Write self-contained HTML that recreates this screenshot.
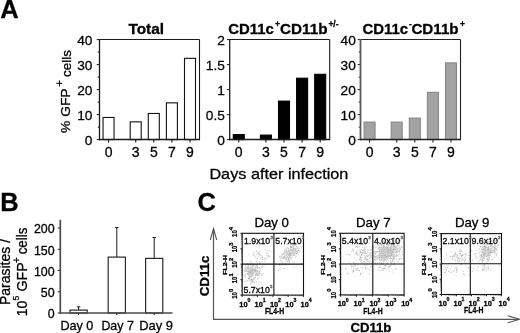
<!DOCTYPE html>
<html><head><meta charset="utf-8"><style>
html,body{margin:0;padding:0;background:#fff;width:520px;height:333px;overflow:hidden;}
#w{width:520px;height:333px;will-change:transform;background:#fff;}
svg{display:block;font-family:"Liberation Sans",sans-serif;}
</style></head><body><div id="w">
<svg width="520" height="333" viewBox="0 0 520 333" font-family="Liberation Sans, sans-serif"><defs><filter id="bl" x="-5%" y="-5%" width="110%" height="110%"><feGaussianBlur stdDeviation="0.45"/></filter></defs><text x="0.30" y="18.00" font-size="25.5" text-anchor="start" font-weight="bold" stroke="#000" stroke-width="0.28" fill="#000">A</text>
<line x1="99.50" y1="39.50" x2="199.50" y2="39.50" stroke="#1a1a1a" stroke-width="1.1"/>
<line x1="199.50" y1="39.50" x2="199.50" y2="139.60" stroke="#1a1a1a" stroke-width="1.1"/>
<line x1="96.70" y1="139.60" x2="99.50" y2="139.60" stroke="#1a1a1a" stroke-width="1"/>
<text x="92.40" y="144.50" font-size="13.7" text-anchor="end" stroke="#000" stroke-width="0.28" fill="#000">0</text>
<line x1="96.70" y1="114.60" x2="99.50" y2="114.60" stroke="#1a1a1a" stroke-width="1"/>
<text x="92.40" y="119.50" font-size="13.7" text-anchor="end" stroke="#000" stroke-width="0.28" fill="#000">10</text>
<line x1="96.70" y1="89.60" x2="99.50" y2="89.60" stroke="#1a1a1a" stroke-width="1"/>
<text x="92.40" y="94.50" font-size="13.7" text-anchor="end" stroke="#000" stroke-width="0.28" fill="#000">20</text>
<line x1="96.70" y1="64.60" x2="99.50" y2="64.60" stroke="#1a1a1a" stroke-width="1"/>
<text x="92.40" y="69.50" font-size="13.7" text-anchor="end" stroke="#000" stroke-width="0.28" fill="#000">30</text>
<line x1="96.70" y1="39.60" x2="99.50" y2="39.60" stroke="#1a1a1a" stroke-width="1"/>
<text x="92.40" y="44.50" font-size="13.7" text-anchor="end" stroke="#000" stroke-width="0.28" fill="#000">40</text>
<line x1="97.70" y1="127.10" x2="99.50" y2="127.10" stroke="#1a1a1a" stroke-width="1"/>
<line x1="97.70" y1="102.10" x2="99.50" y2="102.10" stroke="#1a1a1a" stroke-width="1"/>
<line x1="97.70" y1="77.10" x2="99.50" y2="77.10" stroke="#1a1a1a" stroke-width="1"/>
<line x1="97.70" y1="52.10" x2="99.50" y2="52.10" stroke="#1a1a1a" stroke-width="1"/>
<rect x="103.05" y="117.47" width="11.00" height="22.12" fill="#fff" stroke="#111" stroke-width="1.1"/>
<line x1="108.55" y1="139.60" x2="108.55" y2="142.40" stroke="#1a1a1a" stroke-width="1.1"/>
<text x="108.55" y="157.00" font-size="14" text-anchor="middle" stroke="#000" stroke-width="0.28" fill="#000">0</text>
<rect x="130.20" y="121.85" width="11.00" height="17.75" fill="#fff" stroke="#111" stroke-width="1.1"/>
<line x1="135.70" y1="139.60" x2="135.70" y2="142.40" stroke="#1a1a1a" stroke-width="1.1"/>
<text x="135.70" y="157.00" font-size="14" text-anchor="middle" stroke="#000" stroke-width="0.28" fill="#000">3</text>
<rect x="148.30" y="113.47" width="11.00" height="26.12" fill="#fff" stroke="#111" stroke-width="1.1"/>
<line x1="153.80" y1="139.60" x2="153.80" y2="142.40" stroke="#1a1a1a" stroke-width="1.1"/>
<text x="153.80" y="157.00" font-size="14" text-anchor="middle" stroke="#000" stroke-width="0.28" fill="#000">5</text>
<rect x="166.40" y="102.85" width="11.00" height="36.75" fill="#fff" stroke="#111" stroke-width="1.1"/>
<line x1="171.90" y1="139.60" x2="171.90" y2="142.40" stroke="#1a1a1a" stroke-width="1.1"/>
<text x="171.90" y="157.00" font-size="14" text-anchor="middle" stroke="#000" stroke-width="0.28" fill="#000">7</text>
<rect x="184.50" y="58.35" width="11.00" height="81.25" fill="#fff" stroke="#111" stroke-width="1.1"/>
<line x1="190.00" y1="139.60" x2="190.00" y2="142.40" stroke="#1a1a1a" stroke-width="1.1"/>
<text x="190.00" y="157.00" font-size="14" text-anchor="middle" stroke="#000" stroke-width="0.28" fill="#000">9</text>
<line x1="99.50" y1="39.00" x2="99.50" y2="140.30" stroke="#1a1a1a" stroke-width="1.3"/>
<line x1="99.00" y1="139.60" x2="200.00" y2="139.60" stroke="#1a1a1a" stroke-width="1.5"/>
<line x1="229.70" y1="39.50" x2="329.70" y2="39.50" stroke="#1a1a1a" stroke-width="1.1"/>
<line x1="329.70" y1="39.50" x2="329.70" y2="139.60" stroke="#1a1a1a" stroke-width="1.1"/>
<line x1="226.90" y1="139.60" x2="229.70" y2="139.60" stroke="#1a1a1a" stroke-width="1"/>
<text x="224.80" y="144.50" font-size="13.7" text-anchor="end" stroke="#000" stroke-width="0.28" fill="#000">0</text>
<line x1="226.90" y1="114.60" x2="229.70" y2="114.60" stroke="#1a1a1a" stroke-width="1"/>
<text x="224.80" y="119.50" font-size="13.7" text-anchor="end" stroke="#000" stroke-width="0.28" fill="#000">0.5</text>
<line x1="226.90" y1="89.60" x2="229.70" y2="89.60" stroke="#1a1a1a" stroke-width="1"/>
<text x="224.80" y="94.50" font-size="13.7" text-anchor="end" stroke="#000" stroke-width="0.28" fill="#000">1</text>
<line x1="226.90" y1="64.60" x2="229.70" y2="64.60" stroke="#1a1a1a" stroke-width="1"/>
<text x="224.80" y="69.50" font-size="13.7" text-anchor="end" stroke="#000" stroke-width="0.28" fill="#000">1.5</text>
<line x1="226.90" y1="39.60" x2="229.70" y2="39.60" stroke="#1a1a1a" stroke-width="1"/>
<text x="224.80" y="44.50" font-size="13.7" text-anchor="end" stroke="#000" stroke-width="0.28" fill="#000">2</text>
<rect x="233.25" y="134.60" width="11.00" height="5.00" fill="#000" stroke="#000" stroke-width="1.1"/>
<line x1="238.75" y1="139.60" x2="238.75" y2="142.40" stroke="#1a1a1a" stroke-width="1.1"/>
<text x="238.75" y="157.00" font-size="14" text-anchor="middle" stroke="#000" stroke-width="0.28" fill="#000">0</text>
<rect x="260.40" y="135.10" width="11.00" height="4.50" fill="#000" stroke="#000" stroke-width="1.1"/>
<line x1="265.90" y1="139.60" x2="265.90" y2="142.40" stroke="#1a1a1a" stroke-width="1.1"/>
<text x="265.90" y="157.00" font-size="14" text-anchor="middle" stroke="#000" stroke-width="0.28" fill="#000">3</text>
<rect x="278.50" y="101.10" width="11.00" height="38.50" fill="#000" stroke="#000" stroke-width="1.1"/>
<line x1="284.00" y1="139.60" x2="284.00" y2="142.40" stroke="#1a1a1a" stroke-width="1.1"/>
<text x="284.00" y="157.00" font-size="14" text-anchor="middle" stroke="#000" stroke-width="0.28" fill="#000">5</text>
<rect x="296.60" y="78.20" width="11.00" height="61.40" fill="#000" stroke="#000" stroke-width="1.1"/>
<line x1="302.10" y1="139.60" x2="302.10" y2="142.40" stroke="#1a1a1a" stroke-width="1.1"/>
<text x="302.10" y="157.00" font-size="14" text-anchor="middle" stroke="#000" stroke-width="0.28" fill="#000">7</text>
<rect x="314.70" y="74.30" width="11.00" height="65.30" fill="#000" stroke="#000" stroke-width="1.1"/>
<line x1="320.20" y1="139.60" x2="320.20" y2="142.40" stroke="#1a1a1a" stroke-width="1.1"/>
<text x="320.20" y="157.00" font-size="14" text-anchor="middle" stroke="#000" stroke-width="0.28" fill="#000">9</text>
<line x1="229.70" y1="39.00" x2="229.70" y2="140.30" stroke="#1a1a1a" stroke-width="1.3"/>
<line x1="229.20" y1="139.60" x2="330.20" y2="139.60" stroke="#1a1a1a" stroke-width="1.5"/>
<line x1="360.50" y1="39.50" x2="460.50" y2="39.50" stroke="#222" stroke-width="1.1"/>
<line x1="460.50" y1="39.50" x2="460.50" y2="139.60" stroke="#222" stroke-width="1.1"/>
<line x1="357.70" y1="139.60" x2="360.50" y2="139.60" stroke="#222" stroke-width="1"/>
<text x="355.80" y="144.50" font-size="13.7" text-anchor="end" stroke="#000" stroke-width="0.28" fill="#000">0</text>
<line x1="357.70" y1="114.60" x2="360.50" y2="114.60" stroke="#222" stroke-width="1"/>
<text x="355.80" y="119.50" font-size="13.7" text-anchor="end" stroke="#000" stroke-width="0.28" fill="#000">10</text>
<line x1="357.70" y1="89.60" x2="360.50" y2="89.60" stroke="#222" stroke-width="1"/>
<text x="355.80" y="94.50" font-size="13.7" text-anchor="end" stroke="#000" stroke-width="0.28" fill="#000">20</text>
<line x1="357.70" y1="64.60" x2="360.50" y2="64.60" stroke="#222" stroke-width="1"/>
<text x="355.80" y="69.50" font-size="13.7" text-anchor="end" stroke="#000" stroke-width="0.28" fill="#000">30</text>
<line x1="357.70" y1="39.60" x2="360.50" y2="39.60" stroke="#222" stroke-width="1"/>
<text x="355.80" y="44.50" font-size="13.7" text-anchor="end" stroke="#000" stroke-width="0.28" fill="#000">40</text>
<line x1="358.70" y1="127.10" x2="360.50" y2="127.10" stroke="#222" stroke-width="1"/>
<line x1="358.70" y1="102.10" x2="360.50" y2="102.10" stroke="#222" stroke-width="1"/>
<line x1="358.70" y1="77.10" x2="360.50" y2="77.10" stroke="#222" stroke-width="1"/>
<line x1="358.70" y1="52.10" x2="360.50" y2="52.10" stroke="#222" stroke-width="1"/>
<rect x="364.05" y="122.10" width="11.00" height="17.50" fill="#a3a3a3" stroke="#888" stroke-width="1.1"/>
<line x1="369.55" y1="139.60" x2="369.55" y2="142.40" stroke="#222" stroke-width="1.1"/>
<text x="369.55" y="157.00" font-size="14" text-anchor="middle" stroke="#000" stroke-width="0.28" fill="#000">0</text>
<rect x="391.20" y="122.10" width="11.00" height="17.50" fill="#a3a3a3" stroke="#888" stroke-width="1.1"/>
<line x1="396.70" y1="139.60" x2="396.70" y2="142.40" stroke="#222" stroke-width="1.1"/>
<text x="396.70" y="157.00" font-size="14" text-anchor="middle" stroke="#000" stroke-width="0.28" fill="#000">3</text>
<rect x="409.30" y="118.10" width="11.00" height="21.50" fill="#a3a3a3" stroke="#888" stroke-width="1.1"/>
<line x1="414.80" y1="139.60" x2="414.80" y2="142.40" stroke="#222" stroke-width="1.1"/>
<text x="414.80" y="157.00" font-size="14" text-anchor="middle" stroke="#000" stroke-width="0.28" fill="#000">5</text>
<rect x="427.40" y="92.35" width="11.00" height="47.25" fill="#a3a3a3" stroke="#888" stroke-width="1.1"/>
<line x1="432.90" y1="139.60" x2="432.90" y2="142.40" stroke="#222" stroke-width="1.1"/>
<text x="432.90" y="157.00" font-size="14" text-anchor="middle" stroke="#000" stroke-width="0.28" fill="#000">7</text>
<rect x="445.50" y="62.85" width="11.00" height="76.75" fill="#a3a3a3" stroke="#888" stroke-width="1.1"/>
<line x1="451.00" y1="139.60" x2="451.00" y2="142.40" stroke="#222" stroke-width="1.1"/>
<text x="451.00" y="157.00" font-size="14" text-anchor="middle" stroke="#000" stroke-width="0.28" fill="#000">9</text>
<line x1="360.50" y1="39.00" x2="360.50" y2="140.30" stroke="#5a5a5a" stroke-width="1.8"/>
<line x1="360.00" y1="139.60" x2="461.00" y2="139.60" stroke="#222" stroke-width="1.5"/>
<text x="128.40" y="33.80" font-size="14.3" text-anchor="start" font-weight="bold" stroke="#000" stroke-width="0.28" textLength="35.60" lengthAdjust="spacingAndGlyphs" fill="#000">Total</text>
<text x="228.20" y="34.00" font-size="14.3" text-anchor="start" font-weight="bold" stroke="#000" stroke-width="0.28" textLength="45.60" lengthAdjust="spacingAndGlyphs" fill="#000">CD11c</text>
<text x="275.00" y="27.00" font-size="8.5" text-anchor="start" font-weight="bold" stroke="#000" stroke-width="0.28" fill="#000">+</text>
<text x="280.00" y="34.00" font-size="14.3" text-anchor="start" font-weight="bold" stroke="#000" stroke-width="0.28" textLength="47.60" lengthAdjust="spacingAndGlyphs" fill="#000">CD11b</text>
<text x="328.40" y="27.00" font-size="8.5" text-anchor="start" font-weight="bold" stroke="#000" stroke-width="0.28" fill="#000">+/-</text>
<text x="362.40" y="33.80" font-size="14.3" text-anchor="start" font-weight="bold" stroke="#000" stroke-width="0.28" textLength="45.60" lengthAdjust="spacingAndGlyphs" fill="#000">CD11c</text>
<text x="409.00" y="27.00" font-size="8.5" text-anchor="start" font-weight="bold" stroke="#000" stroke-width="0.28" fill="#000">-</text>
<text x="411.40" y="33.80" font-size="14.3" text-anchor="start" font-weight="bold" stroke="#000" stroke-width="0.28" textLength="47.20" lengthAdjust="spacingAndGlyphs" fill="#000">CD11b</text>
<text x="460.00" y="27.00" font-size="8.5" text-anchor="start" font-weight="bold" stroke="#000" stroke-width="0.28" fill="#000">+</text>
<text transform="translate(70.40,133.00) rotate(-90)" font-size="13.7" text-anchor="start" stroke="#000" stroke-width="0.28" textLength="44.60" lengthAdjust="spacingAndGlyphs" fill="#000">% GFP</text>
<text transform="translate(62.80,86.70) rotate(-90)" font-size="11.5" text-anchor="start" stroke="#000" stroke-width="0.28" fill="#000">+</text>
<text transform="translate(70.60,76.90) rotate(-90)" font-size="13.7" text-anchor="start" stroke="#000" stroke-width="0.28" textLength="26.80" lengthAdjust="spacingAndGlyphs" fill="#000">cells</text>
<text x="209.40" y="178.50" font-size="15.3" text-anchor="start" stroke="#000" stroke-width="0.28" textLength="139.00" lengthAdjust="spacingAndGlyphs" fill="#000">Days after infection</text>
<text x="0.30" y="210.80" font-size="25.5" text-anchor="start" font-weight="bold" stroke="#000" stroke-width="0.28" fill="#000">B</text>
<line x1="57.80" y1="313.00" x2="60.30" y2="313.00" stroke="#1a1a1a" stroke-width="1"/>
<text x="54.60" y="318.30" font-size="12.4" text-anchor="end" stroke="#000" stroke-width="0.28" fill="#000">0</text>
<line x1="57.80" y1="291.75" x2="60.30" y2="291.75" stroke="#1a1a1a" stroke-width="1"/>
<text x="54.60" y="297.05" font-size="12.4" text-anchor="end" stroke="#000" stroke-width="0.28" fill="#000">50</text>
<line x1="57.80" y1="270.50" x2="60.30" y2="270.50" stroke="#1a1a1a" stroke-width="1"/>
<text x="54.60" y="275.80" font-size="12.4" text-anchor="end" stroke="#000" stroke-width="0.28" fill="#000">100</text>
<line x1="57.80" y1="249.25" x2="60.30" y2="249.25" stroke="#1a1a1a" stroke-width="1"/>
<text x="54.60" y="254.55" font-size="12.4" text-anchor="end" stroke="#000" stroke-width="0.28" fill="#000">150</text>
<line x1="57.80" y1="228.00" x2="60.30" y2="228.00" stroke="#1a1a1a" stroke-width="1"/>
<text x="54.60" y="233.30" font-size="12.4" text-anchor="end" stroke="#000" stroke-width="0.28" fill="#000">200</text>
<line x1="78.60" y1="310.11" x2="78.60" y2="306.84" stroke="#1a1a1a" stroke-width="1"/>
<line x1="76.90" y1="306.84" x2="80.30" y2="306.84" stroke="#1a1a1a" stroke-width="1"/>
<rect x="70.00" y="310.11" width="17.20" height="2.89" fill="#fff" stroke="#2a2a2a" stroke-width="1.2"/>
<line x1="78.60" y1="313.00" x2="78.60" y2="315.00" stroke="#1a1a1a" stroke-width="1"/>
<text x="60.40" y="329.60" font-size="12.6" text-anchor="start" stroke="#000" stroke-width="0.28" textLength="33.00" lengthAdjust="spacingAndGlyphs" fill="#000">Day 0</text>
<line x1="116.80" y1="257.11" x2="116.80" y2="227.57" stroke="#1a1a1a" stroke-width="1"/>
<line x1="115.10" y1="227.57" x2="118.50" y2="227.57" stroke="#1a1a1a" stroke-width="1"/>
<rect x="108.20" y="257.11" width="17.20" height="55.89" fill="#fff" stroke="#2a2a2a" stroke-width="1.2"/>
<line x1="116.80" y1="313.00" x2="116.80" y2="315.00" stroke="#1a1a1a" stroke-width="1"/>
<text x="101.40" y="329.60" font-size="12.6" text-anchor="start" stroke="#000" stroke-width="0.28" textLength="32.40" lengthAdjust="spacingAndGlyphs" fill="#000">Day 7</text>
<line x1="154.20" y1="258.39" x2="154.20" y2="237.56" stroke="#1a1a1a" stroke-width="1"/>
<line x1="152.50" y1="237.56" x2="155.90" y2="237.56" stroke="#1a1a1a" stroke-width="1"/>
<rect x="145.60" y="258.39" width="17.20" height="54.61" fill="#fff" stroke="#2a2a2a" stroke-width="1.2"/>
<line x1="154.20" y1="313.00" x2="154.20" y2="315.00" stroke="#1a1a1a" stroke-width="1"/>
<text x="139.20" y="329.60" font-size="12.6" text-anchor="start" stroke="#000" stroke-width="0.28" textLength="33.80" lengthAdjust="spacingAndGlyphs" fill="#000">Day 9</text>
<line x1="60.30" y1="219.80" x2="60.30" y2="313.70" stroke="#4a4a4a" stroke-width="1.7"/>
<line x1="59.80" y1="313.00" x2="172.50" y2="313.00" stroke="#4a4a4a" stroke-width="1.5"/>
<text transform="translate(9.70,305.10) rotate(-90)" font-size="14" text-anchor="start" stroke="#000" stroke-width="0.28" fill="#000">Parasites /</text>
<text transform="translate(26.90,316.30) rotate(-90)" font-size="14" text-anchor="start" stroke="#000" stroke-width="0.28" fill="#000">10</text>
<text transform="translate(18.60,300.40) rotate(-90)" font-size="8.6" text-anchor="start" stroke="#000" stroke-width="0.28" fill="#000">5</text>
<text transform="translate(26.70,291.50) rotate(-90)" font-size="14" text-anchor="start" stroke="#000" stroke-width="0.28" textLength="29.20" lengthAdjust="spacingAndGlyphs" fill="#000">GFP</text>
<text transform="translate(20.40,262.90) rotate(-90)" font-size="10" text-anchor="start" stroke="#000" stroke-width="0.28" fill="#000">+</text>
<text transform="translate(26.70,254.30) rotate(-90)" font-size="14" text-anchor="start" stroke="#000" stroke-width="0.28" textLength="26.60" lengthAdjust="spacingAndGlyphs" fill="#000">cells</text>
<text x="197.60" y="210.80" font-size="25.5" text-anchor="start" font-weight="bold" stroke="#000" stroke-width="0.28" fill="#000">C</text>
<line x1="213.50" y1="229.00" x2="213.50" y2="319.30" stroke="#555" stroke-width="1.2"/>
<line x1="213.00" y1="319.30" x2="519.00" y2="319.30" stroke="#555" stroke-width="1.2"/>
<path d="M210.3,240 L213.5,228.5 L216.7,240" fill="none" stroke="#555" stroke-width="1.1"/>
<path d="M507.7,315.8 L519.6,319.3 L507.7,322.8" fill="none" stroke="#555" stroke-width="1.1"/>
<text transform="translate(209.30,296.20) rotate(-90)" font-size="12.5" text-anchor="start" font-weight="bold" stroke="#000" stroke-width="0.28" textLength="40.50" lengthAdjust="spacingAndGlyphs" fill="#000">CD11c</text>
<text x="350.40" y="332.30" font-size="13" text-anchor="start" font-weight="bold" stroke="#000" stroke-width="0.28" textLength="41.00" lengthAdjust="spacingAndGlyphs" fill="#000">CD11b</text>
<g filter="url(#bl)">
<rect x="288.8" y="254.9" width="1" height="1" fill="rgb(211,211,211)"/>
<rect x="298.0" y="250.0" width="1" height="1" fill="rgb(176,176,176)"/>
<rect x="289.0" y="253.7" width="1" height="1" fill="rgb(202,202,202)"/>
<rect x="290.4" y="253.6" width="1" height="1" fill="rgb(196,196,196)"/>
<rect x="291.8" y="251.8" width="1" height="1" fill="rgb(197,197,197)"/>
<rect x="295.4" y="251.0" width="1" height="1" fill="rgb(184,184,184)"/>
<rect x="285.9" y="250.1" width="1" height="1" fill="rgb(173,173,173)"/>
<rect x="286.0" y="252.2" width="1" height="1" fill="rgb(184,184,184)"/>
<rect x="298.5" y="249.7" width="1" height="1" fill="rgb(188,188,188)"/>
<rect x="285.1" y="257.4" width="1" height="1" fill="rgb(206,206,206)"/>
<rect x="287.0" y="261.1" width="1" height="1" fill="rgb(181,181,181)"/>
<rect x="294.7" y="252.8" width="1" height="1" fill="rgb(182,182,182)"/>
<rect x="286.1" y="258.1" width="1" height="1" fill="rgb(174,174,174)"/>
<rect x="284.3" y="252.8" width="1" height="1" fill="rgb(201,201,201)"/>
<rect x="288.0" y="249.0" width="1" height="1" fill="rgb(190,190,190)"/>
<rect x="280.0" y="259.6" width="1" height="1" fill="rgb(193,193,193)"/>
<rect x="287.5" y="260.7" width="1" height="1" fill="rgb(214,214,214)"/>
<rect x="290.3" y="250.0" width="1" height="1" fill="rgb(189,189,189)"/>
<rect x="280.9" y="255.6" width="1" height="1" fill="rgb(216,216,216)"/>
<rect x="284.1" y="257.1" width="1" height="1" fill="rgb(174,174,174)"/>
<rect x="293.5" y="253.1" width="1" height="1" fill="rgb(218,218,218)"/>
<rect x="284.3" y="263.6" width="1" height="1" fill="rgb(196,196,196)"/>
<rect x="296.5" y="250.0" width="1" height="1" fill="rgb(218,218,218)"/>
<rect x="282.6" y="253.4" width="1" height="1" fill="rgb(190,190,190)"/>
<rect x="287.8" y="256.6" width="1" height="1" fill="rgb(201,201,201)"/>
<rect x="285.6" y="252.1" width="1" height="1" fill="rgb(175,175,175)"/>
<rect x="294.8" y="247.7" width="1" height="1" fill="rgb(212,212,212)"/>
<rect x="296.7" y="251.1" width="1" height="1" fill="rgb(189,189,189)"/>
<rect x="281.5" y="245.8" width="1" height="1" fill="rgb(198,198,198)"/>
<rect x="289.0" y="256.7" width="1" height="1" fill="rgb(212,212,212)"/>
<rect x="283.9" y="263.8" width="1" height="1" fill="rgb(192,192,192)"/>
<rect x="291.1" y="253.3" width="1" height="1" fill="rgb(173,173,173)"/>
<rect x="290.7" y="255.1" width="1" height="1" fill="rgb(217,217,217)"/>
<rect x="290.1" y="256.3" width="1" height="1" fill="rgb(201,201,201)"/>
<rect x="294.3" y="251.9" width="1" height="1" fill="rgb(205,205,205)"/>
<rect x="289.6" y="254.6" width="1" height="1" fill="rgb(197,197,197)"/>
<rect x="292.4" y="248.0" width="1" height="1" fill="rgb(196,196,196)"/>
<rect x="296.8" y="247.7" width="1" height="1" fill="rgb(194,194,194)"/>
<rect x="292.5" y="250.0" width="1" height="1" fill="rgb(181,181,181)"/>
<rect x="293.8" y="255.0" width="1" height="1" fill="rgb(170,170,170)"/>
<rect x="284.0" y="255.9" width="1" height="1" fill="rgb(186,186,186)"/>
<rect x="289.5" y="254.7" width="1" height="1" fill="rgb(204,204,204)"/>
<rect x="286.0" y="258.3" width="1" height="1" fill="rgb(178,178,178)"/>
<rect x="288.0" y="248.2" width="1" height="1" fill="rgb(209,209,209)"/>
<rect x="285.8" y="248.4" width="1" height="1" fill="rgb(199,199,199)"/>
<rect x="296.3" y="244.0" width="1" height="1" fill="rgb(213,213,213)"/>
<rect x="291.3" y="247.1" width="1" height="1" fill="rgb(195,195,195)"/>
<rect x="285.9" y="257.3" width="1" height="1" fill="rgb(195,195,195)"/>
<rect x="291.6" y="251.8" width="1" height="1" fill="rgb(183,183,183)"/>
<rect x="288.0" y="253.9" width="1" height="1" fill="rgb(208,208,208)"/>
<rect x="290.1" y="252.0" width="1" height="1" fill="rgb(179,179,179)"/>
<rect x="279.3" y="255.5" width="1" height="1" fill="rgb(209,209,209)"/>
<rect x="299.0" y="248.4" width="1" height="1" fill="rgb(209,209,209)"/>
<rect x="285.5" y="258.8" width="1" height="1" fill="rgb(192,192,192)"/>
<rect x="285.9" y="251.3" width="1" height="1" fill="rgb(177,177,177)"/>
<rect x="298.3" y="236.3" width="1" height="1" fill="rgb(199,199,199)"/>
<rect x="286.1" y="254.6" width="1" height="1" fill="rgb(179,179,179)"/>
<rect x="293.3" y="252.5" width="1" height="1" fill="rgb(186,186,186)"/>
<rect x="283.2" y="256.7" width="1" height="1" fill="rgb(203,203,203)"/>
<rect x="300.9" y="247.5" width="1" height="1" fill="rgb(203,203,203)"/>
<rect x="285.6" y="259.5" width="1" height="1" fill="rgb(171,171,171)"/>
<rect x="290.2" y="248.3" width="1" height="1" fill="rgb(211,211,211)"/>
<rect x="294.5" y="244.4" width="1" height="1" fill="rgb(186,186,186)"/>
<rect x="280.2" y="256.3" width="1" height="1" fill="rgb(192,192,192)"/>
<rect x="290.8" y="246.3" width="1" height="1" fill="rgb(202,202,202)"/>
<rect x="288.5" y="255.6" width="1" height="1" fill="rgb(218,218,218)"/>
<rect x="294.9" y="243.0" width="1" height="1" fill="rgb(195,195,195)"/>
<rect x="289.8" y="249.0" width="1" height="1" fill="rgb(203,203,203)"/>
<rect x="282.7" y="256.4" width="1" height="1" fill="rgb(171,171,171)"/>
<rect x="291.3" y="246.6" width="1" height="1" fill="rgb(182,182,182)"/>
<rect x="286.0" y="244.1" width="1" height="1" fill="rgb(198,198,198)"/>
<rect x="292.6" y="244.1" width="1" height="1" fill="rgb(192,192,192)"/>
<rect x="294.1" y="248.6" width="1" height="1" fill="rgb(184,184,184)"/>
<rect x="294.1" y="252.7" width="1" height="1" fill="rgb(191,191,191)"/>
<rect x="291.8" y="256.8" width="1" height="1" fill="rgb(209,209,209)"/>
<rect x="292.8" y="246.3" width="1" height="1" fill="rgb(211,211,211)"/>
<rect x="286.4" y="259.2" width="1" height="1" fill="rgb(212,212,212)"/>
<rect x="293.3" y="253.1" width="1" height="1" fill="rgb(215,215,215)"/>
<rect x="290.0" y="247.1" width="1" height="1" fill="rgb(181,181,181)"/>
<rect x="284.1" y="257.7" width="1" height="1" fill="rgb(175,175,175)"/>
<rect x="293.8" y="238.9" width="1" height="1" fill="rgb(195,195,195)"/>
<rect x="282.8" y="257.7" width="1" height="1" fill="rgb(175,175,175)"/>
<rect x="289.6" y="249.6" width="1" height="1" fill="rgb(178,178,178)"/>
<rect x="295.9" y="249.7" width="1" height="1" fill="rgb(199,199,199)"/>
<rect x="290.9" y="249.2" width="1" height="1" fill="rgb(208,208,208)"/>
<rect x="296.5" y="247.6" width="1" height="1" fill="rgb(192,192,192)"/>
<rect x="293.2" y="254.8" width="1" height="1" fill="rgb(171,171,171)"/>
<rect x="301.9" y="246.4" width="1" height="1" fill="rgb(211,211,211)"/>
<rect x="296.0" y="253.0" width="1" height="1" fill="rgb(178,178,178)"/>
<rect x="281.7" y="260.2" width="1" height="1" fill="rgb(183,183,183)"/>
<rect x="293.1" y="250.8" width="1" height="1" fill="rgb(202,202,202)"/>
<rect x="290.4" y="257.5" width="1" height="1" fill="rgb(186,186,186)"/>
<rect x="281.8" y="254.3" width="1" height="1" fill="rgb(173,173,173)"/>
<rect x="293.6" y="247.9" width="1" height="1" fill="rgb(199,199,199)"/>
<rect x="285.7" y="247.6" width="1" height="1" fill="rgb(203,203,203)"/>
<rect x="281.2" y="261.5" width="1" height="1" fill="rgb(202,202,202)"/>
<rect x="291.8" y="252.8" width="1" height="1" fill="rgb(202,202,202)"/>
<rect x="294.8" y="249.9" width="1" height="1" fill="rgb(181,181,181)"/>
<rect x="284.0" y="250.6" width="1" height="1" fill="rgb(179,179,179)"/>
<rect x="292.4" y="255.0" width="1" height="1" fill="rgb(216,216,216)"/>
<rect x="291.2" y="252.4" width="1" height="1" fill="rgb(213,213,213)"/>
<rect x="284.3" y="254.5" width="1" height="1" fill="rgb(176,176,176)"/>
<rect x="291.1" y="250.4" width="1" height="1" fill="rgb(182,182,182)"/>
<rect x="288.7" y="260.1" width="1" height="1" fill="rgb(202,202,202)"/>
<rect x="289.0" y="252.9" width="1" height="1" fill="rgb(174,174,174)"/>
<rect x="284.2" y="257.3" width="1" height="1" fill="rgb(202,202,202)"/>
<rect x="287.6" y="251.5" width="1" height="1" fill="rgb(187,187,187)"/>
<rect x="284.7" y="256.5" width="1" height="1" fill="rgb(200,200,200)"/>
<rect x="286.6" y="253.7" width="1" height="1" fill="rgb(203,203,203)"/>
<rect x="297.7" y="240.5" width="1" height="1" fill="rgb(186,186,186)"/>
<rect x="298.4" y="243.1" width="1" height="1" fill="rgb(182,182,182)"/>
<rect x="291.3" y="249.3" width="1" height="1" fill="rgb(177,177,177)"/>
<rect x="286.9" y="256.1" width="1" height="1" fill="rgb(212,212,212)"/>
<rect x="290.1" y="253.6" width="1" height="1" fill="rgb(212,212,212)"/>
<rect x="289.3" y="254.5" width="1" height="1" fill="rgb(179,179,179)"/>
<rect x="296.0" y="246.4" width="1" height="1" fill="rgb(193,193,193)"/>
<rect x="295.8" y="255.8" width="1" height="1" fill="rgb(199,199,199)"/>
<rect x="292.1" y="261.3" width="1" height="1" fill="rgb(195,195,195)"/>
<rect x="292.0" y="249.2" width="1" height="1" fill="rgb(212,212,212)"/>
<rect x="291.3" y="249.0" width="1" height="1" fill="rgb(197,197,197)"/>
<rect x="294.6" y="249.3" width="1" height="1" fill="rgb(196,196,196)"/>
<rect x="291.3" y="254.8" width="1" height="1" fill="rgb(216,216,216)"/>
<rect x="287.3" y="256.4" width="1" height="1" fill="rgb(199,199,199)"/>
<rect x="289.2" y="252.7" width="1" height="1" fill="rgb(191,191,191)"/>
<rect x="286.3" y="253.7" width="1" height="1" fill="rgb(174,174,174)"/>
<rect x="297.6" y="254.1" width="1" height="1" fill="rgb(184,184,184)"/>
<rect x="292.1" y="250.5" width="1" height="1" fill="rgb(186,186,186)"/>
<rect x="288.7" y="262.1" width="1" height="1" fill="rgb(181,181,181)"/>
<rect x="289.7" y="254.4" width="1" height="1" fill="rgb(197,197,197)"/>
<rect x="294.0" y="244.5" width="1" height="1" fill="rgb(186,186,186)"/>
<rect x="285.4" y="257.6" width="1" height="1" fill="rgb(202,202,202)"/>
<rect x="283.7" y="252.6" width="1" height="1" fill="rgb(175,175,175)"/>
<rect x="288.5" y="260.4" width="1" height="1" fill="rgb(181,181,181)"/>
<rect x="288.4" y="253.6" width="1" height="1" fill="rgb(171,171,171)"/>
<rect x="284.6" y="249.2" width="1" height="1" fill="rgb(175,175,175)"/>
<rect x="287.5" y="251.4" width="1" height="1" fill="rgb(186,186,186)"/>
<rect x="293.2" y="246.6" width="1" height="1" fill="rgb(191,191,191)"/>
<rect x="294.7" y="249.2" width="1" height="1" fill="rgb(187,187,187)"/>
<rect x="289.0" y="251.6" width="1" height="1" fill="rgb(215,215,215)"/>
<rect x="290.2" y="254.0" width="1" height="1" fill="rgb(180,180,180)"/>
<rect x="289.8" y="254.8" width="1" height="1" fill="rgb(189,189,189)"/>
<rect x="286.2" y="250.3" width="1" height="1" fill="rgb(183,183,183)"/>
<rect x="288.7" y="257.7" width="1" height="1" fill="rgb(181,181,181)"/>
<rect x="289.0" y="260.3" width="1" height="1" fill="rgb(186,186,186)"/>
<rect x="290.8" y="251.7" width="1" height="1" fill="rgb(202,202,202)"/>
<rect x="287.2" y="252.7" width="1" height="1" fill="rgb(200,200,200)"/>
<rect x="290.1" y="256.6" width="1" height="1" fill="rgb(212,212,212)"/>
<rect x="292.0" y="246.7" width="1" height="1" fill="rgb(201,201,201)"/>
<rect x="281.0" y="254.4" width="1" height="1" fill="rgb(202,202,202)"/>
<rect x="288.9" y="255.4" width="1" height="1" fill="rgb(184,184,184)"/>
<rect x="285.3" y="261.4" width="1" height="1" fill="rgb(215,215,215)"/>
<rect x="289.7" y="249.8" width="1" height="1" fill="rgb(192,192,192)"/>
<rect x="298.5" y="246.3" width="1" height="1" fill="rgb(170,170,170)"/>
<rect x="296.7" y="251.3" width="1" height="1" fill="rgb(186,186,186)"/>
<rect x="288.6" y="253.4" width="1" height="1" fill="rgb(212,212,212)"/>
<rect x="294.9" y="241.9" width="1" height="1" fill="rgb(212,212,212)"/>
<rect x="296.0" y="247.6" width="1" height="1" fill="rgb(214,214,214)"/>
<rect x="288.7" y="257.4" width="1" height="1" fill="rgb(180,180,180)"/>
<rect x="290.0" y="252.4" width="1" height="1" fill="rgb(193,193,193)"/>
<rect x="301.7" y="242.7" width="1" height="1" fill="rgb(205,205,205)"/>
<rect x="289.5" y="253.3" width="1" height="1" fill="rgb(189,189,189)"/>
<rect x="290.6" y="254.4" width="1" height="1" fill="rgb(191,191,191)"/>
<rect x="286.2" y="257.4" width="1" height="1" fill="rgb(202,202,202)"/>
<rect x="288.1" y="250.3" width="1" height="1" fill="rgb(170,170,170)"/>
<rect x="297.0" y="252.4" width="1" height="1" fill="rgb(179,179,179)"/>
<rect x="288.9" y="253.3" width="1" height="1" fill="rgb(171,171,171)"/>
<rect x="288.1" y="258.9" width="1" height="1" fill="rgb(175,175,175)"/>
<rect x="285.3" y="251.9" width="1" height="1" fill="rgb(218,218,218)"/>
<rect x="295.3" y="256.6" width="1" height="1" fill="rgb(208,208,208)"/>
<rect x="286.9" y="256.2" width="1" height="1" fill="rgb(201,201,201)"/>
<rect x="294.3" y="255.2" width="1" height="1" fill="rgb(211,211,211)"/>
<rect x="295.2" y="255.5" width="1" height="1" fill="rgb(215,215,215)"/>
<rect x="294.9" y="245.4" width="1" height="1" fill="rgb(216,216,216)"/>
<rect x="288.4" y="248.0" width="1" height="1" fill="rgb(203,203,203)"/>
<rect x="290.1" y="246.3" width="1" height="1" fill="rgb(171,171,171)"/>
<rect x="292.8" y="245.4" width="1" height="1" fill="rgb(215,215,215)"/>
<rect x="287.2" y="247.5" width="1" height="1" fill="rgb(184,184,184)"/>
<rect x="291.1" y="252.0" width="1" height="1" fill="rgb(210,210,210)"/>
<rect x="288.6" y="254.3" width="1" height="1" fill="rgb(198,198,198)"/>
<rect x="284.1" y="253.1" width="1" height="1" fill="rgb(210,210,210)"/>
<rect x="286.7" y="253.2" width="1" height="1" fill="rgb(186,186,186)"/>
<rect x="298.0" y="247.7" width="1" height="1" fill="rgb(217,217,217)"/>
<rect x="298.8" y="243.3" width="1" height="1" fill="rgb(175,175,175)"/>
<rect x="289.1" y="251.2" width="1" height="1" fill="rgb(217,217,217)"/>
<rect x="281.9" y="257.8" width="1" height="1" fill="rgb(186,186,186)"/>
<rect x="290.7" y="258.8" width="1" height="1" fill="rgb(184,184,184)"/>
<rect x="289.2" y="240.7" width="1" height="1" fill="rgb(201,201,201)"/>
<rect x="291.0" y="250.0" width="1" height="1" fill="rgb(213,213,213)"/>
<rect x="289.7" y="253.5" width="1" height="1" fill="rgb(210,210,210)"/>
<rect x="288.9" y="251.3" width="1" height="1" fill="rgb(179,179,179)"/>
<rect x="286.8" y="259.3" width="1" height="1" fill="rgb(214,214,214)"/>
<rect x="288.0" y="258.4" width="1" height="1" fill="rgb(170,170,170)"/>
<rect x="284.8" y="255.4" width="1" height="1" fill="rgb(213,213,213)"/>
<rect x="292.6" y="252.4" width="1" height="1" fill="rgb(201,201,201)"/>
<rect x="288.6" y="257.8" width="1" height="1" fill="rgb(199,199,199)"/>
<rect x="282.5" y="257.7" width="1" height="1" fill="rgb(205,205,205)"/>
<rect x="293.9" y="261.2" width="1" height="1" fill="rgb(200,200,200)"/>
<rect x="295.0" y="249.8" width="1" height="1" fill="rgb(202,202,202)"/>
<rect x="294.8" y="248.4" width="1" height="1" fill="rgb(187,187,187)"/>
<rect x="282.4" y="262.5" width="1" height="1" fill="rgb(183,183,183)"/>
<rect x="291.7" y="251.9" width="1" height="1" fill="rgb(217,217,217)"/>
<rect x="279.0" y="256.5" width="1" height="1" fill="rgb(178,178,178)"/>
<rect x="284.9" y="251.1" width="1" height="1" fill="rgb(187,187,187)"/>
<rect x="295.3" y="244.6" width="1" height="1" fill="rgb(184,184,184)"/>
<rect x="280.8" y="257.2" width="1" height="1" fill="rgb(195,195,195)"/>
<rect x="290.4" y="251.8" width="1" height="1" fill="rgb(201,201,201)"/>
<rect x="288.1" y="249.0" width="1" height="1" fill="rgb(216,216,216)"/>
<rect x="292.6" y="253.6" width="1" height="1" fill="rgb(190,190,190)"/>
<rect x="292.9" y="253.0" width="1" height="1" fill="rgb(190,190,190)"/>
<rect x="290.0" y="243.7" width="1" height="1" fill="rgb(177,177,177)"/>
<rect x="292.8" y="249.4" width="1" height="1" fill="rgb(170,170,170)"/>
<rect x="293.0" y="248.2" width="1" height="1" fill="rgb(193,193,193)"/>
<rect x="294.1" y="251.4" width="1" height="1" fill="rgb(207,207,207)"/>
<rect x="299.1" y="251.5" width="1" height="1" fill="rgb(218,218,218)"/>
<rect x="289.8" y="253.5" width="1" height="1" fill="rgb(176,176,176)"/>
<rect x="296.3" y="250.5" width="1" height="1" fill="rgb(210,210,210)"/>
<rect x="293.1" y="249.0" width="1" height="1" fill="rgb(187,187,187)"/>
<rect x="286.4" y="255.5" width="1" height="1" fill="rgb(193,193,193)"/>
<rect x="291.0" y="247.0" width="1" height="1" fill="rgb(171,171,171)"/>
<rect x="292.4" y="245.0" width="1" height="1" fill="rgb(205,205,205)"/>
<rect x="283.2" y="253.7" width="1" height="1" fill="rgb(173,173,173)"/>
<rect x="294.2" y="247.8" width="1" height="1" fill="rgb(209,209,209)"/>
<rect x="290.1" y="245.7" width="1" height="1" fill="rgb(188,188,188)"/>
<rect x="280.1" y="258.4" width="1" height="1" fill="rgb(205,205,205)"/>
<rect x="293.5" y="253.5" width="1" height="1" fill="rgb(191,191,191)"/>
<rect x="289.3" y="255.6" width="1" height="1" fill="rgb(217,217,217)"/>
<rect x="293.5" y="249.6" width="1" height="1" fill="rgb(211,211,211)"/>
<rect x="290.4" y="256.8" width="1" height="1" fill="rgb(212,212,212)"/>
<rect x="287.9" y="254.8" width="1" height="1" fill="rgb(180,180,180)"/>
<rect x="294.7" y="251.7" width="1" height="1" fill="rgb(201,201,201)"/>
<rect x="245.8" y="269.6" width="1" height="1" fill="rgb(191,191,191)"/>
<rect x="256.5" y="270.9" width="1" height="1" fill="rgb(178,178,178)"/>
<rect x="247.4" y="270.1" width="1" height="1" fill="rgb(181,181,181)"/>
<rect x="249.8" y="272.5" width="1" height="1" fill="rgb(185,185,185)"/>
<rect x="244.8" y="276.4" width="1" height="1" fill="rgb(182,182,182)"/>
<rect x="257.3" y="266.7" width="1" height="1" fill="rgb(196,196,196)"/>
<rect x="244.9" y="275.4" width="1" height="1" fill="rgb(183,183,183)"/>
<rect x="247.8" y="273.5" width="1" height="1" fill="rgb(173,173,173)"/>
<rect x="244.5" y="271.1" width="1" height="1" fill="rgb(193,193,193)"/>
<rect x="255.2" y="274.4" width="1" height="1" fill="rgb(210,210,210)"/>
<rect x="253.4" y="263.5" width="1" height="1" fill="rgb(175,175,175)"/>
<rect x="250.5" y="274.0" width="1" height="1" fill="rgb(195,195,195)"/>
<rect x="247.8" y="267.6" width="1" height="1" fill="rgb(189,189,189)"/>
<rect x="256.9" y="264.4" width="1" height="1" fill="rgb(171,171,171)"/>
<rect x="254.7" y="274.0" width="1" height="1" fill="rgb(218,218,218)"/>
<rect x="255.5" y="268.2" width="1" height="1" fill="rgb(207,207,207)"/>
<rect x="249.1" y="271.1" width="1" height="1" fill="rgb(203,203,203)"/>
<rect x="259.2" y="262.6" width="1" height="1" fill="rgb(185,185,185)"/>
<rect x="251.7" y="268.2" width="1" height="1" fill="rgb(179,179,179)"/>
<rect x="243.5" y="270.2" width="1" height="1" fill="rgb(216,216,216)"/>
<rect x="248.1" y="263.6" width="1" height="1" fill="rgb(199,199,199)"/>
<rect x="258.5" y="274.5" width="1" height="1" fill="rgb(170,170,170)"/>
<rect x="251.7" y="268.1" width="1" height="1" fill="rgb(172,172,172)"/>
<rect x="248.4" y="268.3" width="1" height="1" fill="rgb(178,178,178)"/>
<rect x="246.7" y="267.5" width="1" height="1" fill="rgb(197,197,197)"/>
<rect x="250.2" y="269.2" width="1" height="1" fill="rgb(174,174,174)"/>
<rect x="247.3" y="280.1" width="1" height="1" fill="rgb(182,182,182)"/>
<rect x="248.3" y="272.8" width="1" height="1" fill="rgb(208,208,208)"/>
<rect x="257.2" y="271.0" width="1" height="1" fill="rgb(199,199,199)"/>
<rect x="250.2" y="274.4" width="1" height="1" fill="rgb(185,185,185)"/>
<rect x="247.4" y="271.5" width="1" height="1" fill="rgb(185,185,185)"/>
<rect x="256.1" y="271.8" width="1" height="1" fill="rgb(211,211,211)"/>
<rect x="250.6" y="271.8" width="1" height="1" fill="rgb(201,201,201)"/>
<rect x="256.4" y="267.2" width="1" height="1" fill="rgb(175,175,175)"/>
<rect x="250.7" y="276.9" width="1" height="1" fill="rgb(193,193,193)"/>
<rect x="251.2" y="272.0" width="1" height="1" fill="rgb(191,191,191)"/>
<rect x="250.1" y="267.3" width="1" height="1" fill="rgb(195,195,195)"/>
<rect x="253.9" y="277.8" width="1" height="1" fill="rgb(217,217,217)"/>
<rect x="252.1" y="269.8" width="1" height="1" fill="rgb(201,201,201)"/>
<rect x="255.2" y="270.3" width="1" height="1" fill="rgb(182,182,182)"/>
<rect x="251.4" y="273.8" width="1" height="1" fill="rgb(218,218,218)"/>
<rect x="252.8" y="269.8" width="1" height="1" fill="rgb(209,209,209)"/>
<rect x="247.8" y="271.1" width="1" height="1" fill="rgb(184,184,184)"/>
<rect x="257.3" y="272.9" width="1" height="1" fill="rgb(195,195,195)"/>
<rect x="252.0" y="271.3" width="1" height="1" fill="rgb(208,208,208)"/>
<rect x="252.0" y="272.0" width="1" height="1" fill="rgb(173,173,173)"/>
<rect x="253.2" y="275.0" width="1" height="1" fill="rgb(215,215,215)"/>
<rect x="257.0" y="266.7" width="1" height="1" fill="rgb(175,175,175)"/>
<rect x="255.1" y="269.5" width="1" height="1" fill="rgb(181,181,181)"/>
<rect x="247.5" y="267.0" width="1" height="1" fill="rgb(199,199,199)"/>
<rect x="258.2" y="272.2" width="1" height="1" fill="rgb(194,194,194)"/>
<rect x="258.7" y="261.2" width="1" height="1" fill="rgb(198,198,198)"/>
<rect x="251.2" y="271.3" width="1" height="1" fill="rgb(187,187,187)"/>
<rect x="255.6" y="273.0" width="1" height="1" fill="rgb(177,177,177)"/>
<rect x="244.8" y="275.7" width="1" height="1" fill="rgb(189,189,189)"/>
<rect x="253.3" y="267.2" width="1" height="1" fill="rgb(173,173,173)"/>
<rect x="250.1" y="268.5" width="1" height="1" fill="rgb(204,204,204)"/>
<rect x="253.9" y="269.7" width="1" height="1" fill="rgb(193,193,193)"/>
<rect x="250.5" y="266.5" width="1" height="1" fill="rgb(210,210,210)"/>
<rect x="243.3" y="274.9" width="1" height="1" fill="rgb(195,195,195)"/>
<rect x="252.3" y="271.3" width="1" height="1" fill="rgb(174,174,174)"/>
<rect x="251.6" y="269.6" width="1" height="1" fill="rgb(182,182,182)"/>
<rect x="250.8" y="262.4" width="1" height="1" fill="rgb(191,191,191)"/>
<rect x="248.1" y="273.7" width="1" height="1" fill="rgb(209,209,209)"/>
<rect x="259.0" y="272.8" width="1" height="1" fill="rgb(214,214,214)"/>
<rect x="249.4" y="273.9" width="1" height="1" fill="rgb(170,170,170)"/>
<rect x="249.8" y="265.7" width="1" height="1" fill="rgb(210,210,210)"/>
<rect x="252.7" y="270.5" width="1" height="1" fill="rgb(184,184,184)"/>
<rect x="257.2" y="275.0" width="1" height="1" fill="rgb(199,199,199)"/>
<rect x="255.7" y="269.9" width="1" height="1" fill="rgb(186,186,186)"/>
<rect x="258.9" y="267.2" width="1" height="1" fill="rgb(178,178,178)"/>
<rect x="253.9" y="269.9" width="1" height="1" fill="rgb(217,217,217)"/>
<rect x="248.5" y="276.8" width="1" height="1" fill="rgb(179,179,179)"/>
<rect x="247.5" y="268.8" width="1" height="1" fill="rgb(190,190,190)"/>
<rect x="246.1" y="268.3" width="1" height="1" fill="rgb(195,195,195)"/>
<rect x="251.1" y="268.0" width="1" height="1" fill="rgb(174,174,174)"/>
<rect x="247.6" y="267.3" width="1" height="1" fill="rgb(204,204,204)"/>
<rect x="244.6" y="281.0" width="1" height="1" fill="rgb(176,176,176)"/>
<rect x="254.9" y="270.8" width="1" height="1" fill="rgb(175,175,175)"/>
<rect x="252.4" y="275.0" width="1" height="1" fill="rgb(215,215,215)"/>
<rect x="254.0" y="270.6" width="1" height="1" fill="rgb(178,178,178)"/>
<rect x="245.0" y="273.8" width="1" height="1" fill="rgb(213,213,213)"/>
<rect x="251.6" y="276.0" width="1" height="1" fill="rgb(212,212,212)"/>
<rect x="251.5" y="264.1" width="1" height="1" fill="rgb(188,188,188)"/>
<rect x="249.2" y="276.0" width="1" height="1" fill="rgb(193,193,193)"/>
<rect x="250.9" y="274.1" width="1" height="1" fill="rgb(198,198,198)"/>
<rect x="251.1" y="274.0" width="1" height="1" fill="rgb(179,179,179)"/>
<rect x="248.9" y="279.6" width="1" height="1" fill="rgb(182,182,182)"/>
<rect x="248.7" y="274.6" width="1" height="1" fill="rgb(185,185,185)"/>
<rect x="247.4" y="270.9" width="1" height="1" fill="rgb(176,176,176)"/>
<rect x="255.5" y="273.7" width="1" height="1" fill="rgb(184,184,184)"/>
<rect x="257.0" y="263.5" width="1" height="1" fill="rgb(172,172,172)"/>
<rect x="253.6" y="269.0" width="1" height="1" fill="rgb(173,173,173)"/>
<rect x="256.0" y="281.0" width="1" height="1" fill="rgb(207,207,207)"/>
<rect x="251.7" y="272.5" width="1" height="1" fill="rgb(202,202,202)"/>
<rect x="254.6" y="267.7" width="1" height="1" fill="rgb(186,186,186)"/>
<rect x="252.2" y="265.2" width="1" height="1" fill="rgb(170,170,170)"/>
<rect x="256.3" y="274.3" width="1" height="1" fill="rgb(209,209,209)"/>
<rect x="250.2" y="271.9" width="1" height="1" fill="rgb(191,191,191)"/>
<rect x="253.1" y="273.1" width="1" height="1" fill="rgb(186,186,186)"/>
<rect x="258.9" y="272.5" width="1" height="1" fill="rgb(183,183,183)"/>
<rect x="254.7" y="264.2" width="1" height="1" fill="rgb(196,196,196)"/>
<rect x="249.6" y="268.7" width="1" height="1" fill="rgb(189,189,189)"/>
<rect x="252.1" y="271.5" width="1" height="1" fill="rgb(201,201,201)"/>
<rect x="249.3" y="270.6" width="1" height="1" fill="rgb(176,176,176)"/>
<rect x="253.1" y="265.3" width="1" height="1" fill="rgb(179,179,179)"/>
<rect x="249.6" y="269.7" width="1" height="1" fill="rgb(180,180,180)"/>
<rect x="247.8" y="272.9" width="1" height="1" fill="rgb(188,188,188)"/>
<rect x="248.4" y="267.4" width="1" height="1" fill="rgb(173,173,173)"/>
<rect x="248.5" y="275.8" width="1" height="1" fill="rgb(192,192,192)"/>
<rect x="250.2" y="271.4" width="1" height="1" fill="rgb(193,193,193)"/>
<rect x="247.9" y="267.9" width="1" height="1" fill="rgb(195,195,195)"/>
<rect x="251.2" y="271.4" width="1" height="1" fill="rgb(180,180,180)"/>
<rect x="248.1" y="271.6" width="1" height="1" fill="rgb(170,170,170)"/>
<rect x="253.6" y="271.7" width="1" height="1" fill="rgb(195,195,195)"/>
<rect x="256.9" y="274.0" width="1" height="1" fill="rgb(193,193,193)"/>
<rect x="250.8" y="268.6" width="1" height="1" fill="rgb(192,192,192)"/>
<rect x="249.7" y="275.7" width="1" height="1" fill="rgb(174,174,174)"/>
<rect x="255.5" y="273.9" width="1" height="1" fill="rgb(182,182,182)"/>
<rect x="248.0" y="278.2" width="1" height="1" fill="rgb(172,172,172)"/>
<rect x="256.7" y="270.3" width="1" height="1" fill="rgb(173,173,173)"/>
<rect x="245.5" y="267.4" width="1" height="1" fill="rgb(175,175,175)"/>
<rect x="256.7" y="267.8" width="1" height="1" fill="rgb(180,180,180)"/>
<rect x="244.7" y="264.9" width="1" height="1" fill="rgb(209,209,209)"/>
<rect x="252.5" y="268.8" width="1" height="1" fill="rgb(183,183,183)"/>
<rect x="262.4" y="273.4" width="1" height="1" fill="rgb(180,180,180)"/>
<rect x="249.1" y="272.4" width="1" height="1" fill="rgb(185,185,185)"/>
<rect x="260.0" y="269.7" width="1" height="1" fill="rgb(182,182,182)"/>
<rect x="257.2" y="272.3" width="1" height="1" fill="rgb(218,218,218)"/>
<rect x="247.5" y="265.8" width="1" height="1" fill="rgb(190,190,190)"/>
<rect x="256.0" y="274.6" width="1" height="1" fill="rgb(205,205,205)"/>
<rect x="256.1" y="265.4" width="1" height="1" fill="rgb(211,211,211)"/>
<rect x="245.2" y="273.5" width="1" height="1" fill="rgb(197,197,197)"/>
<rect x="247.3" y="273.5" width="1" height="1" fill="rgb(202,202,202)"/>
<rect x="250.0" y="271.3" width="1" height="1" fill="rgb(209,209,209)"/>
<rect x="256.6" y="270.6" width="1" height="1" fill="rgb(198,198,198)"/>
<rect x="251.7" y="264.1" width="1" height="1" fill="rgb(199,199,199)"/>
<rect x="255.7" y="264.8" width="1" height="1" fill="rgb(195,195,195)"/>
<rect x="253.1" y="272.3" width="1" height="1" fill="rgb(197,197,197)"/>
<rect x="245.0" y="276.4" width="1" height="1" fill="rgb(202,202,202)"/>
<rect x="249.6" y="270.9" width="1" height="1" fill="rgb(210,210,210)"/>
<rect x="258.7" y="277.6" width="1" height="1" fill="rgb(190,190,190)"/>
<rect x="252.0" y="266.3" width="1" height="1" fill="rgb(173,173,173)"/>
<rect x="251.1" y="262.5" width="1" height="1" fill="rgb(211,211,211)"/>
<rect x="253.6" y="270.3" width="1" height="1" fill="rgb(174,174,174)"/>
<rect x="259.1" y="270.8" width="1" height="1" fill="rgb(177,177,177)"/>
<rect x="255.9" y="281.6" width="1" height="1" fill="rgb(201,201,201)"/>
<rect x="248.8" y="278.1" width="1" height="1" fill="rgb(180,180,180)"/>
<rect x="247.9" y="265.1" width="1" height="1" fill="rgb(184,184,184)"/>
<rect x="255.3" y="272.5" width="1" height="1" fill="rgb(218,218,218)"/>
<rect x="250.9" y="274.5" width="1" height="1" fill="rgb(209,209,209)"/>
<rect x="249.6" y="278.3" width="1" height="1" fill="rgb(179,179,179)"/>
<rect x="250.7" y="281.3" width="1" height="1" fill="rgb(200,200,200)"/>
<rect x="252.0" y="274.0" width="1" height="1" fill="rgb(202,202,202)"/>
<rect x="251.4" y="274.8" width="1" height="1" fill="rgb(182,182,182)"/>
<rect x="252.2" y="273.2" width="1" height="1" fill="rgb(187,187,187)"/>
<rect x="246.5" y="263.3" width="1" height="1" fill="rgb(180,180,180)"/>
<rect x="252.0" y="268.0" width="1" height="1" fill="rgb(203,203,203)"/>
<rect x="260.4" y="273.4" width="1" height="1" fill="rgb(198,198,198)"/>
<rect x="244.8" y="269.2" width="1" height="1" fill="rgb(176,176,176)"/>
<rect x="250.9" y="276.0" width="1" height="1" fill="rgb(195,195,195)"/>
<rect x="250.6" y="267.2" width="1" height="1" fill="rgb(194,194,194)"/>
<rect x="257.6" y="270.7" width="1" height="1" fill="rgb(193,193,193)"/>
<rect x="250.0" y="272.4" width="1" height="1" fill="rgb(184,184,184)"/>
<rect x="254.7" y="276.9" width="1" height="1" fill="rgb(173,173,173)"/>
<rect x="249.3" y="275.6" width="1" height="1" fill="rgb(189,189,189)"/>
<rect x="244.7" y="268.0" width="1" height="1" fill="rgb(190,190,190)"/>
<rect x="250.1" y="264.4" width="1" height="1" fill="rgb(184,184,184)"/>
<rect x="255.1" y="275.5" width="1" height="1" fill="rgb(197,197,197)"/>
<rect x="246.9" y="272.9" width="1" height="1" fill="rgb(173,173,173)"/>
<rect x="253.4" y="273.1" width="1" height="1" fill="rgb(211,211,211)"/>
<rect x="252.6" y="271.4" width="1" height="1" fill="rgb(206,206,206)"/>
<rect x="249.5" y="272.5" width="1" height="1" fill="rgb(192,192,192)"/>
<rect x="246.0" y="270.1" width="1" height="1" fill="rgb(189,189,189)"/>
<rect x="248.1" y="269.6" width="1" height="1" fill="rgb(209,209,209)"/>
<rect x="252.4" y="268.9" width="1" height="1" fill="rgb(170,170,170)"/>
<rect x="254.4" y="269.8" width="1" height="1" fill="rgb(179,179,179)"/>
<rect x="249.3" y="271.4" width="1" height="1" fill="rgb(179,179,179)"/>
<rect x="257.0" y="265.9" width="1" height="1" fill="rgb(195,195,195)"/>
<rect x="255.9" y="261.3" width="1" height="1" fill="rgb(173,173,173)"/>
<rect x="247.1" y="266.9" width="1" height="1" fill="rgb(192,192,192)"/>
<rect x="245.6" y="268.1" width="1" height="1" fill="rgb(208,208,208)"/>
<rect x="258.5" y="268.5" width="1" height="1" fill="rgb(185,185,185)"/>
<rect x="251.1" y="271.1" width="1" height="1" fill="rgb(173,173,173)"/>
<rect x="246.0" y="270.2" width="1" height="1" fill="rgb(185,185,185)"/>
<rect x="256.9" y="278.4" width="1" height="1" fill="rgb(176,176,176)"/>
<rect x="257.3" y="271.4" width="1" height="1" fill="rgb(182,182,182)"/>
<rect x="253.1" y="273.1" width="1" height="1" fill="rgb(208,208,208)"/>
<rect x="246.5" y="266.5" width="1" height="1" fill="rgb(196,196,196)"/>
<rect x="252.2" y="268.7" width="1" height="1" fill="rgb(189,189,189)"/>
<rect x="257.5" y="273.2" width="1" height="1" fill="rgb(216,216,216)"/>
<rect x="252.6" y="264.8" width="1" height="1" fill="rgb(170,170,170)"/>
<rect x="247.2" y="274.0" width="1" height="1" fill="rgb(199,199,199)"/>
<rect x="257.4" y="273.8" width="1" height="1" fill="rgb(181,181,181)"/>
<rect x="251.4" y="272.9" width="1" height="1" fill="rgb(184,184,184)"/>
<rect x="249.4" y="269.4" width="1" height="1" fill="rgb(217,217,217)"/>
<rect x="261.7" y="266.7" width="1" height="1" fill="rgb(186,186,186)"/>
<rect x="250.1" y="267.9" width="1" height="1" fill="rgb(205,205,205)"/>
<rect x="247.7" y="265.5" width="1" height="1" fill="rgb(203,203,203)"/>
<rect x="255.1" y="270.4" width="1" height="1" fill="rgb(183,183,183)"/>
<rect x="256.1" y="273.4" width="1" height="1" fill="rgb(180,180,180)"/>
<rect x="250.8" y="273.9" width="1" height="1" fill="rgb(217,217,217)"/>
<rect x="251.9" y="273.3" width="1" height="1" fill="rgb(190,190,190)"/>
<rect x="252.8" y="274.7" width="1" height="1" fill="rgb(208,208,208)"/>
<rect x="251.7" y="279.7" width="1" height="1" fill="rgb(210,210,210)"/>
<rect x="263.5" y="265.7" width="1" height="1" fill="rgb(204,204,204)"/>
<rect x="247.8" y="263.5" width="1" height="1" fill="rgb(197,197,197)"/>
<rect x="254.5" y="270.2" width="1" height="1" fill="rgb(189,189,189)"/>
<rect x="252.2" y="267.1" width="1" height="1" fill="rgb(207,207,207)"/>
<rect x="260.7" y="275.1" width="1" height="1" fill="rgb(179,179,179)"/>
<rect x="253.4" y="271.4" width="1" height="1" fill="rgb(209,209,209)"/>
<rect x="255.1" y="269.4" width="1" height="1" fill="rgb(179,179,179)"/>
<rect x="250.6" y="270.0" width="1" height="1" fill="rgb(178,178,178)"/>
<rect x="248.5" y="265.7" width="1" height="1" fill="rgb(214,214,214)"/>
<rect x="252.4" y="271.5" width="1" height="1" fill="rgb(207,207,207)"/>
<rect x="251.2" y="268.3" width="1" height="1" fill="rgb(204,204,204)"/>
<rect x="252.4" y="270.1" width="1" height="1" fill="rgb(218,218,218)"/>
<rect x="261.3" y="266.1" width="1" height="1" fill="rgb(176,176,176)"/>
<rect x="251.1" y="273.7" width="1" height="1" fill="rgb(172,172,172)"/>
<rect x="260.5" y="272.7" width="1" height="1" fill="rgb(218,218,218)"/>
<rect x="244.8" y="265.4" width="1" height="1" fill="rgb(210,210,210)"/>
<rect x="247.2" y="267.6" width="1" height="1" fill="rgb(178,178,178)"/>
<rect x="257.9" y="274.9" width="1" height="1" fill="rgb(183,183,183)"/>
<rect x="249.8" y="274.5" width="1" height="1" fill="rgb(186,186,186)"/>
<rect x="254.8" y="271.4" width="1" height="1" fill="rgb(188,188,188)"/>
<rect x="259.1" y="273.0" width="1" height="1" fill="rgb(190,190,190)"/>
<rect x="251.8" y="265.6" width="1" height="1" fill="rgb(200,200,200)"/>
<rect x="255.1" y="266.5" width="1" height="1" fill="rgb(171,171,171)"/>
<rect x="251.3" y="270.0" width="1" height="1" fill="rgb(203,203,203)"/>
<rect x="251.7" y="267.3" width="1" height="1" fill="rgb(215,215,215)"/>
<rect x="257.2" y="272.5" width="1" height="1" fill="rgb(215,215,215)"/>
<rect x="252.4" y="269.7" width="1" height="1" fill="rgb(188,188,188)"/>
<rect x="251.1" y="271.2" width="1" height="1" fill="rgb(182,182,182)"/>
<rect x="249.0" y="277.5" width="1" height="1" fill="rgb(173,173,173)"/>
<rect x="256.8" y="271.1" width="1" height="1" fill="rgb(201,201,201)"/>
<rect x="247.8" y="264.0" width="1" height="1" fill="rgb(201,201,201)"/>
<rect x="244.5" y="270.5" width="1" height="1" fill="rgb(180,180,180)"/>
<rect x="250.3" y="273.7" width="1" height="1" fill="rgb(214,214,214)"/>
<rect x="251.3" y="273.4" width="1" height="1" fill="rgb(210,210,210)"/>
<rect x="251.6" y="266.4" width="1" height="1" fill="rgb(214,214,214)"/>
<rect x="248.8" y="270.3" width="1" height="1" fill="rgb(190,190,190)"/>
<rect x="247.9" y="274.2" width="1" height="1" fill="rgb(195,195,195)"/>
<rect x="257.4" y="266.8" width="1" height="1" fill="rgb(197,197,197)"/>
<rect x="251.9" y="270.4" width="1" height="1" fill="rgb(183,183,183)"/>
<rect x="249.3" y="275.0" width="1" height="1" fill="rgb(204,204,204)"/>
<rect x="246.1" y="271.0" width="1" height="1" fill="rgb(210,210,210)"/>
<rect x="251.6" y="275.4" width="1" height="1" fill="rgb(204,204,204)"/>
<rect x="244.7" y="267.6" width="1" height="1" fill="rgb(208,208,208)"/>
<rect x="248.2" y="268.1" width="1" height="1" fill="rgb(190,190,190)"/>
<rect x="254.7" y="256.6" width="1" height="1" fill="rgb(190,190,190)"/>
<rect x="265.1" y="258.8" width="1" height="1" fill="rgb(186,186,186)"/>
<rect x="259.3" y="254.0" width="1" height="1" fill="rgb(199,199,199)"/>
<rect x="256.2" y="250.2" width="1" height="1" fill="rgb(202,202,202)"/>
<rect x="263.8" y="258.2" width="1" height="1" fill="rgb(215,215,215)"/>
<rect x="265.8" y="250.1" width="1" height="1" fill="rgb(216,216,216)"/>
<rect x="264.5" y="257.5" width="1" height="1" fill="rgb(190,190,190)"/>
<rect x="257.6" y="252.8" width="1" height="1" fill="rgb(185,185,185)"/>
<rect x="260.2" y="257.3" width="1" height="1" fill="rgb(216,216,216)"/>
<rect x="265.6" y="254.9" width="1" height="1" fill="rgb(212,212,212)"/>
<rect x="266.7" y="257.3" width="1" height="1" fill="rgb(179,179,179)"/>
<rect x="264.7" y="248.8" width="1" height="1" fill="rgb(197,197,197)"/>
<rect x="261.6" y="256.9" width="1" height="1" fill="rgb(176,176,176)"/>
<rect x="259.6" y="263.2" width="1" height="1" fill="rgb(199,199,199)"/>
<rect x="267.9" y="255.9" width="1" height="1" fill="rgb(197,197,197)"/>
<rect x="259.5" y="250.6" width="1" height="1" fill="rgb(210,210,210)"/>
<rect x="261.6" y="255.8" width="1" height="1" fill="rgb(186,186,186)"/>
<rect x="257.1" y="252.5" width="1" height="1" fill="rgb(217,217,217)"/>
<rect x="262.6" y="262.8" width="1" height="1" fill="rgb(214,214,214)"/>
<rect x="253.1" y="252.0" width="1" height="1" fill="rgb(196,196,196)"/>
<rect x="267.1" y="250.1" width="1" height="1" fill="rgb(211,211,211)"/>
<rect x="269.5" y="250.3" width="1" height="1" fill="rgb(214,214,214)"/>
<rect x="258.3" y="253.6" width="1" height="1" fill="rgb(181,181,181)"/>
<rect x="257.8" y="251.6" width="1" height="1" fill="rgb(190,190,190)"/>
<rect x="261.4" y="261.2" width="1" height="1" fill="rgb(196,196,196)"/>
<rect x="262.3" y="259.0" width="1" height="1" fill="rgb(215,215,215)"/>
<rect x="258.9" y="252.8" width="1" height="1" fill="rgb(197,197,197)"/>
<rect x="260.8" y="255.1" width="1" height="1" fill="rgb(196,196,196)"/>
<rect x="253.2" y="254.3" width="1" height="1" fill="rgb(181,181,181)"/>
<rect x="266.2" y="252.8" width="1" height="1" fill="rgb(170,170,170)"/>
<rect x="256.7" y="258.0" width="1" height="1" fill="rgb(176,176,176)"/>
<rect x="269.3" y="256.2" width="1" height="1" fill="rgb(180,180,180)"/>
<rect x="258.9" y="245.4" width="1" height="1" fill="rgb(182,182,182)"/>
<rect x="259.3" y="254.8" width="1" height="1" fill="rgb(206,206,206)"/>
<rect x="258.1" y="255.7" width="1" height="1" fill="rgb(200,200,200)"/>
<rect x="253.5" y="254.6" width="1" height="1" fill="rgb(193,193,193)"/>
<rect x="255.9" y="254.4" width="1" height="1" fill="rgb(199,199,199)"/>
<rect x="264.3" y="260.9" width="1" height="1" fill="rgb(195,195,195)"/>
<rect x="248.1" y="254.2" width="1" height="1" fill="rgb(216,216,216)"/>
<rect x="267.6" y="254.6" width="1" height="1" fill="rgb(173,173,173)"/>
<rect x="261.9" y="258.9" width="1" height="1" fill="rgb(173,173,173)"/>
<rect x="268.2" y="255.3" width="1" height="1" fill="rgb(196,196,196)"/>
<rect x="255.8" y="250.7" width="1" height="1" fill="rgb(207,207,207)"/>
<rect x="261.6" y="257.8" width="1" height="1" fill="rgb(217,217,217)"/>
<rect x="249.9" y="260.8" width="1" height="1" fill="rgb(184,184,184)"/>
<rect x="293.2" y="266.8" width="1" height="1" fill="rgb(199,199,199)"/>
<rect x="283.5" y="268.0" width="1" height="1" fill="rgb(174,174,174)"/>
<rect x="285.1" y="264.4" width="1" height="1" fill="rgb(200,200,200)"/>
<rect x="279.0" y="264.5" width="1" height="1" fill="rgb(179,179,179)"/>
<rect x="279.6" y="269.3" width="1" height="1" fill="rgb(196,196,196)"/>
<rect x="279.7" y="267.3" width="1" height="1" fill="rgb(205,205,205)"/>
<rect x="278.9" y="264.2" width="1" height="1" fill="rgb(200,200,200)"/>
<rect x="278.2" y="270.1" width="1" height="1" fill="rgb(187,187,187)"/>
<rect x="281.3" y="264.1" width="1" height="1" fill="rgb(197,197,197)"/>
<rect x="281.0" y="264.9" width="1" height="1" fill="rgb(216,216,216)"/>
<rect x="253.4" y="277.3" width="1" height="1" fill="rgb(211,211,211)"/>
<rect x="250.2" y="283.2" width="1" height="1" fill="rgb(197,197,197)"/>
<rect x="250.5" y="279.1" width="1" height="1" fill="rgb(193,193,193)"/>
<rect x="254.4" y="282.1" width="1" height="1" fill="rgb(194,194,194)"/>
<rect x="260.8" y="282.0" width="1" height="1" fill="rgb(190,190,190)"/>
<rect x="252.6" y="278.4" width="1" height="1" fill="rgb(192,192,192)"/>
<rect x="251.4" y="279.6" width="1" height="1" fill="rgb(170,170,170)"/>
<rect x="252.5" y="281.1" width="1" height="1" fill="rgb(188,188,188)"/>
<rect x="252.0" y="281.4" width="1" height="1" fill="rgb(179,179,179)"/>
<rect x="254.0" y="278.5" width="1" height="1" fill="rgb(198,198,198)"/>
<rect x="250.4" y="281.4" width="1" height="1" fill="rgb(195,195,195)"/>
<rect x="252.8" y="278.2" width="1" height="1" fill="rgb(214,214,214)"/>
<rect x="245.2" y="276.7" width="1" height="1" fill="rgb(212,212,212)"/>
<rect x="257.1" y="277.8" width="1" height="1" fill="rgb(210,210,210)"/>
<rect x="253.8" y="278.3" width="1" height="1" fill="rgb(214,214,214)"/>
<rect x="252.5" y="281.2" width="1" height="1" fill="rgb(198,198,198)"/>
<rect x="250.8" y="278.7" width="1" height="1" fill="rgb(177,177,177)"/>
<rect x="251.7" y="282.2" width="1" height="1" fill="rgb(178,178,178)"/>
<rect x="245.7" y="280.6" width="1" height="1" fill="rgb(200,200,200)"/>
<rect x="249.3" y="280.3" width="1" height="1" fill="rgb(201,201,201)"/>
<rect x="252.1" y="281.8" width="1" height="1" fill="rgb(208,208,208)"/>
<rect x="252.4" y="279.7" width="1" height="1" fill="rgb(190,190,190)"/>
<rect x="245.7" y="280.8" width="1" height="1" fill="rgb(212,212,212)"/>
<rect x="250.4" y="283.2" width="1" height="1" fill="rgb(197,197,197)"/>
<rect x="258.3" y="281.9" width="1" height="1" fill="rgb(210,210,210)"/>
<rect x="251.4" y="279.5" width="1" height="1" fill="rgb(172,172,172)"/>
<rect x="247.2" y="273.7" width="1" height="1" fill="rgb(191,191,191)"/>
<rect x="252.8" y="278.8" width="1" height="1" fill="rgb(200,200,200)"/>
</g>
<rect x="242.20" y="233.30" width="61.30" height="61.80" fill="none" stroke="#111" stroke-width="1.1"/>
<line x1="273.90" y1="233.30" x2="273.90" y2="295.10" stroke="#111" stroke-width="1.1"/>
<line x1="242.20" y1="264.10" x2="303.50" y2="264.10" stroke="#111" stroke-width="1.1"/>
<text x="254.40" y="227.30" font-size="13" text-anchor="start" stroke="#000" stroke-width="0.28" textLength="34.60" lengthAdjust="spacingAndGlyphs" fill="#000">Day 0</text>
<text x="244.00" y="243.80" font-size="9.2" text-anchor="start" stroke="#000" stroke-width="0.28" textLength="26.20" lengthAdjust="spacingAndGlyphs" fill="#000">1.9x10</text>
<text x="270.50" y="239.20" font-size="4.4" text-anchor="start" stroke="#555" stroke-width="0.28" fill="#555">3</text>
<text x="275.30" y="243.80" font-size="9.2" text-anchor="start" stroke="#000" stroke-width="0.28" textLength="26.20" lengthAdjust="spacingAndGlyphs" fill="#000">5.7x10</text>
<text x="301.80" y="239.20" font-size="4.4" text-anchor="start" stroke="#555" stroke-width="0.28" fill="#555">3</text>
<text x="243.60" y="292.80" font-size="9.2" text-anchor="start" stroke="#000" stroke-width="0.28" textLength="26.20" lengthAdjust="spacingAndGlyphs" fill="#000">5.7x10</text>
<text x="270.10" y="288.20" font-size="4.4" text-anchor="start" stroke="#555" stroke-width="0.28" fill="#555">3</text>
<line x1="240.40" y1="295.10" x2="242.20" y2="295.10" stroke="#111" stroke-width="0.9"/>
<line x1="242.20" y1="295.10" x2="242.20" y2="296.90" stroke="#111" stroke-width="0.9"/>
<line x1="240.40" y1="279.65" x2="242.20" y2="279.65" stroke="#111" stroke-width="0.9"/>
<line x1="257.52" y1="295.10" x2="257.52" y2="296.90" stroke="#111" stroke-width="0.9"/>
<line x1="240.40" y1="264.20" x2="242.20" y2="264.20" stroke="#111" stroke-width="0.9"/>
<line x1="272.85" y1="295.10" x2="272.85" y2="296.90" stroke="#111" stroke-width="0.9"/>
<line x1="240.40" y1="248.75" x2="242.20" y2="248.75" stroke="#111" stroke-width="0.9"/>
<line x1="288.18" y1="295.10" x2="288.18" y2="296.90" stroke="#111" stroke-width="0.9"/>
<line x1="240.40" y1="233.30" x2="242.20" y2="233.30" stroke="#111" stroke-width="0.9"/>
<line x1="303.50" y1="295.10" x2="303.50" y2="296.90" stroke="#111" stroke-width="0.9"/>
<line x1="241.10" y1="290.45" x2="242.20" y2="290.45" stroke="#333" stroke-width="0.6"/>
<line x1="246.81" y1="295.10" x2="246.81" y2="296.20" stroke="#333" stroke-width="0.6"/>
<line x1="241.10" y1="287.73" x2="242.20" y2="287.73" stroke="#333" stroke-width="0.6"/>
<line x1="249.51" y1="295.10" x2="249.51" y2="296.20" stroke="#333" stroke-width="0.6"/>
<line x1="241.10" y1="285.80" x2="242.20" y2="285.80" stroke="#333" stroke-width="0.6"/>
<line x1="251.43" y1="295.10" x2="251.43" y2="296.20" stroke="#333" stroke-width="0.6"/>
<line x1="241.10" y1="284.30" x2="242.20" y2="284.30" stroke="#333" stroke-width="0.6"/>
<line x1="252.91" y1="295.10" x2="252.91" y2="296.20" stroke="#333" stroke-width="0.6"/>
<line x1="241.10" y1="283.08" x2="242.20" y2="283.08" stroke="#333" stroke-width="0.6"/>
<line x1="254.13" y1="295.10" x2="254.13" y2="296.20" stroke="#333" stroke-width="0.6"/>
<line x1="241.10" y1="282.04" x2="242.20" y2="282.04" stroke="#333" stroke-width="0.6"/>
<line x1="255.15" y1="295.10" x2="255.15" y2="296.20" stroke="#333" stroke-width="0.6"/>
<line x1="241.10" y1="281.15" x2="242.20" y2="281.15" stroke="#333" stroke-width="0.6"/>
<line x1="256.04" y1="295.10" x2="256.04" y2="296.20" stroke="#333" stroke-width="0.6"/>
<line x1="241.10" y1="280.36" x2="242.20" y2="280.36" stroke="#333" stroke-width="0.6"/>
<line x1="256.82" y1="295.10" x2="256.82" y2="296.20" stroke="#333" stroke-width="0.6"/>
<line x1="241.10" y1="275.00" x2="242.20" y2="275.00" stroke="#333" stroke-width="0.6"/>
<line x1="262.14" y1="295.10" x2="262.14" y2="296.20" stroke="#333" stroke-width="0.6"/>
<line x1="241.10" y1="272.28" x2="242.20" y2="272.28" stroke="#333" stroke-width="0.6"/>
<line x1="264.84" y1="295.10" x2="264.84" y2="296.20" stroke="#333" stroke-width="0.6"/>
<line x1="241.10" y1="270.35" x2="242.20" y2="270.35" stroke="#333" stroke-width="0.6"/>
<line x1="266.75" y1="295.10" x2="266.75" y2="296.20" stroke="#333" stroke-width="0.6"/>
<line x1="241.10" y1="268.85" x2="242.20" y2="268.85" stroke="#333" stroke-width="0.6"/>
<line x1="268.24" y1="295.10" x2="268.24" y2="296.20" stroke="#333" stroke-width="0.6"/>
<line x1="241.10" y1="267.63" x2="242.20" y2="267.63" stroke="#333" stroke-width="0.6"/>
<line x1="269.45" y1="295.10" x2="269.45" y2="296.20" stroke="#333" stroke-width="0.6"/>
<line x1="241.10" y1="266.59" x2="242.20" y2="266.59" stroke="#333" stroke-width="0.6"/>
<line x1="270.48" y1="295.10" x2="270.48" y2="296.20" stroke="#333" stroke-width="0.6"/>
<line x1="241.10" y1="265.70" x2="242.20" y2="265.70" stroke="#333" stroke-width="0.6"/>
<line x1="271.36" y1="295.10" x2="271.36" y2="296.20" stroke="#333" stroke-width="0.6"/>
<line x1="241.10" y1="264.91" x2="242.20" y2="264.91" stroke="#333" stroke-width="0.6"/>
<line x1="272.15" y1="295.10" x2="272.15" y2="296.20" stroke="#333" stroke-width="0.6"/>
<line x1="241.10" y1="259.55" x2="242.20" y2="259.55" stroke="#333" stroke-width="0.6"/>
<line x1="277.46" y1="295.10" x2="277.46" y2="296.20" stroke="#333" stroke-width="0.6"/>
<line x1="241.10" y1="256.83" x2="242.20" y2="256.83" stroke="#333" stroke-width="0.6"/>
<line x1="280.16" y1="295.10" x2="280.16" y2="296.20" stroke="#333" stroke-width="0.6"/>
<line x1="241.10" y1="254.90" x2="242.20" y2="254.90" stroke="#333" stroke-width="0.6"/>
<line x1="282.08" y1="295.10" x2="282.08" y2="296.20" stroke="#333" stroke-width="0.6"/>
<line x1="241.10" y1="253.40" x2="242.20" y2="253.40" stroke="#333" stroke-width="0.6"/>
<line x1="283.56" y1="295.10" x2="283.56" y2="296.20" stroke="#333" stroke-width="0.6"/>
<line x1="241.10" y1="252.18" x2="242.20" y2="252.18" stroke="#333" stroke-width="0.6"/>
<line x1="284.78" y1="295.10" x2="284.78" y2="296.20" stroke="#333" stroke-width="0.6"/>
<line x1="241.10" y1="251.14" x2="242.20" y2="251.14" stroke="#333" stroke-width="0.6"/>
<line x1="285.80" y1="295.10" x2="285.80" y2="296.20" stroke="#333" stroke-width="0.6"/>
<line x1="241.10" y1="250.25" x2="242.20" y2="250.25" stroke="#333" stroke-width="0.6"/>
<line x1="286.69" y1="295.10" x2="286.69" y2="296.20" stroke="#333" stroke-width="0.6"/>
<line x1="241.10" y1="249.46" x2="242.20" y2="249.46" stroke="#333" stroke-width="0.6"/>
<line x1="287.47" y1="295.10" x2="287.47" y2="296.20" stroke="#333" stroke-width="0.6"/>
<line x1="241.10" y1="244.10" x2="242.20" y2="244.10" stroke="#333" stroke-width="0.6"/>
<line x1="292.79" y1="295.10" x2="292.79" y2="296.20" stroke="#333" stroke-width="0.6"/>
<line x1="241.10" y1="241.38" x2="242.20" y2="241.38" stroke="#333" stroke-width="0.6"/>
<line x1="295.49" y1="295.10" x2="295.49" y2="296.20" stroke="#333" stroke-width="0.6"/>
<line x1="241.10" y1="239.45" x2="242.20" y2="239.45" stroke="#333" stroke-width="0.6"/>
<line x1="297.40" y1="295.10" x2="297.40" y2="296.20" stroke="#333" stroke-width="0.6"/>
<line x1="241.10" y1="237.95" x2="242.20" y2="237.95" stroke="#333" stroke-width="0.6"/>
<line x1="298.89" y1="295.10" x2="298.89" y2="296.20" stroke="#333" stroke-width="0.6"/>
<line x1="241.10" y1="236.73" x2="242.20" y2="236.73" stroke="#333" stroke-width="0.6"/>
<line x1="300.10" y1="295.10" x2="300.10" y2="296.20" stroke="#333" stroke-width="0.6"/>
<line x1="241.10" y1="235.69" x2="242.20" y2="235.69" stroke="#333" stroke-width="0.6"/>
<line x1="301.13" y1="295.10" x2="301.13" y2="296.20" stroke="#333" stroke-width="0.6"/>
<line x1="241.10" y1="234.80" x2="242.20" y2="234.80" stroke="#333" stroke-width="0.6"/>
<line x1="302.01" y1="295.10" x2="302.01" y2="296.20" stroke="#333" stroke-width="0.6"/>
<line x1="241.10" y1="234.01" x2="242.20" y2="234.01" stroke="#333" stroke-width="0.6"/>
<line x1="302.80" y1="295.10" x2="302.80" y2="296.20" stroke="#333" stroke-width="0.6"/>
<text transform="translate(237.30,298.70) rotate(-90)" font-size="8" text-anchor="start" font-weight="bold" stroke="#000" stroke-width="0.28" textLength="6.60" lengthAdjust="spacingAndGlyphs" fill="#000">10</text>
<text transform="translate(232.80,292.00) rotate(-90)" font-size="5.8" text-anchor="start" font-weight="bold" stroke="#000" stroke-width="0.28" fill="#000">0</text>
<text transform="translate(237.30,283.25) rotate(-90)" font-size="8" text-anchor="start" font-weight="bold" stroke="#000" stroke-width="0.28" textLength="6.60" lengthAdjust="spacingAndGlyphs" fill="#000">10</text>
<text transform="translate(232.80,276.55) rotate(-90)" font-size="5.8" text-anchor="start" font-weight="bold" stroke="#000" stroke-width="0.28" fill="#000">1</text>
<text transform="translate(237.30,267.80) rotate(-90)" font-size="8" text-anchor="start" font-weight="bold" stroke="#000" stroke-width="0.28" textLength="6.60" lengthAdjust="spacingAndGlyphs" fill="#000">10</text>
<text transform="translate(232.80,261.10) rotate(-90)" font-size="5.8" text-anchor="start" font-weight="bold" stroke="#000" stroke-width="0.28" fill="#000">2</text>
<text transform="translate(237.30,252.35) rotate(-90)" font-size="8" text-anchor="start" font-weight="bold" stroke="#000" stroke-width="0.28" textLength="6.60" lengthAdjust="spacingAndGlyphs" fill="#000">10</text>
<text transform="translate(232.80,245.65) rotate(-90)" font-size="5.8" text-anchor="start" font-weight="bold" stroke="#000" stroke-width="0.28" fill="#000">3</text>
<text transform="translate(237.30,236.90) rotate(-90)" font-size="8" text-anchor="start" font-weight="bold" stroke="#000" stroke-width="0.28" textLength="6.60" lengthAdjust="spacingAndGlyphs" fill="#000">10</text>
<text transform="translate(232.80,230.20) rotate(-90)" font-size="5.8" text-anchor="start" font-weight="bold" stroke="#000" stroke-width="0.28" fill="#000">4</text>
<text x="239.30" y="306.60" font-size="7.5" text-anchor="start" font-weight="bold" stroke="#000" stroke-width="0.28" textLength="8.30" lengthAdjust="spacingAndGlyphs" fill="#000">10</text>
<text x="247.40" y="301.70" font-size="5.2" text-anchor="start" font-weight="bold" stroke="#000" stroke-width="0.28" fill="#000">0</text>
<text x="254.62" y="306.60" font-size="7.5" text-anchor="start" font-weight="bold" stroke="#000" stroke-width="0.28" textLength="8.30" lengthAdjust="spacingAndGlyphs" fill="#000">10</text>
<text x="262.72" y="301.70" font-size="5.2" text-anchor="start" font-weight="bold" stroke="#000" stroke-width="0.28" fill="#000">1</text>
<text x="269.95" y="306.60" font-size="7.5" text-anchor="start" font-weight="bold" stroke="#000" stroke-width="0.28" textLength="8.30" lengthAdjust="spacingAndGlyphs" fill="#000">10</text>
<text x="278.05" y="301.70" font-size="5.2" text-anchor="start" font-weight="bold" stroke="#000" stroke-width="0.28" fill="#000">2</text>
<text x="285.28" y="306.60" font-size="7.5" text-anchor="start" font-weight="bold" stroke="#000" stroke-width="0.28" textLength="8.30" lengthAdjust="spacingAndGlyphs" fill="#000">10</text>
<text x="293.38" y="301.70" font-size="5.2" text-anchor="start" font-weight="bold" stroke="#000" stroke-width="0.28" fill="#000">3</text>
<text x="300.60" y="306.60" font-size="7.5" text-anchor="start" font-weight="bold" stroke="#000" stroke-width="0.28" textLength="8.30" lengthAdjust="spacingAndGlyphs" fill="#000">10</text>
<text x="308.70" y="301.70" font-size="5.2" text-anchor="start" font-weight="bold" stroke="#000" stroke-width="0.28" fill="#000">4</text>
<text x="264.90" y="314.00" font-size="8.2" text-anchor="start" font-weight="bold" stroke="#000" stroke-width="0.28" textLength="19.30" lengthAdjust="spacingAndGlyphs" fill="#000">FL4-H</text>
<text transform="translate(227.00,274.80) rotate(-90)" font-size="6" text-anchor="start" font-weight="bold" stroke="#000" stroke-width="0.28" textLength="19.80" lengthAdjust="spacingAndGlyphs" fill="#000">FL2-H</text>
<g filter="url(#bl)">
<rect x="397.1" y="251.2" width="1" height="1" fill="rgb(210,210,210)"/>
<rect x="389.0" y="253.2" width="1" height="1" fill="rgb(212,212,212)"/>
<rect x="382.1" y="257.7" width="1" height="1" fill="rgb(203,203,203)"/>
<rect x="373.5" y="251.6" width="1" height="1" fill="rgb(188,188,188)"/>
<rect x="380.7" y="255.8" width="1" height="1" fill="rgb(205,205,205)"/>
<rect x="392.1" y="252.1" width="1" height="1" fill="rgb(192,192,192)"/>
<rect x="390.1" y="246.5" width="1" height="1" fill="rgb(202,202,202)"/>
<rect x="400.1" y="247.6" width="1" height="1" fill="rgb(192,192,192)"/>
<rect x="396.4" y="248.4" width="1" height="1" fill="rgb(177,177,177)"/>
<rect x="384.2" y="256.7" width="1" height="1" fill="rgb(189,189,189)"/>
<rect x="399.1" y="259.0" width="1" height="1" fill="rgb(175,175,175)"/>
<rect x="387.4" y="250.4" width="1" height="1" fill="rgb(216,216,216)"/>
<rect x="380.7" y="251.8" width="1" height="1" fill="rgb(206,206,206)"/>
<rect x="392.2" y="252.0" width="1" height="1" fill="rgb(170,170,170)"/>
<rect x="398.6" y="251.9" width="1" height="1" fill="rgb(200,200,200)"/>
<rect x="379.6" y="249.0" width="1" height="1" fill="rgb(202,202,202)"/>
<rect x="394.5" y="246.2" width="1" height="1" fill="rgb(209,209,209)"/>
<rect x="392.9" y="256.8" width="1" height="1" fill="rgb(214,214,214)"/>
<rect x="378.9" y="249.5" width="1" height="1" fill="rgb(183,183,183)"/>
<rect x="395.9" y="251.6" width="1" height="1" fill="rgb(210,210,210)"/>
<rect x="387.2" y="249.5" width="1" height="1" fill="rgb(181,181,181)"/>
<rect x="391.6" y="246.8" width="1" height="1" fill="rgb(176,176,176)"/>
<rect x="395.1" y="246.0" width="1" height="1" fill="rgb(193,193,193)"/>
<rect x="389.5" y="249.3" width="1" height="1" fill="rgb(189,189,189)"/>
<rect x="382.4" y="251.6" width="1" height="1" fill="rgb(189,189,189)"/>
<rect x="387.7" y="253.1" width="1" height="1" fill="rgb(171,171,171)"/>
<rect x="378.6" y="257.3" width="1" height="1" fill="rgb(173,173,173)"/>
<rect x="379.1" y="254.1" width="1" height="1" fill="rgb(177,177,177)"/>
<rect x="388.0" y="246.3" width="1" height="1" fill="rgb(214,214,214)"/>
<rect x="393.2" y="247.6" width="1" height="1" fill="rgb(170,170,170)"/>
<rect x="383.3" y="246.6" width="1" height="1" fill="rgb(212,212,212)"/>
<rect x="394.3" y="249.4" width="1" height="1" fill="rgb(196,196,196)"/>
<rect x="384.4" y="252.0" width="1" height="1" fill="rgb(200,200,200)"/>
<rect x="387.9" y="254.7" width="1" height="1" fill="rgb(170,170,170)"/>
<rect x="386.2" y="252.5" width="1" height="1" fill="rgb(212,212,212)"/>
<rect x="399.2" y="258.4" width="1" height="1" fill="rgb(175,175,175)"/>
<rect x="387.7" y="254.4" width="1" height="1" fill="rgb(200,200,200)"/>
<rect x="397.3" y="250.3" width="1" height="1" fill="rgb(185,185,185)"/>
<rect x="376.8" y="257.2" width="1" height="1" fill="rgb(173,173,173)"/>
<rect x="379.8" y="260.3" width="1" height="1" fill="rgb(214,214,214)"/>
<rect x="393.5" y="243.7" width="1" height="1" fill="rgb(175,175,175)"/>
<rect x="384.8" y="259.0" width="1" height="1" fill="rgb(201,201,201)"/>
<rect x="372.4" y="258.7" width="1" height="1" fill="rgb(186,186,186)"/>
<rect x="388.8" y="250.6" width="1" height="1" fill="rgb(172,172,172)"/>
<rect x="388.1" y="251.8" width="1" height="1" fill="rgb(211,211,211)"/>
<rect x="383.5" y="246.2" width="1" height="1" fill="rgb(194,194,194)"/>
<rect x="383.1" y="260.9" width="1" height="1" fill="rgb(180,180,180)"/>
<rect x="398.9" y="246.4" width="1" height="1" fill="rgb(208,208,208)"/>
<rect x="392.8" y="252.4" width="1" height="1" fill="rgb(206,206,206)"/>
<rect x="386.0" y="246.4" width="1" height="1" fill="rgb(180,180,180)"/>
<rect x="394.1" y="257.6" width="1" height="1" fill="rgb(193,193,193)"/>
<rect x="390.7" y="250.2" width="1" height="1" fill="rgb(196,196,196)"/>
<rect x="375.8" y="256.1" width="1" height="1" fill="rgb(198,198,198)"/>
<rect x="397.7" y="246.2" width="1" height="1" fill="rgb(206,206,206)"/>
<rect x="384.4" y="256.3" width="1" height="1" fill="rgb(209,209,209)"/>
<rect x="397.0" y="248.1" width="1" height="1" fill="rgb(208,208,208)"/>
<rect x="382.6" y="259.3" width="1" height="1" fill="rgb(170,170,170)"/>
<rect x="391.3" y="244.7" width="1" height="1" fill="rgb(189,189,189)"/>
<rect x="371.7" y="248.6" width="1" height="1" fill="rgb(185,185,185)"/>
<rect x="379.9" y="259.4" width="1" height="1" fill="rgb(208,208,208)"/>
<rect x="387.6" y="248.0" width="1" height="1" fill="rgb(198,198,198)"/>
<rect x="386.9" y="252.3" width="1" height="1" fill="rgb(186,186,186)"/>
<rect x="386.6" y="255.2" width="1" height="1" fill="rgb(218,218,218)"/>
<rect x="388.5" y="250.6" width="1" height="1" fill="rgb(179,179,179)"/>
<rect x="391.9" y="241.0" width="1" height="1" fill="rgb(206,206,206)"/>
<rect x="397.7" y="260.7" width="1" height="1" fill="rgb(205,205,205)"/>
<rect x="381.3" y="242.8" width="1" height="1" fill="rgb(192,192,192)"/>
<rect x="379.1" y="252.6" width="1" height="1" fill="rgb(201,201,201)"/>
<rect x="388.3" y="248.3" width="1" height="1" fill="rgb(218,218,218)"/>
<rect x="383.8" y="238.1" width="1" height="1" fill="rgb(189,189,189)"/>
<rect x="379.3" y="249.0" width="1" height="1" fill="rgb(199,199,199)"/>
<rect x="383.2" y="241.4" width="1" height="1" fill="rgb(207,207,207)"/>
<rect x="387.1" y="242.7" width="1" height="1" fill="rgb(199,199,199)"/>
<rect x="379.2" y="252.3" width="1" height="1" fill="rgb(192,192,192)"/>
<rect x="387.7" y="248.0" width="1" height="1" fill="rgb(207,207,207)"/>
<rect x="382.0" y="252.7" width="1" height="1" fill="rgb(203,203,203)"/>
<rect x="383.7" y="258.5" width="1" height="1" fill="rgb(182,182,182)"/>
<rect x="388.6" y="254.8" width="1" height="1" fill="rgb(181,181,181)"/>
<rect x="388.8" y="247.5" width="1" height="1" fill="rgb(206,206,206)"/>
<rect x="380.9" y="251.4" width="1" height="1" fill="rgb(203,203,203)"/>
<rect x="390.0" y="248.1" width="1" height="1" fill="rgb(201,201,201)"/>
<rect x="384.8" y="254.3" width="1" height="1" fill="rgb(210,210,210)"/>
<rect x="384.4" y="253.2" width="1" height="1" fill="rgb(190,190,190)"/>
<rect x="382.1" y="250.5" width="1" height="1" fill="rgb(203,203,203)"/>
<rect x="384.7" y="251.1" width="1" height="1" fill="rgb(183,183,183)"/>
<rect x="400.0" y="248.1" width="1" height="1" fill="rgb(201,201,201)"/>
<rect x="383.1" y="251.1" width="1" height="1" fill="rgb(187,187,187)"/>
<rect x="372.9" y="261.3" width="1" height="1" fill="rgb(207,207,207)"/>
<rect x="394.0" y="238.0" width="1" height="1" fill="rgb(186,186,186)"/>
<rect x="390.3" y="247.2" width="1" height="1" fill="rgb(181,181,181)"/>
<rect x="385.9" y="253.1" width="1" height="1" fill="rgb(172,172,172)"/>
<rect x="374.7" y="251.4" width="1" height="1" fill="rgb(199,199,199)"/>
<rect x="374.5" y="256.0" width="1" height="1" fill="rgb(174,174,174)"/>
<rect x="393.1" y="244.8" width="1" height="1" fill="rgb(177,177,177)"/>
<rect x="386.2" y="250.0" width="1" height="1" fill="rgb(190,190,190)"/>
<rect x="378.5" y="251.2" width="1" height="1" fill="rgb(212,212,212)"/>
<rect x="382.9" y="252.9" width="1" height="1" fill="rgb(180,180,180)"/>
<rect x="383.7" y="255.6" width="1" height="1" fill="rgb(216,216,216)"/>
<rect x="387.3" y="253.4" width="1" height="1" fill="rgb(186,186,186)"/>
<rect x="389.1" y="250.8" width="1" height="1" fill="rgb(205,205,205)"/>
<rect x="397.2" y="243.8" width="1" height="1" fill="rgb(173,173,173)"/>
<rect x="386.6" y="258.4" width="1" height="1" fill="rgb(217,217,217)"/>
<rect x="375.6" y="242.7" width="1" height="1" fill="rgb(173,173,173)"/>
<rect x="391.6" y="253.6" width="1" height="1" fill="rgb(170,170,170)"/>
<rect x="396.1" y="246.8" width="1" height="1" fill="rgb(189,189,189)"/>
<rect x="381.1" y="250.5" width="1" height="1" fill="rgb(211,211,211)"/>
<rect x="391.5" y="253.7" width="1" height="1" fill="rgb(186,186,186)"/>
<rect x="382.1" y="256.5" width="1" height="1" fill="rgb(194,194,194)"/>
<rect x="389.3" y="254.8" width="1" height="1" fill="rgb(179,179,179)"/>
<rect x="398.8" y="243.3" width="1" height="1" fill="rgb(199,199,199)"/>
<rect x="386.1" y="248.8" width="1" height="1" fill="rgb(172,172,172)"/>
<rect x="393.8" y="258.6" width="1" height="1" fill="rgb(174,174,174)"/>
<rect x="398.9" y="244.7" width="1" height="1" fill="rgb(217,217,217)"/>
<rect x="391.5" y="255.2" width="1" height="1" fill="rgb(176,176,176)"/>
<rect x="392.7" y="248.2" width="1" height="1" fill="rgb(171,171,171)"/>
<rect x="382.1" y="249.1" width="1" height="1" fill="rgb(191,191,191)"/>
<rect x="384.9" y="256.0" width="1" height="1" fill="rgb(177,177,177)"/>
<rect x="384.5" y="250.5" width="1" height="1" fill="rgb(184,184,184)"/>
<rect x="386.6" y="248.8" width="1" height="1" fill="rgb(198,198,198)"/>
<rect x="383.6" y="251.9" width="1" height="1" fill="rgb(179,179,179)"/>
<rect x="386.3" y="257.6" width="1" height="1" fill="rgb(179,179,179)"/>
<rect x="395.3" y="251.0" width="1" height="1" fill="rgb(188,188,188)"/>
<rect x="385.0" y="255.2" width="1" height="1" fill="rgb(201,201,201)"/>
<rect x="392.5" y="254.3" width="1" height="1" fill="rgb(200,200,200)"/>
<rect x="400.6" y="258.1" width="1" height="1" fill="rgb(173,173,173)"/>
<rect x="379.2" y="247.2" width="1" height="1" fill="rgb(183,183,183)"/>
<rect x="375.5" y="251.2" width="1" height="1" fill="rgb(177,177,177)"/>
<rect x="386.8" y="255.6" width="1" height="1" fill="rgb(193,193,193)"/>
<rect x="382.4" y="254.9" width="1" height="1" fill="rgb(185,185,185)"/>
<rect x="389.6" y="250.3" width="1" height="1" fill="rgb(188,188,188)"/>
<rect x="383.7" y="254.4" width="1" height="1" fill="rgb(216,216,216)"/>
<rect x="390.6" y="250.7" width="1" height="1" fill="rgb(210,210,210)"/>
<rect x="398.7" y="250.0" width="1" height="1" fill="rgb(191,191,191)"/>
<rect x="380.0" y="253.4" width="1" height="1" fill="rgb(203,203,203)"/>
<rect x="385.6" y="257.2" width="1" height="1" fill="rgb(172,172,172)"/>
<rect x="390.9" y="249.1" width="1" height="1" fill="rgb(206,206,206)"/>
<rect x="392.3" y="259.8" width="1" height="1" fill="rgb(203,203,203)"/>
<rect x="388.3" y="243.5" width="1" height="1" fill="rgb(182,182,182)"/>
<rect x="377.1" y="248.7" width="1" height="1" fill="rgb(208,208,208)"/>
<rect x="385.7" y="243.5" width="1" height="1" fill="rgb(181,181,181)"/>
<rect x="389.4" y="258.3" width="1" height="1" fill="rgb(215,215,215)"/>
<rect x="384.1" y="250.3" width="1" height="1" fill="rgb(189,189,189)"/>
<rect x="387.7" y="253.7" width="1" height="1" fill="rgb(216,216,216)"/>
<rect x="374.6" y="253.9" width="1" height="1" fill="rgb(173,173,173)"/>
<rect x="381.0" y="253.0" width="1" height="1" fill="rgb(188,188,188)"/>
<rect x="394.1" y="241.4" width="1" height="1" fill="rgb(201,201,201)"/>
<rect x="392.6" y="253.5" width="1" height="1" fill="rgb(218,218,218)"/>
<rect x="374.0" y="256.9" width="1" height="1" fill="rgb(187,187,187)"/>
<rect x="387.1" y="258.7" width="1" height="1" fill="rgb(193,193,193)"/>
<rect x="396.9" y="251.4" width="1" height="1" fill="rgb(206,206,206)"/>
<rect x="386.5" y="251.8" width="1" height="1" fill="rgb(203,203,203)"/>
<rect x="402.6" y="242.3" width="1" height="1" fill="rgb(174,174,174)"/>
<rect x="394.5" y="255.8" width="1" height="1" fill="rgb(190,190,190)"/>
<rect x="389.4" y="241.0" width="1" height="1" fill="rgb(206,206,206)"/>
<rect x="387.0" y="250.1" width="1" height="1" fill="rgb(176,176,176)"/>
<rect x="394.3" y="248.4" width="1" height="1" fill="rgb(202,202,202)"/>
<rect x="398.6" y="250.6" width="1" height="1" fill="rgb(178,178,178)"/>
<rect x="387.7" y="255.1" width="1" height="1" fill="rgb(176,176,176)"/>
<rect x="383.9" y="259.0" width="1" height="1" fill="rgb(171,171,171)"/>
<rect x="401.7" y="249.7" width="1" height="1" fill="rgb(217,217,217)"/>
<rect x="387.4" y="252.8" width="1" height="1" fill="rgb(208,208,208)"/>
<rect x="382.3" y="248.8" width="1" height="1" fill="rgb(185,185,185)"/>
<rect x="386.1" y="249.9" width="1" height="1" fill="rgb(176,176,176)"/>
<rect x="386.6" y="250.5" width="1" height="1" fill="rgb(177,177,177)"/>
<rect x="378.6" y="255.7" width="1" height="1" fill="rgb(218,218,218)"/>
<rect x="386.4" y="254.8" width="1" height="1" fill="rgb(195,195,195)"/>
<rect x="393.1" y="246.1" width="1" height="1" fill="rgb(184,184,184)"/>
<rect x="389.4" y="249.1" width="1" height="1" fill="rgb(206,206,206)"/>
<rect x="380.7" y="254.9" width="1" height="1" fill="rgb(171,171,171)"/>
<rect x="393.0" y="248.5" width="1" height="1" fill="rgb(196,196,196)"/>
<rect x="379.8" y="249.8" width="1" height="1" fill="rgb(172,172,172)"/>
<rect x="374.7" y="262.7" width="1" height="1" fill="rgb(193,193,193)"/>
<rect x="384.5" y="255.9" width="1" height="1" fill="rgb(191,191,191)"/>
<rect x="384.3" y="242.8" width="1" height="1" fill="rgb(206,206,206)"/>
<rect x="391.8" y="239.9" width="1" height="1" fill="rgb(195,195,195)"/>
<rect x="388.2" y="250.3" width="1" height="1" fill="rgb(203,203,203)"/>
<rect x="392.9" y="256.8" width="1" height="1" fill="rgb(192,192,192)"/>
<rect x="387.0" y="257.5" width="1" height="1" fill="rgb(210,210,210)"/>
<rect x="390.1" y="251.4" width="1" height="1" fill="rgb(181,181,181)"/>
<rect x="393.3" y="252.8" width="1" height="1" fill="rgb(202,202,202)"/>
<rect x="384.7" y="249.3" width="1" height="1" fill="rgb(196,196,196)"/>
<rect x="398.1" y="247.5" width="1" height="1" fill="rgb(199,199,199)"/>
<rect x="379.1" y="246.9" width="1" height="1" fill="rgb(172,172,172)"/>
<rect x="396.1" y="251.3" width="1" height="1" fill="rgb(187,187,187)"/>
<rect x="394.9" y="246.4" width="1" height="1" fill="rgb(210,210,210)"/>
<rect x="372.7" y="252.5" width="1" height="1" fill="rgb(209,209,209)"/>
<rect x="389.7" y="252.9" width="1" height="1" fill="rgb(170,170,170)"/>
<rect x="372.4" y="260.9" width="1" height="1" fill="rgb(188,188,188)"/>
<rect x="391.6" y="254.0" width="1" height="1" fill="rgb(180,180,180)"/>
<rect x="393.4" y="255.2" width="1" height="1" fill="rgb(202,202,202)"/>
<rect x="389.2" y="250.2" width="1" height="1" fill="rgb(207,207,207)"/>
<rect x="383.4" y="252.3" width="1" height="1" fill="rgb(177,177,177)"/>
<rect x="373.5" y="254.6" width="1" height="1" fill="rgb(196,196,196)"/>
<rect x="382.4" y="251.2" width="1" height="1" fill="rgb(217,217,217)"/>
<rect x="394.0" y="253.7" width="1" height="1" fill="rgb(199,199,199)"/>
<rect x="380.5" y="249.3" width="1" height="1" fill="rgb(211,211,211)"/>
<rect x="380.8" y="257.9" width="1" height="1" fill="rgb(193,193,193)"/>
<rect x="379.1" y="255.6" width="1" height="1" fill="rgb(209,209,209)"/>
<rect x="375.1" y="256.4" width="1" height="1" fill="rgb(171,171,171)"/>
<rect x="387.2" y="255.7" width="1" height="1" fill="rgb(202,202,202)"/>
<rect x="370.5" y="252.2" width="1" height="1" fill="rgb(195,195,195)"/>
<rect x="393.0" y="250.8" width="1" height="1" fill="rgb(185,185,185)"/>
<rect x="384.4" y="256.8" width="1" height="1" fill="rgb(187,187,187)"/>
<rect x="382.8" y="268.2" width="1" height="1" fill="rgb(188,188,188)"/>
<rect x="388.3" y="252.1" width="1" height="1" fill="rgb(205,205,205)"/>
<rect x="399.0" y="253.3" width="1" height="1" fill="rgb(198,198,198)"/>
<rect x="382.7" y="247.8" width="1" height="1" fill="rgb(198,198,198)"/>
<rect x="380.3" y="260.8" width="1" height="1" fill="rgb(203,203,203)"/>
<rect x="389.6" y="264.5" width="1" height="1" fill="rgb(217,217,217)"/>
<rect x="393.2" y="248.2" width="1" height="1" fill="rgb(212,212,212)"/>
<rect x="381.1" y="259.8" width="1" height="1" fill="rgb(209,209,209)"/>
<rect x="383.0" y="250.3" width="1" height="1" fill="rgb(203,203,203)"/>
<rect x="397.6" y="255.1" width="1" height="1" fill="rgb(218,218,218)"/>
<rect x="392.1" y="250.6" width="1" height="1" fill="rgb(210,210,210)"/>
<rect x="383.3" y="241.7" width="1" height="1" fill="rgb(178,178,178)"/>
<rect x="384.4" y="253.9" width="1" height="1" fill="rgb(196,196,196)"/>
<rect x="387.8" y="244.9" width="1" height="1" fill="rgb(201,201,201)"/>
<rect x="370.6" y="266.1" width="1" height="1" fill="rgb(179,179,179)"/>
<rect x="377.1" y="259.0" width="1" height="1" fill="rgb(209,209,209)"/>
<rect x="382.0" y="250.1" width="1" height="1" fill="rgb(198,198,198)"/>
<rect x="385.1" y="248.4" width="1" height="1" fill="rgb(192,192,192)"/>
<rect x="385.3" y="257.5" width="1" height="1" fill="rgb(205,205,205)"/>
<rect x="379.2" y="249.7" width="1" height="1" fill="rgb(170,170,170)"/>
<rect x="389.9" y="241.3" width="1" height="1" fill="rgb(201,201,201)"/>
<rect x="383.0" y="256.0" width="1" height="1" fill="rgb(204,204,204)"/>
<rect x="385.8" y="255.1" width="1" height="1" fill="rgb(206,206,206)"/>
<rect x="383.6" y="255.5" width="1" height="1" fill="rgb(191,191,191)"/>
<rect x="381.4" y="262.5" width="1" height="1" fill="rgb(185,185,185)"/>
<rect x="391.2" y="250.0" width="1" height="1" fill="rgb(197,197,197)"/>
<rect x="399.6" y="240.5" width="1" height="1" fill="rgb(171,171,171)"/>
<rect x="395.0" y="252.0" width="1" height="1" fill="rgb(201,201,201)"/>
<rect x="384.5" y="258.8" width="1" height="1" fill="rgb(189,189,189)"/>
<rect x="364.4" y="253.2" width="1" height="1" fill="rgb(203,203,203)"/>
<rect x="391.8" y="243.3" width="1" height="1" fill="rgb(197,197,197)"/>
<rect x="382.3" y="256.4" width="1" height="1" fill="rgb(208,208,208)"/>
<rect x="383.8" y="247.7" width="1" height="1" fill="rgb(170,170,170)"/>
<rect x="383.5" y="247.2" width="1" height="1" fill="rgb(176,176,176)"/>
<rect x="380.5" y="257.0" width="1" height="1" fill="rgb(211,211,211)"/>
<rect x="379.1" y="251.4" width="1" height="1" fill="rgb(182,182,182)"/>
<rect x="394.3" y="248.8" width="1" height="1" fill="rgb(198,198,198)"/>
<rect x="388.5" y="240.4" width="1" height="1" fill="rgb(207,207,207)"/>
<rect x="382.6" y="258.5" width="1" height="1" fill="rgb(175,175,175)"/>
<rect x="389.7" y="255.3" width="1" height="1" fill="rgb(174,174,174)"/>
<rect x="390.6" y="245.5" width="1" height="1" fill="rgb(177,177,177)"/>
<rect x="384.0" y="249.1" width="1" height="1" fill="rgb(191,191,191)"/>
<rect x="395.5" y="235.4" width="1" height="1" fill="rgb(196,196,196)"/>
<rect x="381.6" y="248.7" width="1" height="1" fill="rgb(202,202,202)"/>
<rect x="390.6" y="261.8" width="1" height="1" fill="rgb(196,196,196)"/>
<rect x="390.8" y="257.8" width="1" height="1" fill="rgb(208,208,208)"/>
<rect x="393.6" y="254.6" width="1" height="1" fill="rgb(210,210,210)"/>
<rect x="385.7" y="251.2" width="1" height="1" fill="rgb(196,196,196)"/>
<rect x="387.5" y="251.9" width="1" height="1" fill="rgb(215,215,215)"/>
<rect x="386.8" y="251.6" width="1" height="1" fill="rgb(189,189,189)"/>
<rect x="384.6" y="254.0" width="1" height="1" fill="rgb(170,170,170)"/>
<rect x="384.9" y="249.5" width="1" height="1" fill="rgb(201,201,201)"/>
<rect x="388.0" y="245.0" width="1" height="1" fill="rgb(211,211,211)"/>
<rect x="393.2" y="246.6" width="1" height="1" fill="rgb(179,179,179)"/>
<rect x="381.0" y="251.1" width="1" height="1" fill="rgb(177,177,177)"/>
<rect x="391.8" y="255.8" width="1" height="1" fill="rgb(202,202,202)"/>
<rect x="389.3" y="252.9" width="1" height="1" fill="rgb(180,180,180)"/>
<rect x="394.1" y="248.2" width="1" height="1" fill="rgb(199,199,199)"/>
<rect x="378.1" y="248.1" width="1" height="1" fill="rgb(173,173,173)"/>
<rect x="381.2" y="247.0" width="1" height="1" fill="rgb(207,207,207)"/>
<rect x="382.4" y="260.6" width="1" height="1" fill="rgb(192,192,192)"/>
<rect x="386.7" y="253.4" width="1" height="1" fill="rgb(210,210,210)"/>
<rect x="398.4" y="255.7" width="1" height="1" fill="rgb(207,207,207)"/>
<rect x="390.9" y="252.3" width="1" height="1" fill="rgb(209,209,209)"/>
<rect x="385.4" y="253.6" width="1" height="1" fill="rgb(195,195,195)"/>
<rect x="372.7" y="249.0" width="1" height="1" fill="rgb(198,198,198)"/>
<rect x="391.5" y="252.2" width="1" height="1" fill="rgb(184,184,184)"/>
<rect x="401.5" y="251.6" width="1" height="1" fill="rgb(181,181,181)"/>
<rect x="381.5" y="263.7" width="1" height="1" fill="rgb(199,199,199)"/>
<rect x="384.1" y="259.5" width="1" height="1" fill="rgb(201,201,201)"/>
<rect x="389.4" y="251.1" width="1" height="1" fill="rgb(213,213,213)"/>
<rect x="379.0" y="259.4" width="1" height="1" fill="rgb(184,184,184)"/>
<rect x="381.4" y="256.2" width="1" height="1" fill="rgb(215,215,215)"/>
<rect x="375.5" y="255.8" width="1" height="1" fill="rgb(185,185,185)"/>
<rect x="390.4" y="252.8" width="1" height="1" fill="rgb(194,194,194)"/>
<rect x="393.7" y="263.2" width="1" height="1" fill="rgb(188,188,188)"/>
<rect x="382.1" y="256.3" width="1" height="1" fill="rgb(191,191,191)"/>
<rect x="380.7" y="252.5" width="1" height="1" fill="rgb(195,195,195)"/>
<rect x="377.4" y="243.6" width="1" height="1" fill="rgb(197,197,197)"/>
<rect x="389.8" y="247.0" width="1" height="1" fill="rgb(185,185,185)"/>
<rect x="381.5" y="257.2" width="1" height="1" fill="rgb(192,192,192)"/>
<rect x="387.1" y="253.4" width="1" height="1" fill="rgb(212,212,212)"/>
<rect x="398.6" y="250.6" width="1" height="1" fill="rgb(185,185,185)"/>
<rect x="386.2" y="250.0" width="1" height="1" fill="rgb(187,187,187)"/>
<rect x="376.0" y="252.2" width="1" height="1" fill="rgb(205,205,205)"/>
<rect x="375.4" y="258.4" width="1" height="1" fill="rgb(185,185,185)"/>
<rect x="390.3" y="255.3" width="1" height="1" fill="rgb(216,216,216)"/>
<rect x="379.4" y="258.1" width="1" height="1" fill="rgb(207,207,207)"/>
<rect x="391.2" y="263.4" width="1" height="1" fill="rgb(202,202,202)"/>
<rect x="390.6" y="261.0" width="1" height="1" fill="rgb(213,213,213)"/>
<rect x="393.9" y="256.3" width="1" height="1" fill="rgb(186,186,186)"/>
<rect x="381.2" y="250.3" width="1" height="1" fill="rgb(193,193,193)"/>
<rect x="380.5" y="252.5" width="1" height="1" fill="rgb(202,202,202)"/>
<rect x="390.1" y="261.6" width="1" height="1" fill="rgb(177,177,177)"/>
<rect x="385.8" y="250.3" width="1" height="1" fill="rgb(187,187,187)"/>
<rect x="386.0" y="243.4" width="1" height="1" fill="rgb(171,171,171)"/>
<rect x="382.4" y="247.5" width="1" height="1" fill="rgb(189,189,189)"/>
<rect x="397.2" y="250.2" width="1" height="1" fill="rgb(214,214,214)"/>
<rect x="392.6" y="259.8" width="1" height="1" fill="rgb(190,190,190)"/>
<rect x="392.2" y="260.9" width="1" height="1" fill="rgb(174,174,174)"/>
<rect x="381.3" y="251.6" width="1" height="1" fill="rgb(202,202,202)"/>
<rect x="387.2" y="248.5" width="1" height="1" fill="rgb(215,215,215)"/>
<rect x="385.3" y="255.9" width="1" height="1" fill="rgb(178,178,178)"/>
<rect x="389.7" y="246.5" width="1" height="1" fill="rgb(192,192,192)"/>
<rect x="375.3" y="261.5" width="1" height="1" fill="rgb(210,210,210)"/>
<rect x="396.6" y="242.6" width="1" height="1" fill="rgb(178,178,178)"/>
<rect x="390.7" y="249.8" width="1" height="1" fill="rgb(193,193,193)"/>
<rect x="382.9" y="246.0" width="1" height="1" fill="rgb(192,192,192)"/>
<rect x="388.2" y="251.0" width="1" height="1" fill="rgb(215,215,215)"/>
<rect x="385.5" y="248.6" width="1" height="1" fill="rgb(195,195,195)"/>
<rect x="381.5" y="259.3" width="1" height="1" fill="rgb(181,181,181)"/>
<rect x="385.7" y="256.4" width="1" height="1" fill="rgb(208,208,208)"/>
<rect x="386.0" y="244.0" width="1" height="1" fill="rgb(172,172,172)"/>
<rect x="379.6" y="257.9" width="1" height="1" fill="rgb(197,197,197)"/>
<rect x="388.8" y="255.8" width="1" height="1" fill="rgb(194,194,194)"/>
<rect x="386.4" y="245.5" width="1" height="1" fill="rgb(210,210,210)"/>
<rect x="384.4" y="250.1" width="1" height="1" fill="rgb(184,184,184)"/>
<rect x="377.7" y="250.8" width="1" height="1" fill="rgb(186,186,186)"/>
<rect x="395.6" y="246.3" width="1" height="1" fill="rgb(206,206,206)"/>
<rect x="386.8" y="252.2" width="1" height="1" fill="rgb(218,218,218)"/>
<rect x="387.9" y="247.5" width="1" height="1" fill="rgb(172,172,172)"/>
<rect x="393.1" y="245.5" width="1" height="1" fill="rgb(214,214,214)"/>
<rect x="391.7" y="252.0" width="1" height="1" fill="rgb(177,177,177)"/>
<rect x="392.5" y="251.7" width="1" height="1" fill="rgb(192,192,192)"/>
<rect x="387.0" y="249.8" width="1" height="1" fill="rgb(214,214,214)"/>
<rect x="383.6" y="250.4" width="1" height="1" fill="rgb(203,203,203)"/>
<rect x="400.3" y="255.4" width="1" height="1" fill="rgb(197,197,197)"/>
<rect x="381.5" y="255.1" width="1" height="1" fill="rgb(202,202,202)"/>
<rect x="386.1" y="242.4" width="1" height="1" fill="rgb(210,210,210)"/>
<rect x="381.6" y="248.9" width="1" height="1" fill="rgb(213,213,213)"/>
<rect x="384.8" y="247.3" width="1" height="1" fill="rgb(202,202,202)"/>
<rect x="393.4" y="242.9" width="1" height="1" fill="rgb(201,201,201)"/>
<rect x="387.1" y="250.4" width="1" height="1" fill="rgb(214,214,214)"/>
<rect x="390.8" y="245.1" width="1" height="1" fill="rgb(181,181,181)"/>
<rect x="370.6" y="252.2" width="1" height="1" fill="rgb(210,210,210)"/>
<rect x="387.4" y="255.9" width="1" height="1" fill="rgb(173,173,173)"/>
<rect x="390.0" y="255.5" width="1" height="1" fill="rgb(175,175,175)"/>
<rect x="388.7" y="255.9" width="1" height="1" fill="rgb(178,178,178)"/>
<rect x="384.1" y="247.2" width="1" height="1" fill="rgb(200,200,200)"/>
<rect x="387.4" y="255.8" width="1" height="1" fill="rgb(202,202,202)"/>
<rect x="385.8" y="249.7" width="1" height="1" fill="rgb(211,211,211)"/>
<rect x="383.7" y="256.4" width="1" height="1" fill="rgb(215,215,215)"/>
<rect x="392.3" y="255.9" width="1" height="1" fill="rgb(191,191,191)"/>
<rect x="384.8" y="250.7" width="1" height="1" fill="rgb(197,197,197)"/>
<rect x="387.3" y="248.7" width="1" height="1" fill="rgb(212,212,212)"/>
<rect x="397.2" y="261.5" width="1" height="1" fill="rgb(195,195,195)"/>
<rect x="388.6" y="249.3" width="1" height="1" fill="rgb(188,188,188)"/>
<rect x="394.5" y="250.6" width="1" height="1" fill="rgb(172,172,172)"/>
<rect x="391.9" y="252.3" width="1" height="1" fill="rgb(182,182,182)"/>
<rect x="391.3" y="253.8" width="1" height="1" fill="rgb(177,177,177)"/>
<rect x="390.7" y="255.9" width="1" height="1" fill="rgb(206,206,206)"/>
<rect x="384.4" y="255.1" width="1" height="1" fill="rgb(174,174,174)"/>
<rect x="394.0" y="251.9" width="1" height="1" fill="rgb(218,218,218)"/>
<rect x="376.3" y="255.5" width="1" height="1" fill="rgb(191,191,191)"/>
<rect x="395.3" y="249.1" width="1" height="1" fill="rgb(176,176,176)"/>
<rect x="377.0" y="244.1" width="1" height="1" fill="rgb(201,201,201)"/>
<rect x="390.0" y="257.3" width="1" height="1" fill="rgb(170,170,170)"/>
<rect x="385.2" y="254.2" width="1" height="1" fill="rgb(188,188,188)"/>
<rect x="376.4" y="245.9" width="1" height="1" fill="rgb(211,211,211)"/>
<rect x="384.0" y="245.5" width="1" height="1" fill="rgb(175,175,175)"/>
<rect x="388.0" y="252.7" width="1" height="1" fill="rgb(195,195,195)"/>
<rect x="389.9" y="247.5" width="1" height="1" fill="rgb(181,181,181)"/>
<rect x="394.7" y="248.5" width="1" height="1" fill="rgb(213,213,213)"/>
<rect x="392.6" y="258.6" width="1" height="1" fill="rgb(189,189,189)"/>
<rect x="386.7" y="247.4" width="1" height="1" fill="rgb(181,181,181)"/>
<rect x="383.3" y="249.0" width="1" height="1" fill="rgb(184,184,184)"/>
<rect x="381.4" y="258.3" width="1" height="1" fill="rgb(193,193,193)"/>
<rect x="389.6" y="247.9" width="1" height="1" fill="rgb(173,173,173)"/>
<rect x="395.1" y="251.7" width="1" height="1" fill="rgb(210,210,210)"/>
<rect x="385.3" y="253.4" width="1" height="1" fill="rgb(183,183,183)"/>
<rect x="379.4" y="254.2" width="1" height="1" fill="rgb(180,180,180)"/>
<rect x="395.8" y="249.6" width="1" height="1" fill="rgb(210,210,210)"/>
<rect x="395.7" y="253.7" width="1" height="1" fill="rgb(180,180,180)"/>
<rect x="393.0" y="256.2" width="1" height="1" fill="rgb(195,195,195)"/>
<rect x="388.6" y="252.4" width="1" height="1" fill="rgb(198,198,198)"/>
<rect x="382.5" y="253.6" width="1" height="1" fill="rgb(193,193,193)"/>
<rect x="399.5" y="249.0" width="1" height="1" fill="rgb(202,202,202)"/>
<rect x="382.3" y="255.1" width="1" height="1" fill="rgb(212,212,212)"/>
<rect x="396.6" y="252.4" width="1" height="1" fill="rgb(191,191,191)"/>
<rect x="387.8" y="252.1" width="1" height="1" fill="rgb(181,181,181)"/>
<rect x="390.2" y="249.4" width="1" height="1" fill="rgb(188,188,188)"/>
<rect x="398.7" y="249.3" width="1" height="1" fill="rgb(213,213,213)"/>
<rect x="384.5" y="255.5" width="1" height="1" fill="rgb(175,175,175)"/>
<rect x="379.4" y="252.2" width="1" height="1" fill="rgb(197,197,197)"/>
<rect x="401.0" y="246.4" width="1" height="1" fill="rgb(179,179,179)"/>
<rect x="378.3" y="247.6" width="1" height="1" fill="rgb(173,173,173)"/>
<rect x="386.0" y="247.6" width="1" height="1" fill="rgb(212,212,212)"/>
<rect x="384.5" y="259.2" width="1" height="1" fill="rgb(193,193,193)"/>
<rect x="377.7" y="255.3" width="1" height="1" fill="rgb(189,189,189)"/>
<rect x="392.3" y="245.8" width="1" height="1" fill="rgb(210,210,210)"/>
<rect x="391.1" y="251.5" width="1" height="1" fill="rgb(213,213,213)"/>
<rect x="386.4" y="244.1" width="1" height="1" fill="rgb(179,179,179)"/>
<rect x="383.7" y="248.6" width="1" height="1" fill="rgb(207,207,207)"/>
<rect x="392.8" y="248.8" width="1" height="1" fill="rgb(185,185,185)"/>
<rect x="381.0" y="251.4" width="1" height="1" fill="rgb(177,177,177)"/>
<rect x="389.4" y="265.0" width="1" height="1" fill="rgb(182,182,182)"/>
<rect x="384.0" y="252.0" width="1" height="1" fill="rgb(186,186,186)"/>
<rect x="384.5" y="249.9" width="1" height="1" fill="rgb(212,212,212)"/>
<rect x="386.9" y="258.1" width="1" height="1" fill="rgb(205,205,205)"/>
<rect x="379.2" y="255.7" width="1" height="1" fill="rgb(214,214,214)"/>
<rect x="392.9" y="254.6" width="1" height="1" fill="rgb(207,207,207)"/>
<rect x="375.4" y="250.8" width="1" height="1" fill="rgb(213,213,213)"/>
<rect x="393.3" y="252.9" width="1" height="1" fill="rgb(202,202,202)"/>
<rect x="377.2" y="251.9" width="1" height="1" fill="rgb(218,218,218)"/>
<rect x="395.6" y="247.4" width="1" height="1" fill="rgb(216,216,216)"/>
<rect x="379.8" y="253.3" width="1" height="1" fill="rgb(213,213,213)"/>
<rect x="383.9" y="254.8" width="1" height="1" fill="rgb(182,182,182)"/>
<rect x="376.6" y="251.1" width="1" height="1" fill="rgb(178,178,178)"/>
<rect x="380.7" y="258.8" width="1" height="1" fill="rgb(195,195,195)"/>
<rect x="387.5" y="256.9" width="1" height="1" fill="rgb(170,170,170)"/>
<rect x="382.2" y="240.7" width="1" height="1" fill="rgb(199,199,199)"/>
<rect x="383.9" y="260.6" width="1" height="1" fill="rgb(197,197,197)"/>
<rect x="389.3" y="250.2" width="1" height="1" fill="rgb(182,182,182)"/>
<rect x="373.6" y="250.9" width="1" height="1" fill="rgb(192,192,192)"/>
<rect x="392.3" y="258.2" width="1" height="1" fill="rgb(191,191,191)"/>
<rect x="390.5" y="243.0" width="1" height="1" fill="rgb(170,170,170)"/>
<rect x="388.5" y="249.2" width="1" height="1" fill="rgb(193,193,193)"/>
<rect x="379.1" y="253.5" width="1" height="1" fill="rgb(192,192,192)"/>
<rect x="386.7" y="250.5" width="1" height="1" fill="rgb(208,208,208)"/>
<rect x="383.3" y="256.9" width="1" height="1" fill="rgb(190,190,190)"/>
<rect x="388.0" y="249.3" width="1" height="1" fill="rgb(213,213,213)"/>
<rect x="387.3" y="256.8" width="1" height="1" fill="rgb(214,214,214)"/>
<rect x="375.3" y="258.3" width="1" height="1" fill="rgb(207,207,207)"/>
<rect x="376.3" y="258.1" width="1" height="1" fill="rgb(201,201,201)"/>
<rect x="396.0" y="255.7" width="1" height="1" fill="rgb(181,181,181)"/>
<rect x="395.8" y="259.6" width="1" height="1" fill="rgb(213,213,213)"/>
<rect x="381.0" y="244.8" width="1" height="1" fill="rgb(207,207,207)"/>
<rect x="392.7" y="245.9" width="1" height="1" fill="rgb(214,214,214)"/>
<rect x="387.4" y="247.8" width="1" height="1" fill="rgb(198,198,198)"/>
<rect x="392.9" y="250.9" width="1" height="1" fill="rgb(179,179,179)"/>
<rect x="379.5" y="254.4" width="1" height="1" fill="rgb(172,172,172)"/>
<rect x="387.5" y="250.5" width="1" height="1" fill="rgb(181,181,181)"/>
<rect x="380.2" y="248.5" width="1" height="1" fill="rgb(208,208,208)"/>
<rect x="381.2" y="257.2" width="1" height="1" fill="rgb(180,180,180)"/>
<rect x="384.5" y="247.3" width="1" height="1" fill="rgb(184,184,184)"/>
<rect x="393.2" y="245.3" width="1" height="1" fill="rgb(174,174,174)"/>
<rect x="381.9" y="258.2" width="1" height="1" fill="rgb(189,189,189)"/>
<rect x="393.8" y="245.9" width="1" height="1" fill="rgb(172,172,172)"/>
<rect x="389.9" y="260.7" width="1" height="1" fill="rgb(216,216,216)"/>
<rect x="378.6" y="255.5" width="1" height="1" fill="rgb(194,194,194)"/>
<rect x="392.2" y="248.9" width="1" height="1" fill="rgb(191,191,191)"/>
<rect x="381.9" y="251.1" width="1" height="1" fill="rgb(171,171,171)"/>
<rect x="387.1" y="262.7" width="1" height="1" fill="rgb(208,208,208)"/>
<rect x="390.5" y="251.9" width="1" height="1" fill="rgb(212,212,212)"/>
<rect x="391.0" y="255.0" width="1" height="1" fill="rgb(174,174,174)"/>
<rect x="381.9" y="253.3" width="1" height="1" fill="rgb(206,206,206)"/>
<rect x="379.3" y="250.9" width="1" height="1" fill="rgb(178,178,178)"/>
<rect x="388.7" y="251.5" width="1" height="1" fill="rgb(205,205,205)"/>
<rect x="389.4" y="250.0" width="1" height="1" fill="rgb(182,182,182)"/>
<rect x="388.4" y="244.3" width="1" height="1" fill="rgb(210,210,210)"/>
<rect x="396.4" y="255.0" width="1" height="1" fill="rgb(185,185,185)"/>
<rect x="397.7" y="240.4" width="1" height="1" fill="rgb(213,213,213)"/>
<rect x="402.0" y="254.1" width="1" height="1" fill="rgb(191,191,191)"/>
<rect x="386.5" y="245.9" width="1" height="1" fill="rgb(210,210,210)"/>
<rect x="387.4" y="262.6" width="1" height="1" fill="rgb(215,215,215)"/>
<rect x="385.1" y="253.5" width="1" height="1" fill="rgb(191,191,191)"/>
<rect x="380.6" y="244.0" width="1" height="1" fill="rgb(200,200,200)"/>
<rect x="373.2" y="255.2" width="1" height="1" fill="rgb(185,185,185)"/>
<rect x="390.7" y="251.0" width="1" height="1" fill="rgb(183,183,183)"/>
<rect x="400.1" y="249.1" width="1" height="1" fill="rgb(199,199,199)"/>
<rect x="381.6" y="256.3" width="1" height="1" fill="rgb(189,189,189)"/>
<rect x="394.8" y="247.0" width="1" height="1" fill="rgb(179,179,179)"/>
<rect x="385.2" y="256.7" width="1" height="1" fill="rgb(216,216,216)"/>
<rect x="378.4" y="250.8" width="1" height="1" fill="rgb(191,191,191)"/>
<rect x="390.8" y="252.6" width="1" height="1" fill="rgb(175,175,175)"/>
<rect x="382.2" y="250.9" width="1" height="1" fill="rgb(192,192,192)"/>
<rect x="393.1" y="250.1" width="1" height="1" fill="rgb(214,214,214)"/>
<rect x="375.2" y="259.6" width="1" height="1" fill="rgb(174,174,174)"/>
<rect x="390.0" y="247.3" width="1" height="1" fill="rgb(181,181,181)"/>
<rect x="386.2" y="256.2" width="1" height="1" fill="rgb(171,171,171)"/>
<rect x="387.5" y="244.5" width="1" height="1" fill="rgb(185,185,185)"/>
<rect x="385.7" y="248.8" width="1" height="1" fill="rgb(195,195,195)"/>
<rect x="374.0" y="258.9" width="1" height="1" fill="rgb(188,188,188)"/>
<rect x="393.2" y="244.7" width="1" height="1" fill="rgb(182,182,182)"/>
<rect x="387.1" y="253.8" width="1" height="1" fill="rgb(178,178,178)"/>
<rect x="384.9" y="251.3" width="1" height="1" fill="rgb(206,206,206)"/>
<rect x="385.1" y="254.9" width="1" height="1" fill="rgb(182,182,182)"/>
<rect x="385.8" y="259.8" width="1" height="1" fill="rgb(170,170,170)"/>
<rect x="377.6" y="245.2" width="1" height="1" fill="rgb(183,183,183)"/>
<rect x="381.3" y="262.9" width="1" height="1" fill="rgb(171,171,171)"/>
<rect x="383.1" y="248.7" width="1" height="1" fill="rgb(213,213,213)"/>
<rect x="388.3" y="248.6" width="1" height="1" fill="rgb(196,196,196)"/>
<rect x="387.8" y="249.7" width="1" height="1" fill="rgb(209,209,209)"/>
<rect x="383.2" y="258.3" width="1" height="1" fill="rgb(208,208,208)"/>
<rect x="374.5" y="262.5" width="1" height="1" fill="rgb(170,170,170)"/>
<rect x="392.6" y="251.3" width="1" height="1" fill="rgb(211,211,211)"/>
<rect x="389.2" y="251.3" width="1" height="1" fill="rgb(209,209,209)"/>
<rect x="383.9" y="243.1" width="1" height="1" fill="rgb(180,180,180)"/>
<rect x="390.2" y="252.9" width="1" height="1" fill="rgb(179,179,179)"/>
<rect x="374.8" y="253.3" width="1" height="1" fill="rgb(192,192,192)"/>
<rect x="389.7" y="246.3" width="1" height="1" fill="rgb(204,204,204)"/>
<rect x="381.5" y="243.9" width="1" height="1" fill="rgb(179,179,179)"/>
<rect x="382.2" y="247.3" width="1" height="1" fill="rgb(191,191,191)"/>
<rect x="388.1" y="258.9" width="1" height="1" fill="rgb(215,215,215)"/>
<rect x="385.4" y="252.6" width="1" height="1" fill="rgb(211,211,211)"/>
<rect x="382.9" y="261.4" width="1" height="1" fill="rgb(215,215,215)"/>
<rect x="382.0" y="254.5" width="1" height="1" fill="rgb(203,203,203)"/>
<rect x="381.9" y="252.5" width="1" height="1" fill="rgb(186,186,186)"/>
<rect x="394.4" y="250.5" width="1" height="1" fill="rgb(211,211,211)"/>
<rect x="393.5" y="236.9" width="1" height="1" fill="rgb(179,179,179)"/>
<rect x="391.7" y="250.6" width="1" height="1" fill="rgb(218,218,218)"/>
<rect x="402.2" y="246.5" width="1" height="1" fill="rgb(209,209,209)"/>
<rect x="388.5" y="253.0" width="1" height="1" fill="rgb(202,202,202)"/>
<rect x="390.1" y="259.9" width="1" height="1" fill="rgb(186,186,186)"/>
<rect x="392.8" y="248.7" width="1" height="1" fill="rgb(179,179,179)"/>
<rect x="397.8" y="243.2" width="1" height="1" fill="rgb(180,180,180)"/>
<rect x="381.1" y="252.6" width="1" height="1" fill="rgb(215,215,215)"/>
<rect x="387.9" y="266.7" width="1" height="1" fill="rgb(201,201,201)"/>
<rect x="390.3" y="262.4" width="1" height="1" fill="rgb(194,194,194)"/>
<rect x="381.4" y="254.6" width="1" height="1" fill="rgb(171,171,171)"/>
<rect x="395.2" y="255.3" width="1" height="1" fill="rgb(174,174,174)"/>
<rect x="392.0" y="239.8" width="1" height="1" fill="rgb(213,213,213)"/>
<rect x="388.5" y="250.2" width="1" height="1" fill="rgb(206,206,206)"/>
<rect x="376.9" y="262.6" width="1" height="1" fill="rgb(194,194,194)"/>
<rect x="395.6" y="247.3" width="1" height="1" fill="rgb(184,184,184)"/>
<rect x="388.3" y="251.9" width="1" height="1" fill="rgb(215,215,215)"/>
<rect x="382.7" y="254.6" width="1" height="1" fill="rgb(183,183,183)"/>
<rect x="383.9" y="257.7" width="1" height="1" fill="rgb(187,187,187)"/>
<rect x="380.7" y="269.7" width="1" height="1" fill="rgb(183,183,183)"/>
<rect x="398.4" y="248.0" width="1" height="1" fill="rgb(200,200,200)"/>
<rect x="395.6" y="241.8" width="1" height="1" fill="rgb(187,187,187)"/>
<rect x="390.4" y="250.3" width="1" height="1" fill="rgb(189,189,189)"/>
<rect x="385.8" y="256.9" width="1" height="1" fill="rgb(201,201,201)"/>
<rect x="390.4" y="248.3" width="1" height="1" fill="rgb(190,190,190)"/>
<rect x="383.4" y="246.5" width="1" height="1" fill="rgb(198,198,198)"/>
<rect x="387.5" y="253.5" width="1" height="1" fill="rgb(183,183,183)"/>
<rect x="393.3" y="243.5" width="1" height="1" fill="rgb(172,172,172)"/>
<rect x="389.4" y="241.1" width="1" height="1" fill="rgb(181,181,181)"/>
<rect x="383.7" y="254.0" width="1" height="1" fill="rgb(189,189,189)"/>
<rect x="382.3" y="244.5" width="1" height="1" fill="rgb(179,179,179)"/>
<rect x="387.9" y="251.7" width="1" height="1" fill="rgb(189,189,189)"/>
<rect x="393.2" y="257.4" width="1" height="1" fill="rgb(176,176,176)"/>
<rect x="387.1" y="246.1" width="1" height="1" fill="rgb(195,195,195)"/>
<rect x="392.0" y="253.3" width="1" height="1" fill="rgb(212,212,212)"/>
<rect x="384.2" y="242.1" width="1" height="1" fill="rgb(172,172,172)"/>
<rect x="383.3" y="251.2" width="1" height="1" fill="rgb(210,210,210)"/>
<rect x="386.3" y="250.8" width="1" height="1" fill="rgb(202,202,202)"/>
<rect x="380.0" y="249.9" width="1" height="1" fill="rgb(214,214,214)"/>
<rect x="388.0" y="252.4" width="1" height="1" fill="rgb(190,190,190)"/>
<rect x="389.9" y="252.3" width="1" height="1" fill="rgb(201,201,201)"/>
<rect x="394.8" y="248.8" width="1" height="1" fill="rgb(170,170,170)"/>
<rect x="391.3" y="258.1" width="1" height="1" fill="rgb(179,179,179)"/>
<rect x="381.5" y="248.5" width="1" height="1" fill="rgb(177,177,177)"/>
<rect x="374.8" y="253.2" width="1" height="1" fill="rgb(174,174,174)"/>
<rect x="384.4" y="255.6" width="1" height="1" fill="rgb(184,184,184)"/>
<rect x="386.4" y="248.0" width="1" height="1" fill="rgb(181,181,181)"/>
<rect x="392.1" y="251.1" width="1" height="1" fill="rgb(172,172,172)"/>
<rect x="387.7" y="253.4" width="1" height="1" fill="rgb(205,205,205)"/>
<rect x="391.9" y="249.5" width="1" height="1" fill="rgb(190,190,190)"/>
<rect x="383.4" y="245.8" width="1" height="1" fill="rgb(204,204,204)"/>
<rect x="385.8" y="256.9" width="1" height="1" fill="rgb(196,196,196)"/>
<rect x="400.2" y="247.5" width="1" height="1" fill="rgb(215,215,215)"/>
<rect x="386.2" y="257.7" width="1" height="1" fill="rgb(204,204,204)"/>
<rect x="371.7" y="262.7" width="1" height="1" fill="rgb(194,194,194)"/>
<rect x="387.9" y="241.0" width="1" height="1" fill="rgb(179,179,179)"/>
<rect x="394.4" y="245.7" width="1" height="1" fill="rgb(185,185,185)"/>
<rect x="375.4" y="247.4" width="1" height="1" fill="rgb(186,186,186)"/>
<rect x="383.4" y="245.0" width="1" height="1" fill="rgb(185,185,185)"/>
<rect x="391.4" y="244.0" width="1" height="1" fill="rgb(175,175,175)"/>
<rect x="393.3" y="242.7" width="1" height="1" fill="rgb(215,215,215)"/>
<rect x="396.5" y="252.1" width="1" height="1" fill="rgb(190,190,190)"/>
<rect x="384.2" y="247.5" width="1" height="1" fill="rgb(212,212,212)"/>
<rect x="380.0" y="266.6" width="1" height="1" fill="rgb(170,170,170)"/>
<rect x="377.7" y="255.6" width="1" height="1" fill="rgb(200,200,200)"/>
<rect x="378.3" y="253.8" width="1" height="1" fill="rgb(194,194,194)"/>
<rect x="387.9" y="259.1" width="1" height="1" fill="rgb(217,217,217)"/>
<rect x="391.2" y="247.4" width="1" height="1" fill="rgb(174,174,174)"/>
<rect x="380.8" y="257.6" width="1" height="1" fill="rgb(209,209,209)"/>
<rect x="380.5" y="245.4" width="1" height="1" fill="rgb(174,174,174)"/>
<rect x="381.4" y="248.7" width="1" height="1" fill="rgb(184,184,184)"/>
<rect x="396.8" y="245.4" width="1" height="1" fill="rgb(186,186,186)"/>
<rect x="393.2" y="247.2" width="1" height="1" fill="rgb(216,216,216)"/>
<rect x="382.0" y="259.0" width="1" height="1" fill="rgb(206,206,206)"/>
<rect x="387.6" y="254.7" width="1" height="1" fill="rgb(218,218,218)"/>
<rect x="379.2" y="252.8" width="1" height="1" fill="rgb(203,203,203)"/>
<rect x="390.0" y="255.6" width="1" height="1" fill="rgb(213,213,213)"/>
<rect x="392.7" y="259.2" width="1" height="1" fill="rgb(199,199,199)"/>
<rect x="393.9" y="261.7" width="1" height="1" fill="rgb(211,211,211)"/>
<rect x="388.3" y="250.5" width="1" height="1" fill="rgb(194,194,194)"/>
<rect x="378.6" y="262.1" width="1" height="1" fill="rgb(197,197,197)"/>
<rect x="389.7" y="253.4" width="1" height="1" fill="rgb(186,186,186)"/>
<rect x="382.6" y="256.6" width="1" height="1" fill="rgb(212,212,212)"/>
<rect x="389.6" y="245.3" width="1" height="1" fill="rgb(198,198,198)"/>
<rect x="384.3" y="249.1" width="1" height="1" fill="rgb(188,188,188)"/>
<rect x="397.0" y="249.3" width="1" height="1" fill="rgb(198,198,198)"/>
<rect x="380.0" y="247.4" width="1" height="1" fill="rgb(181,181,181)"/>
<rect x="387.2" y="249.0" width="1" height="1" fill="rgb(213,213,213)"/>
<rect x="392.1" y="255.1" width="1" height="1" fill="rgb(212,212,212)"/>
<rect x="387.5" y="256.9" width="1" height="1" fill="rgb(191,191,191)"/>
<rect x="388.6" y="247.8" width="1" height="1" fill="rgb(205,205,205)"/>
<rect x="389.6" y="257.8" width="1" height="1" fill="rgb(173,173,173)"/>
<rect x="382.3" y="250.8" width="1" height="1" fill="rgb(204,204,204)"/>
<rect x="386.1" y="256.8" width="1" height="1" fill="rgb(185,185,185)"/>
<rect x="386.3" y="257.8" width="1" height="1" fill="rgb(203,203,203)"/>
<rect x="378.6" y="246.3" width="1" height="1" fill="rgb(182,182,182)"/>
<rect x="398.3" y="258.7" width="1" height="1" fill="rgb(188,188,188)"/>
<rect x="382.4" y="249.8" width="1" height="1" fill="rgb(172,172,172)"/>
<rect x="385.7" y="247.3" width="1" height="1" fill="rgb(172,172,172)"/>
<rect x="385.7" y="248.1" width="1" height="1" fill="rgb(196,196,196)"/>
<rect x="378.9" y="257.1" width="1" height="1" fill="rgb(186,186,186)"/>
<rect x="383.2" y="257.1" width="1" height="1" fill="rgb(207,207,207)"/>
<rect x="393.2" y="255.7" width="1" height="1" fill="rgb(215,215,215)"/>
<rect x="384.9" y="251.6" width="1" height="1" fill="rgb(183,183,183)"/>
<rect x="385.8" y="254.1" width="1" height="1" fill="rgb(218,218,218)"/>
<rect x="380.9" y="255.3" width="1" height="1" fill="rgb(196,196,196)"/>
<rect x="373.0" y="255.8" width="1" height="1" fill="rgb(218,218,218)"/>
<rect x="387.8" y="249.4" width="1" height="1" fill="rgb(206,206,206)"/>
<rect x="380.0" y="255.1" width="1" height="1" fill="rgb(197,197,197)"/>
<rect x="380.7" y="256.6" width="1" height="1" fill="rgb(174,174,174)"/>
<rect x="380.0" y="256.0" width="1" height="1" fill="rgb(202,202,202)"/>
<rect x="387.0" y="251.3" width="1" height="1" fill="rgb(184,184,184)"/>
<rect x="386.6" y="246.8" width="1" height="1" fill="rgb(172,172,172)"/>
<rect x="391.8" y="248.8" width="1" height="1" fill="rgb(191,191,191)"/>
<rect x="388.3" y="242.7" width="1" height="1" fill="rgb(177,177,177)"/>
<rect x="397.6" y="254.8" width="1" height="1" fill="rgb(206,206,206)"/>
<rect x="388.2" y="249.5" width="1" height="1" fill="rgb(175,175,175)"/>
<rect x="389.6" y="248.4" width="1" height="1" fill="rgb(199,199,199)"/>
<rect x="396.2" y="252.3" width="1" height="1" fill="rgb(215,215,215)"/>
<rect x="380.4" y="262.7" width="1" height="1" fill="rgb(205,205,205)"/>
<rect x="384.6" y="247.5" width="1" height="1" fill="rgb(207,207,207)"/>
<rect x="391.2" y="255.1" width="1" height="1" fill="rgb(173,173,173)"/>
<rect x="389.5" y="249.2" width="1" height="1" fill="rgb(191,191,191)"/>
<rect x="393.8" y="264.1" width="1" height="1" fill="rgb(181,181,181)"/>
<rect x="392.2" y="250.4" width="1" height="1" fill="rgb(186,186,186)"/>
<rect x="392.5" y="253.3" width="1" height="1" fill="rgb(212,212,212)"/>
<rect x="392.2" y="245.5" width="1" height="1" fill="rgb(202,202,202)"/>
<rect x="394.4" y="244.9" width="1" height="1" fill="rgb(189,189,189)"/>
<rect x="382.6" y="263.0" width="1" height="1" fill="rgb(197,197,197)"/>
<rect x="390.1" y="248.0" width="1" height="1" fill="rgb(182,182,182)"/>
<rect x="390.0" y="253.9" width="1" height="1" fill="rgb(211,211,211)"/>
<rect x="381.9" y="257.5" width="1" height="1" fill="rgb(201,201,201)"/>
<rect x="386.1" y="249.4" width="1" height="1" fill="rgb(191,191,191)"/>
<rect x="391.5" y="262.1" width="1" height="1" fill="rgb(205,205,205)"/>
<rect x="381.6" y="246.1" width="1" height="1" fill="rgb(170,170,170)"/>
<rect x="380.5" y="252.5" width="1" height="1" fill="rgb(206,206,206)"/>
<rect x="387.8" y="250.5" width="1" height="1" fill="rgb(184,184,184)"/>
<rect x="388.5" y="247.4" width="1" height="1" fill="rgb(215,215,215)"/>
<rect x="391.4" y="264.5" width="1" height="1" fill="rgb(209,209,209)"/>
<rect x="372.4" y="259.2" width="1" height="1" fill="rgb(198,198,198)"/>
<rect x="388.3" y="255.1" width="1" height="1" fill="rgb(181,181,181)"/>
<rect x="378.5" y="257.2" width="1" height="1" fill="rgb(173,173,173)"/>
<rect x="395.7" y="258.0" width="1" height="1" fill="rgb(208,208,208)"/>
<rect x="385.9" y="252.3" width="1" height="1" fill="rgb(216,216,216)"/>
<rect x="351.2" y="250.6" width="1" height="1" fill="rgb(201,201,201)"/>
<rect x="363.9" y="261.8" width="1" height="1" fill="rgb(217,217,217)"/>
<rect x="360.8" y="257.3" width="1" height="1" fill="rgb(180,180,180)"/>
<rect x="370.9" y="262.9" width="1" height="1" fill="rgb(183,183,183)"/>
<rect x="354.8" y="253.4" width="1" height="1" fill="rgb(182,182,182)"/>
<rect x="365.4" y="242.0" width="1" height="1" fill="rgb(196,196,196)"/>
<rect x="364.0" y="263.3" width="1" height="1" fill="rgb(215,215,215)"/>
<rect x="370.2" y="249.8" width="1" height="1" fill="rgb(179,179,179)"/>
<rect x="372.0" y="245.6" width="1" height="1" fill="rgb(178,178,178)"/>
<rect x="373.9" y="256.5" width="1" height="1" fill="rgb(188,188,188)"/>
<rect x="362.7" y="243.8" width="1" height="1" fill="rgb(190,190,190)"/>
<rect x="359.2" y="246.3" width="1" height="1" fill="rgb(189,189,189)"/>
<rect x="366.9" y="251.7" width="1" height="1" fill="rgb(183,183,183)"/>
<rect x="368.7" y="261.3" width="1" height="1" fill="rgb(184,184,184)"/>
<rect x="360.7" y="254.8" width="1" height="1" fill="rgb(194,194,194)"/>
<rect x="365.0" y="257.4" width="1" height="1" fill="rgb(211,211,211)"/>
<rect x="359.2" y="253.4" width="1" height="1" fill="rgb(199,199,199)"/>
<rect x="364.5" y="256.6" width="1" height="1" fill="rgb(191,191,191)"/>
<rect x="360.6" y="251.8" width="1" height="1" fill="rgb(192,192,192)"/>
<rect x="372.6" y="261.9" width="1" height="1" fill="rgb(211,211,211)"/>
<rect x="369.4" y="251.7" width="1" height="1" fill="rgb(188,188,188)"/>
<rect x="360.8" y="254.1" width="1" height="1" fill="rgb(201,201,201)"/>
<rect x="373.0" y="246.9" width="1" height="1" fill="rgb(182,182,182)"/>
<rect x="349.1" y="255.0" width="1" height="1" fill="rgb(208,208,208)"/>
<rect x="352.6" y="249.8" width="1" height="1" fill="rgb(182,182,182)"/>
<rect x="365.3" y="257.1" width="1" height="1" fill="rgb(218,218,218)"/>
<rect x="364.6" y="251.0" width="1" height="1" fill="rgb(189,189,189)"/>
<rect x="370.6" y="255.4" width="1" height="1" fill="rgb(170,170,170)"/>
<rect x="353.3" y="264.0" width="1" height="1" fill="rgb(212,212,212)"/>
<rect x="360.8" y="256.9" width="1" height="1" fill="rgb(192,192,192)"/>
<rect x="357.3" y="255.2" width="1" height="1" fill="rgb(217,217,217)"/>
<rect x="359.9" y="255.8" width="1" height="1" fill="rgb(189,189,189)"/>
<rect x="365.8" y="246.5" width="1" height="1" fill="rgb(199,199,199)"/>
<rect x="368.8" y="257.6" width="1" height="1" fill="rgb(180,180,180)"/>
<rect x="356.0" y="250.9" width="1" height="1" fill="rgb(172,172,172)"/>
<rect x="370.3" y="255.6" width="1" height="1" fill="rgb(196,196,196)"/>
<rect x="359.9" y="251.9" width="1" height="1" fill="rgb(206,206,206)"/>
<rect x="363.3" y="252.3" width="1" height="1" fill="rgb(216,216,216)"/>
<rect x="360.0" y="251.4" width="1" height="1" fill="rgb(180,180,180)"/>
<rect x="360.5" y="252.1" width="1" height="1" fill="rgb(170,170,170)"/>
<rect x="369.2" y="245.5" width="1" height="1" fill="rgb(200,200,200)"/>
<rect x="360.3" y="257.7" width="1" height="1" fill="rgb(176,176,176)"/>
<rect x="364.4" y="252.3" width="1" height="1" fill="rgb(201,201,201)"/>
<rect x="361.0" y="260.2" width="1" height="1" fill="rgb(190,190,190)"/>
<rect x="358.2" y="254.6" width="1" height="1" fill="rgb(204,204,204)"/>
<rect x="366.8" y="255.0" width="1" height="1" fill="rgb(182,182,182)"/>
<rect x="360.3" y="260.2" width="1" height="1" fill="rgb(178,178,178)"/>
<rect x="370.8" y="249.6" width="1" height="1" fill="rgb(204,204,204)"/>
<rect x="348.3" y="253.9" width="1" height="1" fill="rgb(170,170,170)"/>
<rect x="363.7" y="255.0" width="1" height="1" fill="rgb(214,214,214)"/>
<rect x="353.0" y="250.7" width="1" height="1" fill="rgb(184,184,184)"/>
<rect x="365.4" y="255.6" width="1" height="1" fill="rgb(186,186,186)"/>
<rect x="368.8" y="253.9" width="1" height="1" fill="rgb(209,209,209)"/>
<rect x="356.6" y="253.5" width="1" height="1" fill="rgb(177,177,177)"/>
<rect x="369.4" y="257.3" width="1" height="1" fill="rgb(184,184,184)"/>
<rect x="362.5" y="262.6" width="1" height="1" fill="rgb(202,202,202)"/>
<rect x="361.4" y="252.3" width="1" height="1" fill="rgb(185,185,185)"/>
<rect x="367.3" y="256.0" width="1" height="1" fill="rgb(176,176,176)"/>
<rect x="370.7" y="255.8" width="1" height="1" fill="rgb(214,214,214)"/>
<rect x="364.5" y="257.8" width="1" height="1" fill="rgb(175,175,175)"/>
<rect x="364.7" y="248.8" width="1" height="1" fill="rgb(181,181,181)"/>
<rect x="377.4" y="254.8" width="1" height="1" fill="rgb(196,196,196)"/>
<rect x="362.4" y="252.8" width="1" height="1" fill="rgb(185,185,185)"/>
<rect x="366.6" y="258.8" width="1" height="1" fill="rgb(180,180,180)"/>
<rect x="365.5" y="257.7" width="1" height="1" fill="rgb(178,178,178)"/>
<rect x="366.2" y="264.9" width="1" height="1" fill="rgb(213,213,213)"/>
<rect x="353.3" y="265.9" width="1" height="1" fill="rgb(170,170,170)"/>
<rect x="363.9" y="248.5" width="1" height="1" fill="rgb(201,201,201)"/>
<rect x="356.3" y="253.3" width="1" height="1" fill="rgb(174,174,174)"/>
<rect x="362.1" y="246.9" width="1" height="1" fill="rgb(182,182,182)"/>
<rect x="363.4" y="252.8" width="1" height="1" fill="rgb(193,193,193)"/>
<rect x="362.7" y="251.9" width="1" height="1" fill="rgb(215,215,215)"/>
<rect x="370.5" y="252.8" width="1" height="1" fill="rgb(201,201,201)"/>
<rect x="357.0" y="246.7" width="1" height="1" fill="rgb(178,178,178)"/>
<rect x="361.4" y="261.7" width="1" height="1" fill="rgb(189,189,189)"/>
<rect x="370.9" y="249.3" width="1" height="1" fill="rgb(213,213,213)"/>
<rect x="356.1" y="251.1" width="1" height="1" fill="rgb(210,210,210)"/>
<rect x="364.8" y="244.1" width="1" height="1" fill="rgb(189,189,189)"/>
<rect x="361.9" y="247.3" width="1" height="1" fill="rgb(211,211,211)"/>
<rect x="365.0" y="253.2" width="1" height="1" fill="rgb(186,186,186)"/>
<rect x="362.1" y="244.3" width="1" height="1" fill="rgb(185,185,185)"/>
<rect x="364.3" y="259.2" width="1" height="1" fill="rgb(185,185,185)"/>
<rect x="368.1" y="249.4" width="1" height="1" fill="rgb(213,213,213)"/>
<rect x="363.6" y="253.0" width="1" height="1" fill="rgb(212,212,212)"/>
<rect x="364.4" y="245.3" width="1" height="1" fill="rgb(213,213,213)"/>
<rect x="362.9" y="249.5" width="1" height="1" fill="rgb(194,194,194)"/>
<rect x="359.7" y="255.2" width="1" height="1" fill="rgb(211,211,211)"/>
<rect x="356.6" y="246.2" width="1" height="1" fill="rgb(212,212,212)"/>
<rect x="351.8" y="248.7" width="1" height="1" fill="rgb(189,189,189)"/>
<rect x="369.5" y="254.2" width="1" height="1" fill="rgb(171,171,171)"/>
<rect x="374.7" y="250.9" width="1" height="1" fill="rgb(200,200,200)"/>
<rect x="354.3" y="257.3" width="1" height="1" fill="rgb(199,199,199)"/>
<rect x="367.0" y="259.0" width="1" height="1" fill="rgb(175,175,175)"/>
<rect x="354.4" y="261.7" width="1" height="1" fill="rgb(209,209,209)"/>
<rect x="367.8" y="254.9" width="1" height="1" fill="rgb(187,187,187)"/>
<rect x="367.2" y="263.7" width="1" height="1" fill="rgb(196,196,196)"/>
<rect x="355.7" y="246.3" width="1" height="1" fill="rgb(177,177,177)"/>
<rect x="363.9" y="260.9" width="1" height="1" fill="rgb(194,194,194)"/>
<rect x="363.8" y="251.1" width="1" height="1" fill="rgb(187,187,187)"/>
<rect x="360.2" y="256.5" width="1" height="1" fill="rgb(180,180,180)"/>
<rect x="364.2" y="264.4" width="1" height="1" fill="rgb(209,209,209)"/>
<rect x="374.2" y="245.4" width="1" height="1" fill="rgb(189,189,189)"/>
<rect x="345.8" y="254.0" width="1" height="1" fill="rgb(202,202,202)"/>
<rect x="364.2" y="247.4" width="1" height="1" fill="rgb(180,180,180)"/>
<rect x="361.3" y="254.4" width="1" height="1" fill="rgb(181,181,181)"/>
<rect x="365.9" y="256.3" width="1" height="1" fill="rgb(206,206,206)"/>
<rect x="363.8" y="250.5" width="1" height="1" fill="rgb(192,192,192)"/>
<rect x="353.6" y="241.1" width="1" height="1" fill="rgb(217,217,217)"/>
<rect x="367.1" y="249.4" width="1" height="1" fill="rgb(194,194,194)"/>
<rect x="369.2" y="260.3" width="1" height="1" fill="rgb(186,186,186)"/>
<rect x="360.7" y="252.3" width="1" height="1" fill="rgb(209,209,209)"/>
<rect x="359.5" y="257.4" width="1" height="1" fill="rgb(188,188,188)"/>
<rect x="355.8" y="259.6" width="1" height="1" fill="rgb(210,210,210)"/>
<rect x="356.0" y="243.1" width="1" height="1" fill="rgb(213,213,213)"/>
<rect x="370.8" y="256.7" width="1" height="1" fill="rgb(201,201,201)"/>
<rect x="350.4" y="264.3" width="1" height="1" fill="rgb(173,173,173)"/>
<rect x="371.6" y="246.6" width="1" height="1" fill="rgb(177,177,177)"/>
<rect x="355.4" y="252.1" width="1" height="1" fill="rgb(218,218,218)"/>
<rect x="358.3" y="253.8" width="1" height="1" fill="rgb(208,208,208)"/>
<rect x="362.0" y="252.7" width="1" height="1" fill="rgb(190,190,190)"/>
<rect x="361.2" y="254.1" width="1" height="1" fill="rgb(187,187,187)"/>
<rect x="367.3" y="259.2" width="1" height="1" fill="rgb(206,206,206)"/>
<rect x="366.0" y="259.9" width="1" height="1" fill="rgb(187,187,187)"/>
<rect x="358.6" y="251.3" width="1" height="1" fill="rgb(204,204,204)"/>
<rect x="370.1" y="255.0" width="1" height="1" fill="rgb(196,196,196)"/>
<rect x="355.0" y="246.7" width="1" height="1" fill="rgb(213,213,213)"/>
<rect x="357.2" y="249.5" width="1" height="1" fill="rgb(215,215,215)"/>
<rect x="353.0" y="262.3" width="1" height="1" fill="rgb(190,190,190)"/>
<rect x="366.5" y="259.6" width="1" height="1" fill="rgb(173,173,173)"/>
<rect x="363.6" y="249.6" width="1" height="1" fill="rgb(178,178,178)"/>
<rect x="365.6" y="262.6" width="1" height="1" fill="rgb(173,173,173)"/>
<rect x="367.6" y="261.0" width="1" height="1" fill="rgb(180,180,180)"/>
<rect x="356.1" y="244.1" width="1" height="1" fill="rgb(207,207,207)"/>
<rect x="360.1" y="258.7" width="1" height="1" fill="rgb(193,193,193)"/>
<rect x="366.1" y="253.2" width="1" height="1" fill="rgb(189,189,189)"/>
<rect x="367.7" y="250.4" width="1" height="1" fill="rgb(209,209,209)"/>
<rect x="359.0" y="258.8" width="1" height="1" fill="rgb(176,176,176)"/>
<rect x="359.4" y="249.7" width="1" height="1" fill="rgb(190,190,190)"/>
<rect x="349.4" y="262.5" width="1" height="1" fill="rgb(187,187,187)"/>
<rect x="373.3" y="261.4" width="1" height="1" fill="rgb(209,209,209)"/>
<rect x="350.2" y="256.9" width="1" height="1" fill="rgb(210,210,210)"/>
<rect x="369.4" y="262.9" width="1" height="1" fill="rgb(172,172,172)"/>
<rect x="368.3" y="260.9" width="1" height="1" fill="rgb(200,200,200)"/>
<rect x="355.3" y="245.8" width="1" height="1" fill="rgb(196,196,196)"/>
<rect x="362.1" y="250.0" width="1" height="1" fill="rgb(193,193,193)"/>
<rect x="360.7" y="249.1" width="1" height="1" fill="rgb(188,188,188)"/>
<rect x="364.0" y="252.0" width="1" height="1" fill="rgb(198,198,198)"/>
<rect x="362.3" y="252.6" width="1" height="1" fill="rgb(214,214,214)"/>
<rect x="356.4" y="252.1" width="1" height="1" fill="rgb(193,193,193)"/>
<rect x="357.6" y="270.2" width="1" height="1" fill="rgb(174,174,174)"/>
<rect x="359.9" y="267.0" width="1" height="1" fill="rgb(208,208,208)"/>
<rect x="355.3" y="265.2" width="1" height="1" fill="rgb(215,215,215)"/>
<rect x="361.9" y="269.7" width="1" height="1" fill="rgb(211,211,211)"/>
<rect x="362.3" y="272.3" width="1" height="1" fill="rgb(217,217,217)"/>
<rect x="354.3" y="263.2" width="1" height="1" fill="rgb(195,195,195)"/>
<rect x="363.8" y="263.6" width="1" height="1" fill="rgb(191,191,191)"/>
<rect x="352.3" y="270.1" width="1" height="1" fill="rgb(191,191,191)"/>
<rect x="355.7" y="269.6" width="1" height="1" fill="rgb(179,179,179)"/>
<rect x="350.9" y="267.3" width="1" height="1" fill="rgb(212,212,212)"/>
<rect x="362.4" y="266.9" width="1" height="1" fill="rgb(183,183,183)"/>
<rect x="356.8" y="268.9" width="1" height="1" fill="rgb(196,196,196)"/>
<rect x="358.4" y="268.1" width="1" height="1" fill="rgb(206,206,206)"/>
<rect x="354.1" y="264.6" width="1" height="1" fill="rgb(195,195,195)"/>
<rect x="360.2" y="272.7" width="1" height="1" fill="rgb(213,213,213)"/>
<rect x="360.7" y="262.4" width="1" height="1" fill="rgb(179,179,179)"/>
<rect x="360.0" y="273.8" width="1" height="1" fill="rgb(185,185,185)"/>
<rect x="345.2" y="268.0" width="1" height="1" fill="rgb(172,172,172)"/>
<rect x="357.5" y="262.4" width="1" height="1" fill="rgb(211,211,211)"/>
<rect x="354.4" y="269.7" width="1" height="1" fill="rgb(211,211,211)"/>
<rect x="355.3" y="263.5" width="1" height="1" fill="rgb(209,209,209)"/>
<rect x="365.5" y="265.1" width="1" height="1" fill="rgb(208,208,208)"/>
<rect x="352.3" y="265.8" width="1" height="1" fill="rgb(208,208,208)"/>
<rect x="359.0" y="270.1" width="1" height="1" fill="rgb(176,176,176)"/>
<rect x="353.0" y="271.0" width="1" height="1" fill="rgb(175,175,175)"/>
<rect x="352.1" y="271.6" width="1" height="1" fill="rgb(174,174,174)"/>
<rect x="368.7" y="273.2" width="1" height="1" fill="rgb(183,183,183)"/>
<rect x="366.5" y="268.1" width="1" height="1" fill="rgb(178,178,178)"/>
<rect x="351.3" y="269.2" width="1" height="1" fill="rgb(198,198,198)"/>
<rect x="351.2" y="265.8" width="1" height="1" fill="rgb(172,172,172)"/>
<rect x="368.9" y="269.4" width="1" height="1" fill="rgb(177,177,177)"/>
<rect x="353.0" y="268.3" width="1" height="1" fill="rgb(191,191,191)"/>
<rect x="365.2" y="267.2" width="1" height="1" fill="rgb(184,184,184)"/>
<rect x="360.1" y="273.2" width="1" height="1" fill="rgb(183,183,183)"/>
<rect x="354.8" y="275.9" width="1" height="1" fill="rgb(206,206,206)"/>
<rect x="356.5" y="267.8" width="1" height="1" fill="rgb(181,181,181)"/>
<rect x="365.0" y="268.6" width="1" height="1" fill="rgb(197,197,197)"/>
<rect x="347.5" y="273.3" width="1" height="1" fill="rgb(187,187,187)"/>
<rect x="356.7" y="264.1" width="1" height="1" fill="rgb(195,195,195)"/>
<rect x="346.5" y="272.7" width="1" height="1" fill="rgb(196,196,196)"/>
<rect x="359.8" y="274.0" width="1" height="1" fill="rgb(173,173,173)"/>
<rect x="363.1" y="260.8" width="1" height="1" fill="rgb(191,191,191)"/>
<rect x="355.5" y="266.1" width="1" height="1" fill="rgb(211,211,211)"/>
<rect x="354.8" y="268.2" width="1" height="1" fill="rgb(199,199,199)"/>
<rect x="370.1" y="266.8" width="1" height="1" fill="rgb(209,209,209)"/>
<rect x="381.6" y="268.5" width="1" height="1" fill="rgb(182,182,182)"/>
<rect x="388.3" y="268.8" width="1" height="1" fill="rgb(218,218,218)"/>
<rect x="388.8" y="271.1" width="1" height="1" fill="rgb(203,203,203)"/>
<rect x="394.6" y="268.4" width="1" height="1" fill="rgb(215,215,215)"/>
<rect x="385.6" y="264.6" width="1" height="1" fill="rgb(182,182,182)"/>
<rect x="378.8" y="266.9" width="1" height="1" fill="rgb(188,188,188)"/>
<rect x="385.8" y="263.1" width="1" height="1" fill="rgb(217,217,217)"/>
<rect x="384.6" y="264.9" width="1" height="1" fill="rgb(174,174,174)"/>
<rect x="382.8" y="269.7" width="1" height="1" fill="rgb(211,211,211)"/>
<rect x="384.8" y="265.2" width="1" height="1" fill="rgb(186,186,186)"/>
<rect x="379.4" y="267.0" width="1" height="1" fill="rgb(206,206,206)"/>
<rect x="375.6" y="263.4" width="1" height="1" fill="rgb(189,189,189)"/>
<rect x="392.5" y="270.0" width="1" height="1" fill="rgb(214,214,214)"/>
<rect x="379.4" y="271.4" width="1" height="1" fill="rgb(215,215,215)"/>
<rect x="383.8" y="268.3" width="1" height="1" fill="rgb(176,176,176)"/>
<rect x="389.0" y="266.5" width="1" height="1" fill="rgb(200,200,200)"/>
<rect x="383.9" y="268.1" width="1" height="1" fill="rgb(191,191,191)"/>
<rect x="387.6" y="265.8" width="1" height="1" fill="rgb(178,178,178)"/>
<rect x="389.6" y="266.0" width="1" height="1" fill="rgb(186,186,186)"/>
<rect x="382.6" y="267.9" width="1" height="1" fill="rgb(186,186,186)"/>
<rect x="379.5" y="264.1" width="1" height="1" fill="rgb(182,182,182)"/>
<rect x="383.0" y="263.3" width="1" height="1" fill="rgb(203,203,203)"/>
<rect x="378.5" y="269.3" width="1" height="1" fill="rgb(194,194,194)"/>
<rect x="391.7" y="271.6" width="1" height="1" fill="rgb(197,197,197)"/>
<rect x="386.5" y="268.2" width="1" height="1" fill="rgb(183,183,183)"/>
<rect x="385.1" y="265.6" width="1" height="1" fill="rgb(171,171,171)"/>
<rect x="395.4" y="268.2" width="1" height="1" fill="rgb(175,175,175)"/>
<rect x="384.6" y="268.1" width="1" height="1" fill="rgb(206,206,206)"/>
<rect x="384.1" y="267.8" width="1" height="1" fill="rgb(190,190,190)"/>
<rect x="382.6" y="270.2" width="1" height="1" fill="rgb(199,199,199)"/>
</g>
<rect x="340.60" y="233.30" width="63.50" height="61.60" fill="none" stroke="#111" stroke-width="1.1"/>
<line x1="372.80" y1="233.30" x2="372.80" y2="294.90" stroke="#111" stroke-width="1.1"/>
<line x1="340.60" y1="264.00" x2="404.10" y2="264.00" stroke="#111" stroke-width="1.1"/>
<text x="356.00" y="227.30" font-size="13" text-anchor="start" stroke="#000" stroke-width="0.28" textLength="34.60" lengthAdjust="spacingAndGlyphs" fill="#000">Day 7</text>
<text x="341.80" y="243.80" font-size="9.2" text-anchor="start" stroke="#000" stroke-width="0.28" textLength="26.20" lengthAdjust="spacingAndGlyphs" fill="#000">5.4x10</text>
<text x="368.30" y="239.20" font-size="4.4" text-anchor="start" stroke="#555" stroke-width="0.28" fill="#555">3</text>
<text x="374.00" y="243.80" font-size="9.2" text-anchor="start" stroke="#000" stroke-width="0.28" textLength="26.20" lengthAdjust="spacingAndGlyphs" fill="#000">4.0x10</text>
<text x="400.50" y="239.20" font-size="4.4" text-anchor="start" stroke="#555" stroke-width="0.28" fill="#555">3</text>
<line x1="338.80" y1="294.90" x2="340.60" y2="294.90" stroke="#111" stroke-width="0.9"/>
<line x1="340.60" y1="294.90" x2="340.60" y2="296.70" stroke="#111" stroke-width="0.9"/>
<line x1="338.80" y1="279.50" x2="340.60" y2="279.50" stroke="#111" stroke-width="0.9"/>
<line x1="356.48" y1="294.90" x2="356.48" y2="296.70" stroke="#111" stroke-width="0.9"/>
<line x1="338.80" y1="264.10" x2="340.60" y2="264.10" stroke="#111" stroke-width="0.9"/>
<line x1="372.35" y1="294.90" x2="372.35" y2="296.70" stroke="#111" stroke-width="0.9"/>
<line x1="338.80" y1="248.70" x2="340.60" y2="248.70" stroke="#111" stroke-width="0.9"/>
<line x1="388.23" y1="294.90" x2="388.23" y2="296.70" stroke="#111" stroke-width="0.9"/>
<line x1="338.80" y1="233.30" x2="340.60" y2="233.30" stroke="#111" stroke-width="0.9"/>
<line x1="404.10" y1="294.90" x2="404.10" y2="296.70" stroke="#111" stroke-width="0.9"/>
<line x1="339.50" y1="290.26" x2="340.60" y2="290.26" stroke="#333" stroke-width="0.6"/>
<line x1="345.38" y1="294.90" x2="345.38" y2="296.00" stroke="#333" stroke-width="0.6"/>
<line x1="339.50" y1="287.55" x2="340.60" y2="287.55" stroke="#333" stroke-width="0.6"/>
<line x1="348.17" y1="294.90" x2="348.17" y2="296.00" stroke="#333" stroke-width="0.6"/>
<line x1="339.50" y1="285.63" x2="340.60" y2="285.63" stroke="#333" stroke-width="0.6"/>
<line x1="350.16" y1="294.90" x2="350.16" y2="296.00" stroke="#333" stroke-width="0.6"/>
<line x1="339.50" y1="284.14" x2="340.60" y2="284.14" stroke="#333" stroke-width="0.6"/>
<line x1="351.70" y1="294.90" x2="351.70" y2="296.00" stroke="#333" stroke-width="0.6"/>
<line x1="339.50" y1="282.92" x2="340.60" y2="282.92" stroke="#333" stroke-width="0.6"/>
<line x1="352.95" y1="294.90" x2="352.95" y2="296.00" stroke="#333" stroke-width="0.6"/>
<line x1="339.50" y1="281.89" x2="340.60" y2="281.89" stroke="#333" stroke-width="0.6"/>
<line x1="354.02" y1="294.90" x2="354.02" y2="296.00" stroke="#333" stroke-width="0.6"/>
<line x1="339.50" y1="280.99" x2="340.60" y2="280.99" stroke="#333" stroke-width="0.6"/>
<line x1="354.94" y1="294.90" x2="354.94" y2="296.00" stroke="#333" stroke-width="0.6"/>
<line x1="339.50" y1="280.20" x2="340.60" y2="280.20" stroke="#333" stroke-width="0.6"/>
<line x1="355.75" y1="294.90" x2="355.75" y2="296.00" stroke="#333" stroke-width="0.6"/>
<line x1="339.50" y1="274.86" x2="340.60" y2="274.86" stroke="#333" stroke-width="0.6"/>
<line x1="361.25" y1="294.90" x2="361.25" y2="296.00" stroke="#333" stroke-width="0.6"/>
<line x1="339.50" y1="272.15" x2="340.60" y2="272.15" stroke="#333" stroke-width="0.6"/>
<line x1="364.05" y1="294.90" x2="364.05" y2="296.00" stroke="#333" stroke-width="0.6"/>
<line x1="339.50" y1="270.23" x2="340.60" y2="270.23" stroke="#333" stroke-width="0.6"/>
<line x1="366.03" y1="294.90" x2="366.03" y2="296.00" stroke="#333" stroke-width="0.6"/>
<line x1="339.50" y1="268.74" x2="340.60" y2="268.74" stroke="#333" stroke-width="0.6"/>
<line x1="367.57" y1="294.90" x2="367.57" y2="296.00" stroke="#333" stroke-width="0.6"/>
<line x1="339.50" y1="267.52" x2="340.60" y2="267.52" stroke="#333" stroke-width="0.6"/>
<line x1="368.83" y1="294.90" x2="368.83" y2="296.00" stroke="#333" stroke-width="0.6"/>
<line x1="339.50" y1="266.49" x2="340.60" y2="266.49" stroke="#333" stroke-width="0.6"/>
<line x1="369.89" y1="294.90" x2="369.89" y2="296.00" stroke="#333" stroke-width="0.6"/>
<line x1="339.50" y1="265.59" x2="340.60" y2="265.59" stroke="#333" stroke-width="0.6"/>
<line x1="370.81" y1="294.90" x2="370.81" y2="296.00" stroke="#333" stroke-width="0.6"/>
<line x1="339.50" y1="264.80" x2="340.60" y2="264.80" stroke="#333" stroke-width="0.6"/>
<line x1="371.62" y1="294.90" x2="371.62" y2="296.00" stroke="#333" stroke-width="0.6"/>
<line x1="339.50" y1="259.46" x2="340.60" y2="259.46" stroke="#333" stroke-width="0.6"/>
<line x1="377.13" y1="294.90" x2="377.13" y2="296.00" stroke="#333" stroke-width="0.6"/>
<line x1="339.50" y1="256.75" x2="340.60" y2="256.75" stroke="#333" stroke-width="0.6"/>
<line x1="379.92" y1="294.90" x2="379.92" y2="296.00" stroke="#333" stroke-width="0.6"/>
<line x1="339.50" y1="254.83" x2="340.60" y2="254.83" stroke="#333" stroke-width="0.6"/>
<line x1="381.91" y1="294.90" x2="381.91" y2="296.00" stroke="#333" stroke-width="0.6"/>
<line x1="339.50" y1="253.34" x2="340.60" y2="253.34" stroke="#333" stroke-width="0.6"/>
<line x1="383.45" y1="294.90" x2="383.45" y2="296.00" stroke="#333" stroke-width="0.6"/>
<line x1="339.50" y1="252.12" x2="340.60" y2="252.12" stroke="#333" stroke-width="0.6"/>
<line x1="384.70" y1="294.90" x2="384.70" y2="296.00" stroke="#333" stroke-width="0.6"/>
<line x1="339.50" y1="251.09" x2="340.60" y2="251.09" stroke="#333" stroke-width="0.6"/>
<line x1="385.77" y1="294.90" x2="385.77" y2="296.00" stroke="#333" stroke-width="0.6"/>
<line x1="339.50" y1="250.19" x2="340.60" y2="250.19" stroke="#333" stroke-width="0.6"/>
<line x1="386.69" y1="294.90" x2="386.69" y2="296.00" stroke="#333" stroke-width="0.6"/>
<line x1="339.50" y1="249.40" x2="340.60" y2="249.40" stroke="#333" stroke-width="0.6"/>
<line x1="387.50" y1="294.90" x2="387.50" y2="296.00" stroke="#333" stroke-width="0.6"/>
<line x1="339.50" y1="244.06" x2="340.60" y2="244.06" stroke="#333" stroke-width="0.6"/>
<line x1="393.00" y1="294.90" x2="393.00" y2="296.00" stroke="#333" stroke-width="0.6"/>
<line x1="339.50" y1="241.35" x2="340.60" y2="241.35" stroke="#333" stroke-width="0.6"/>
<line x1="395.80" y1="294.90" x2="395.80" y2="296.00" stroke="#333" stroke-width="0.6"/>
<line x1="339.50" y1="239.43" x2="340.60" y2="239.43" stroke="#333" stroke-width="0.6"/>
<line x1="397.78" y1="294.90" x2="397.78" y2="296.00" stroke="#333" stroke-width="0.6"/>
<line x1="339.50" y1="237.94" x2="340.60" y2="237.94" stroke="#333" stroke-width="0.6"/>
<line x1="399.32" y1="294.90" x2="399.32" y2="296.00" stroke="#333" stroke-width="0.6"/>
<line x1="339.50" y1="236.72" x2="340.60" y2="236.72" stroke="#333" stroke-width="0.6"/>
<line x1="400.58" y1="294.90" x2="400.58" y2="296.00" stroke="#333" stroke-width="0.6"/>
<line x1="339.50" y1="235.69" x2="340.60" y2="235.69" stroke="#333" stroke-width="0.6"/>
<line x1="401.64" y1="294.90" x2="401.64" y2="296.00" stroke="#333" stroke-width="0.6"/>
<line x1="339.50" y1="234.79" x2="340.60" y2="234.79" stroke="#333" stroke-width="0.6"/>
<line x1="402.56" y1="294.90" x2="402.56" y2="296.00" stroke="#333" stroke-width="0.6"/>
<line x1="339.50" y1="234.00" x2="340.60" y2="234.00" stroke="#333" stroke-width="0.6"/>
<line x1="403.37" y1="294.90" x2="403.37" y2="296.00" stroke="#333" stroke-width="0.6"/>
<text transform="translate(335.70,298.50) rotate(-90)" font-size="8" text-anchor="start" font-weight="bold" stroke="#000" stroke-width="0.28" textLength="6.60" lengthAdjust="spacingAndGlyphs" fill="#000">10</text>
<text transform="translate(331.20,291.80) rotate(-90)" font-size="5.8" text-anchor="start" font-weight="bold" stroke="#000" stroke-width="0.28" fill="#000">0</text>
<text transform="translate(335.70,283.10) rotate(-90)" font-size="8" text-anchor="start" font-weight="bold" stroke="#000" stroke-width="0.28" textLength="6.60" lengthAdjust="spacingAndGlyphs" fill="#000">10</text>
<text transform="translate(331.20,276.40) rotate(-90)" font-size="5.8" text-anchor="start" font-weight="bold" stroke="#000" stroke-width="0.28" fill="#000">1</text>
<text transform="translate(335.70,267.70) rotate(-90)" font-size="8" text-anchor="start" font-weight="bold" stroke="#000" stroke-width="0.28" textLength="6.60" lengthAdjust="spacingAndGlyphs" fill="#000">10</text>
<text transform="translate(331.20,261.00) rotate(-90)" font-size="5.8" text-anchor="start" font-weight="bold" stroke="#000" stroke-width="0.28" fill="#000">2</text>
<text transform="translate(335.70,252.30) rotate(-90)" font-size="8" text-anchor="start" font-weight="bold" stroke="#000" stroke-width="0.28" textLength="6.60" lengthAdjust="spacingAndGlyphs" fill="#000">10</text>
<text transform="translate(331.20,245.60) rotate(-90)" font-size="5.8" text-anchor="start" font-weight="bold" stroke="#000" stroke-width="0.28" fill="#000">3</text>
<text transform="translate(335.70,236.90) rotate(-90)" font-size="8" text-anchor="start" font-weight="bold" stroke="#000" stroke-width="0.28" textLength="6.60" lengthAdjust="spacingAndGlyphs" fill="#000">10</text>
<text transform="translate(331.20,230.20) rotate(-90)" font-size="5.8" text-anchor="start" font-weight="bold" stroke="#000" stroke-width="0.28" fill="#000">4</text>
<text x="337.70" y="306.40" font-size="7.5" text-anchor="start" font-weight="bold" stroke="#000" stroke-width="0.28" textLength="8.30" lengthAdjust="spacingAndGlyphs" fill="#000">10</text>
<text x="345.80" y="301.50" font-size="5.2" text-anchor="start" font-weight="bold" stroke="#000" stroke-width="0.28" fill="#000">0</text>
<text x="353.58" y="306.40" font-size="7.5" text-anchor="start" font-weight="bold" stroke="#000" stroke-width="0.28" textLength="8.30" lengthAdjust="spacingAndGlyphs" fill="#000">10</text>
<text x="361.68" y="301.50" font-size="5.2" text-anchor="start" font-weight="bold" stroke="#000" stroke-width="0.28" fill="#000">1</text>
<text x="369.45" y="306.40" font-size="7.5" text-anchor="start" font-weight="bold" stroke="#000" stroke-width="0.28" textLength="8.30" lengthAdjust="spacingAndGlyphs" fill="#000">10</text>
<text x="377.55" y="301.50" font-size="5.2" text-anchor="start" font-weight="bold" stroke="#000" stroke-width="0.28" fill="#000">2</text>
<text x="385.33" y="306.40" font-size="7.5" text-anchor="start" font-weight="bold" stroke="#000" stroke-width="0.28" textLength="8.30" lengthAdjust="spacingAndGlyphs" fill="#000">10</text>
<text x="393.43" y="301.50" font-size="5.2" text-anchor="start" font-weight="bold" stroke="#000" stroke-width="0.28" fill="#000">3</text>
<text x="401.20" y="306.40" font-size="7.5" text-anchor="start" font-weight="bold" stroke="#000" stroke-width="0.28" textLength="8.30" lengthAdjust="spacingAndGlyphs" fill="#000">10</text>
<text x="409.30" y="301.50" font-size="5.2" text-anchor="start" font-weight="bold" stroke="#000" stroke-width="0.28" fill="#000">4</text>
<text x="363.30" y="313.80" font-size="8.2" text-anchor="start" font-weight="bold" stroke="#000" stroke-width="0.28" textLength="19.30" lengthAdjust="spacingAndGlyphs" fill="#000">FL4-H</text>
<text transform="translate(325.40,274.80) rotate(-90)" font-size="6" text-anchor="start" font-weight="bold" stroke="#000" stroke-width="0.28" textLength="19.80" lengthAdjust="spacingAndGlyphs" fill="#000">FL2-H</text>
<g filter="url(#bl)">
<rect x="479.9" y="254.5" width="1" height="1" fill="rgb(183,183,183)"/>
<rect x="490.4" y="249.8" width="1" height="1" fill="rgb(192,192,192)"/>
<rect x="485.3" y="253.1" width="1" height="1" fill="rgb(207,207,207)"/>
<rect x="495.6" y="239.9" width="1" height="1" fill="rgb(198,198,198)"/>
<rect x="480.6" y="255.2" width="1" height="1" fill="rgb(210,210,210)"/>
<rect x="482.6" y="243.4" width="1" height="1" fill="rgb(218,218,218)"/>
<rect x="494.3" y="251.1" width="1" height="1" fill="rgb(173,173,173)"/>
<rect x="489.0" y="248.1" width="1" height="1" fill="rgb(211,211,211)"/>
<rect x="483.3" y="246.1" width="1" height="1" fill="rgb(185,185,185)"/>
<rect x="485.8" y="246.4" width="1" height="1" fill="rgb(200,200,200)"/>
<rect x="485.0" y="250.4" width="1" height="1" fill="rgb(201,201,201)"/>
<rect x="485.5" y="250.6" width="1" height="1" fill="rgb(185,185,185)"/>
<rect x="490.2" y="240.6" width="1" height="1" fill="rgb(170,170,170)"/>
<rect x="480.1" y="258.8" width="1" height="1" fill="rgb(184,184,184)"/>
<rect x="481.5" y="247.6" width="1" height="1" fill="rgb(172,172,172)"/>
<rect x="487.5" y="260.8" width="1" height="1" fill="rgb(182,182,182)"/>
<rect x="487.5" y="249.6" width="1" height="1" fill="rgb(173,173,173)"/>
<rect x="477.3" y="261.2" width="1" height="1" fill="rgb(184,184,184)"/>
<rect x="487.2" y="249.5" width="1" height="1" fill="rgb(205,205,205)"/>
<rect x="479.8" y="246.0" width="1" height="1" fill="rgb(186,186,186)"/>
<rect x="492.4" y="250.2" width="1" height="1" fill="rgb(200,200,200)"/>
<rect x="487.1" y="248.8" width="1" height="1" fill="rgb(215,215,215)"/>
<rect x="489.3" y="251.5" width="1" height="1" fill="rgb(203,203,203)"/>
<rect x="490.1" y="254.4" width="1" height="1" fill="rgb(176,176,176)"/>
<rect x="474.5" y="255.3" width="1" height="1" fill="rgb(194,194,194)"/>
<rect x="487.3" y="250.7" width="1" height="1" fill="rgb(171,171,171)"/>
<rect x="478.3" y="251.6" width="1" height="1" fill="rgb(202,202,202)"/>
<rect x="480.6" y="251.2" width="1" height="1" fill="rgb(204,204,204)"/>
<rect x="488.5" y="251.1" width="1" height="1" fill="rgb(204,204,204)"/>
<rect x="482.9" y="249.3" width="1" height="1" fill="rgb(212,212,212)"/>
<rect x="495.3" y="248.1" width="1" height="1" fill="rgb(171,171,171)"/>
<rect x="489.3" y="255.1" width="1" height="1" fill="rgb(199,199,199)"/>
<rect x="489.0" y="257.1" width="1" height="1" fill="rgb(217,217,217)"/>
<rect x="488.4" y="255.1" width="1" height="1" fill="rgb(177,177,177)"/>
<rect x="485.4" y="250.4" width="1" height="1" fill="rgb(203,203,203)"/>
<rect x="485.7" y="253.2" width="1" height="1" fill="rgb(216,216,216)"/>
<rect x="487.7" y="260.2" width="1" height="1" fill="rgb(176,176,176)"/>
<rect x="490.4" y="251.6" width="1" height="1" fill="rgb(189,189,189)"/>
<rect x="487.2" y="248.3" width="1" height="1" fill="rgb(208,208,208)"/>
<rect x="483.0" y="250.7" width="1" height="1" fill="rgb(182,182,182)"/>
<rect x="489.0" y="250.3" width="1" height="1" fill="rgb(177,177,177)"/>
<rect x="483.5" y="245.3" width="1" height="1" fill="rgb(183,183,183)"/>
<rect x="481.5" y="252.6" width="1" height="1" fill="rgb(196,196,196)"/>
<rect x="492.8" y="245.9" width="1" height="1" fill="rgb(183,183,183)"/>
<rect x="494.0" y="244.5" width="1" height="1" fill="rgb(175,175,175)"/>
<rect x="495.1" y="243.2" width="1" height="1" fill="rgb(215,215,215)"/>
<rect x="486.0" y="244.6" width="1" height="1" fill="rgb(178,178,178)"/>
<rect x="490.1" y="245.8" width="1" height="1" fill="rgb(173,173,173)"/>
<rect x="492.1" y="258.9" width="1" height="1" fill="rgb(198,198,198)"/>
<rect x="486.9" y="253.5" width="1" height="1" fill="rgb(189,189,189)"/>
<rect x="487.7" y="249.8" width="1" height="1" fill="rgb(194,194,194)"/>
<rect x="491.5" y="252.0" width="1" height="1" fill="rgb(211,211,211)"/>
<rect x="483.8" y="248.0" width="1" height="1" fill="rgb(209,209,209)"/>
<rect x="495.3" y="235.1" width="1" height="1" fill="rgb(218,218,218)"/>
<rect x="482.9" y="260.0" width="1" height="1" fill="rgb(170,170,170)"/>
<rect x="486.1" y="251.8" width="1" height="1" fill="rgb(184,184,184)"/>
<rect x="482.5" y="251.6" width="1" height="1" fill="rgb(191,191,191)"/>
<rect x="495.6" y="247.7" width="1" height="1" fill="rgb(185,185,185)"/>
<rect x="493.8" y="243.1" width="1" height="1" fill="rgb(204,204,204)"/>
<rect x="487.7" y="251.8" width="1" height="1" fill="rgb(190,190,190)"/>
<rect x="483.0" y="254.5" width="1" height="1" fill="rgb(174,174,174)"/>
<rect x="474.4" y="253.3" width="1" height="1" fill="rgb(180,180,180)"/>
<rect x="487.4" y="252.3" width="1" height="1" fill="rgb(212,212,212)"/>
<rect x="475.6" y="253.0" width="1" height="1" fill="rgb(196,196,196)"/>
<rect x="492.5" y="246.5" width="1" height="1" fill="rgb(210,210,210)"/>
<rect x="489.9" y="251.5" width="1" height="1" fill="rgb(188,188,188)"/>
<rect x="487.3" y="241.3" width="1" height="1" fill="rgb(215,215,215)"/>
<rect x="486.5" y="258.5" width="1" height="1" fill="rgb(181,181,181)"/>
<rect x="481.7" y="249.1" width="1" height="1" fill="rgb(180,180,180)"/>
<rect x="484.0" y="245.1" width="1" height="1" fill="rgb(218,218,218)"/>
<rect x="483.5" y="255.1" width="1" height="1" fill="rgb(171,171,171)"/>
<rect x="495.4" y="252.6" width="1" height="1" fill="rgb(211,211,211)"/>
<rect x="486.2" y="263.1" width="1" height="1" fill="rgb(211,211,211)"/>
<rect x="486.8" y="248.5" width="1" height="1" fill="rgb(174,174,174)"/>
<rect x="480.7" y="249.4" width="1" height="1" fill="rgb(189,189,189)"/>
<rect x="494.1" y="251.6" width="1" height="1" fill="rgb(204,204,204)"/>
<rect x="491.7" y="249.5" width="1" height="1" fill="rgb(179,179,179)"/>
<rect x="479.5" y="251.4" width="1" height="1" fill="rgb(211,211,211)"/>
<rect x="494.5" y="246.7" width="1" height="1" fill="rgb(187,187,187)"/>
<rect x="491.8" y="246.7" width="1" height="1" fill="rgb(176,176,176)"/>
<rect x="486.8" y="255.7" width="1" height="1" fill="rgb(214,214,214)"/>
<rect x="485.0" y="247.2" width="1" height="1" fill="rgb(216,216,216)"/>
<rect x="494.2" y="241.8" width="1" height="1" fill="rgb(199,199,199)"/>
<rect x="481.8" y="260.3" width="1" height="1" fill="rgb(171,171,171)"/>
<rect x="480.3" y="258.9" width="1" height="1" fill="rgb(176,176,176)"/>
<rect x="492.5" y="242.3" width="1" height="1" fill="rgb(212,212,212)"/>
<rect x="483.4" y="257.9" width="1" height="1" fill="rgb(182,182,182)"/>
<rect x="488.9" y="251.1" width="1" height="1" fill="rgb(212,212,212)"/>
<rect x="484.7" y="248.5" width="1" height="1" fill="rgb(186,186,186)"/>
<rect x="488.2" y="252.8" width="1" height="1" fill="rgb(176,176,176)"/>
<rect x="487.9" y="249.3" width="1" height="1" fill="rgb(186,186,186)"/>
<rect x="483.3" y="247.6" width="1" height="1" fill="rgb(184,184,184)"/>
<rect x="490.9" y="250.9" width="1" height="1" fill="rgb(187,187,187)"/>
<rect x="488.6" y="248.4" width="1" height="1" fill="rgb(192,192,192)"/>
<rect x="481.8" y="258.6" width="1" height="1" fill="rgb(178,178,178)"/>
<rect x="481.4" y="258.7" width="1" height="1" fill="rgb(193,193,193)"/>
<rect x="482.9" y="256.8" width="1" height="1" fill="rgb(177,177,177)"/>
<rect x="494.6" y="240.7" width="1" height="1" fill="rgb(180,180,180)"/>
<rect x="485.9" y="255.8" width="1" height="1" fill="rgb(218,218,218)"/>
<rect x="494.1" y="249.4" width="1" height="1" fill="rgb(184,184,184)"/>
<rect x="487.8" y="241.7" width="1" height="1" fill="rgb(185,185,185)"/>
<rect x="483.4" y="248.4" width="1" height="1" fill="rgb(170,170,170)"/>
<rect x="494.0" y="250.3" width="1" height="1" fill="rgb(193,193,193)"/>
<rect x="487.1" y="252.1" width="1" height="1" fill="rgb(198,198,198)"/>
<rect x="484.6" y="252.1" width="1" height="1" fill="rgb(205,205,205)"/>
<rect x="486.5" y="249.2" width="1" height="1" fill="rgb(177,177,177)"/>
<rect x="475.7" y="256.5" width="1" height="1" fill="rgb(184,184,184)"/>
<rect x="485.4" y="252.4" width="1" height="1" fill="rgb(182,182,182)"/>
<rect x="491.3" y="251.1" width="1" height="1" fill="rgb(200,200,200)"/>
<rect x="487.3" y="255.0" width="1" height="1" fill="rgb(173,173,173)"/>
<rect x="490.2" y="251.1" width="1" height="1" fill="rgb(217,217,217)"/>
<rect x="488.5" y="256.6" width="1" height="1" fill="rgb(194,194,194)"/>
<rect x="496.2" y="254.3" width="1" height="1" fill="rgb(203,203,203)"/>
<rect x="492.7" y="250.6" width="1" height="1" fill="rgb(202,202,202)"/>
<rect x="489.3" y="247.7" width="1" height="1" fill="rgb(175,175,175)"/>
<rect x="481.4" y="254.0" width="1" height="1" fill="rgb(199,199,199)"/>
<rect x="487.6" y="248.4" width="1" height="1" fill="rgb(198,198,198)"/>
<rect x="485.5" y="250.1" width="1" height="1" fill="rgb(187,187,187)"/>
<rect x="484.5" y="248.3" width="1" height="1" fill="rgb(177,177,177)"/>
<rect x="485.4" y="246.7" width="1" height="1" fill="rgb(186,186,186)"/>
<rect x="487.3" y="251.5" width="1" height="1" fill="rgb(211,211,211)"/>
<rect x="491.1" y="240.2" width="1" height="1" fill="rgb(211,211,211)"/>
<rect x="478.9" y="255.6" width="1" height="1" fill="rgb(204,204,204)"/>
<rect x="481.9" y="246.7" width="1" height="1" fill="rgb(212,212,212)"/>
<rect x="481.3" y="249.2" width="1" height="1" fill="rgb(179,179,179)"/>
<rect x="479.1" y="260.4" width="1" height="1" fill="rgb(190,190,190)"/>
<rect x="486.4" y="242.2" width="1" height="1" fill="rgb(193,193,193)"/>
<rect x="483.0" y="247.1" width="1" height="1" fill="rgb(214,214,214)"/>
<rect x="488.0" y="256.7" width="1" height="1" fill="rgb(216,216,216)"/>
<rect x="490.0" y="251.4" width="1" height="1" fill="rgb(172,172,172)"/>
<rect x="484.0" y="264.4" width="1" height="1" fill="rgb(182,182,182)"/>
<rect x="485.5" y="255.3" width="1" height="1" fill="rgb(182,182,182)"/>
<rect x="491.7" y="247.4" width="1" height="1" fill="rgb(213,213,213)"/>
<rect x="489.4" y="253.8" width="1" height="1" fill="rgb(200,200,200)"/>
<rect x="487.6" y="255.9" width="1" height="1" fill="rgb(202,202,202)"/>
<rect x="492.0" y="243.0" width="1" height="1" fill="rgb(213,213,213)"/>
<rect x="494.0" y="247.9" width="1" height="1" fill="rgb(183,183,183)"/>
<rect x="489.0" y="255.0" width="1" height="1" fill="rgb(189,189,189)"/>
<rect x="492.5" y="248.8" width="1" height="1" fill="rgb(184,184,184)"/>
<rect x="495.3" y="246.5" width="1" height="1" fill="rgb(172,172,172)"/>
<rect x="483.2" y="254.8" width="1" height="1" fill="rgb(212,212,212)"/>
<rect x="485.3" y="245.9" width="1" height="1" fill="rgb(180,180,180)"/>
<rect x="487.7" y="259.4" width="1" height="1" fill="rgb(179,179,179)"/>
<rect x="484.0" y="250.0" width="1" height="1" fill="rgb(199,199,199)"/>
<rect x="480.8" y="254.4" width="1" height="1" fill="rgb(194,194,194)"/>
<rect x="489.4" y="252.6" width="1" height="1" fill="rgb(177,177,177)"/>
<rect x="486.2" y="256.0" width="1" height="1" fill="rgb(178,178,178)"/>
<rect x="489.7" y="249.9" width="1" height="1" fill="rgb(190,190,190)"/>
<rect x="488.3" y="249.5" width="1" height="1" fill="rgb(184,184,184)"/>
<rect x="485.2" y="252.6" width="1" height="1" fill="rgb(198,198,198)"/>
<rect x="488.0" y="247.2" width="1" height="1" fill="rgb(206,206,206)"/>
<rect x="481.8" y="245.4" width="1" height="1" fill="rgb(217,217,217)"/>
<rect x="485.6" y="262.4" width="1" height="1" fill="rgb(196,196,196)"/>
<rect x="491.4" y="252.0" width="1" height="1" fill="rgb(176,176,176)"/>
<rect x="497.6" y="244.7" width="1" height="1" fill="rgb(174,174,174)"/>
<rect x="483.8" y="263.9" width="1" height="1" fill="rgb(178,178,178)"/>
<rect x="481.6" y="255.9" width="1" height="1" fill="rgb(189,189,189)"/>
<rect x="489.6" y="243.7" width="1" height="1" fill="rgb(202,202,202)"/>
<rect x="482.3" y="250.4" width="1" height="1" fill="rgb(201,201,201)"/>
<rect x="483.4" y="247.3" width="1" height="1" fill="rgb(193,193,193)"/>
<rect x="497.3" y="239.9" width="1" height="1" fill="rgb(182,182,182)"/>
<rect x="480.8" y="255.9" width="1" height="1" fill="rgb(186,186,186)"/>
<rect x="484.1" y="250.9" width="1" height="1" fill="rgb(214,214,214)"/>
<rect x="493.9" y="246.5" width="1" height="1" fill="rgb(196,196,196)"/>
<rect x="482.9" y="256.8" width="1" height="1" fill="rgb(213,213,213)"/>
<rect x="490.4" y="243.2" width="1" height="1" fill="rgb(173,173,173)"/>
<rect x="483.0" y="249.0" width="1" height="1" fill="rgb(213,213,213)"/>
<rect x="481.7" y="262.2" width="1" height="1" fill="rgb(198,198,198)"/>
<rect x="479.6" y="255.0" width="1" height="1" fill="rgb(215,215,215)"/>
<rect x="497.1" y="244.3" width="1" height="1" fill="rgb(199,199,199)"/>
<rect x="495.5" y="245.5" width="1" height="1" fill="rgb(184,184,184)"/>
<rect x="489.1" y="249.9" width="1" height="1" fill="rgb(183,183,183)"/>
<rect x="482.1" y="251.7" width="1" height="1" fill="rgb(178,178,178)"/>
<rect x="489.9" y="247.9" width="1" height="1" fill="rgb(217,217,217)"/>
<rect x="485.7" y="247.2" width="1" height="1" fill="rgb(201,201,201)"/>
<rect x="487.3" y="248.5" width="1" height="1" fill="rgb(184,184,184)"/>
<rect x="480.4" y="246.4" width="1" height="1" fill="rgb(177,177,177)"/>
<rect x="489.6" y="250.5" width="1" height="1" fill="rgb(195,195,195)"/>
<rect x="481.6" y="248.8" width="1" height="1" fill="rgb(200,200,200)"/>
<rect x="476.6" y="249.7" width="1" height="1" fill="rgb(206,206,206)"/>
<rect x="482.6" y="251.7" width="1" height="1" fill="rgb(218,218,218)"/>
<rect x="484.1" y="253.2" width="1" height="1" fill="rgb(200,200,200)"/>
<rect x="484.4" y="245.6" width="1" height="1" fill="rgb(180,180,180)"/>
<rect x="485.0" y="253.2" width="1" height="1" fill="rgb(210,210,210)"/>
<rect x="488.0" y="241.9" width="1" height="1" fill="rgb(211,211,211)"/>
<rect x="488.1" y="253.9" width="1" height="1" fill="rgb(207,207,207)"/>
<rect x="490.2" y="249.1" width="1" height="1" fill="rgb(189,189,189)"/>
<rect x="485.2" y="249.5" width="1" height="1" fill="rgb(174,174,174)"/>
<rect x="479.2" y="248.8" width="1" height="1" fill="rgb(207,207,207)"/>
<rect x="497.2" y="249.7" width="1" height="1" fill="rgb(208,208,208)"/>
<rect x="479.2" y="252.5" width="1" height="1" fill="rgb(187,187,187)"/>
<rect x="495.8" y="249.0" width="1" height="1" fill="rgb(181,181,181)"/>
<rect x="490.2" y="251.5" width="1" height="1" fill="rgb(181,181,181)"/>
<rect x="487.5" y="254.4" width="1" height="1" fill="rgb(215,215,215)"/>
<rect x="487.8" y="247.4" width="1" height="1" fill="rgb(171,171,171)"/>
<rect x="495.8" y="254.5" width="1" height="1" fill="rgb(182,182,182)"/>
<rect x="489.7" y="253.3" width="1" height="1" fill="rgb(203,203,203)"/>
<rect x="484.6" y="255.1" width="1" height="1" fill="rgb(217,217,217)"/>
<rect x="483.2" y="253.0" width="1" height="1" fill="rgb(173,173,173)"/>
<rect x="490.5" y="248.0" width="1" height="1" fill="rgb(186,186,186)"/>
<rect x="492.9" y="252.1" width="1" height="1" fill="rgb(214,214,214)"/>
<rect x="489.6" y="249.5" width="1" height="1" fill="rgb(216,216,216)"/>
<rect x="484.2" y="256.9" width="1" height="1" fill="rgb(179,179,179)"/>
<rect x="491.3" y="259.0" width="1" height="1" fill="rgb(205,205,205)"/>
<rect x="489.8" y="242.7" width="1" height="1" fill="rgb(214,214,214)"/>
<rect x="483.3" y="254.3" width="1" height="1" fill="rgb(171,171,171)"/>
<rect x="488.2" y="258.7" width="1" height="1" fill="rgb(200,200,200)"/>
<rect x="492.5" y="252.2" width="1" height="1" fill="rgb(182,182,182)"/>
<rect x="488.5" y="245.6" width="1" height="1" fill="rgb(199,199,199)"/>
<rect x="487.9" y="247.4" width="1" height="1" fill="rgb(175,175,175)"/>
<rect x="489.6" y="245.4" width="1" height="1" fill="rgb(197,197,197)"/>
<rect x="489.1" y="252.4" width="1" height="1" fill="rgb(207,207,207)"/>
<rect x="489.0" y="258.8" width="1" height="1" fill="rgb(199,199,199)"/>
<rect x="487.2" y="254.5" width="1" height="1" fill="rgb(197,197,197)"/>
<rect x="482.6" y="252.2" width="1" height="1" fill="rgb(173,173,173)"/>
<rect x="494.9" y="249.3" width="1" height="1" fill="rgb(184,184,184)"/>
<rect x="483.6" y="252.1" width="1" height="1" fill="rgb(215,215,215)"/>
<rect x="484.5" y="246.1" width="1" height="1" fill="rgb(181,181,181)"/>
<rect x="488.2" y="254.3" width="1" height="1" fill="rgb(212,212,212)"/>
<rect x="489.1" y="248.7" width="1" height="1" fill="rgb(173,173,173)"/>
<rect x="488.3" y="258.3" width="1" height="1" fill="rgb(215,215,215)"/>
<rect x="484.3" y="240.8" width="1" height="1" fill="rgb(189,189,189)"/>
<rect x="482.2" y="256.3" width="1" height="1" fill="rgb(189,189,189)"/>
<rect x="493.4" y="250.6" width="1" height="1" fill="rgb(175,175,175)"/>
<rect x="485.8" y="255.4" width="1" height="1" fill="rgb(185,185,185)"/>
<rect x="493.7" y="256.9" width="1" height="1" fill="rgb(185,185,185)"/>
<rect x="483.8" y="253.0" width="1" height="1" fill="rgb(177,177,177)"/>
<rect x="488.7" y="243.2" width="1" height="1" fill="rgb(193,193,193)"/>
<rect x="484.8" y="247.1" width="1" height="1" fill="rgb(189,189,189)"/>
<rect x="487.4" y="248.7" width="1" height="1" fill="rgb(174,174,174)"/>
<rect x="483.2" y="249.1" width="1" height="1" fill="rgb(174,174,174)"/>
<rect x="486.9" y="257.9" width="1" height="1" fill="rgb(184,184,184)"/>
<rect x="477.7" y="257.5" width="1" height="1" fill="rgb(215,215,215)"/>
<rect x="480.2" y="257.2" width="1" height="1" fill="rgb(204,204,204)"/>
<rect x="476.2" y="258.8" width="1" height="1" fill="rgb(190,190,190)"/>
<rect x="485.3" y="250.2" width="1" height="1" fill="rgb(199,199,199)"/>
<rect x="496.6" y="252.6" width="1" height="1" fill="rgb(178,178,178)"/>
<rect x="489.2" y="248.8" width="1" height="1" fill="rgb(199,199,199)"/>
<rect x="486.5" y="250.1" width="1" height="1" fill="rgb(212,212,212)"/>
<rect x="494.6" y="251.2" width="1" height="1" fill="rgb(191,191,191)"/>
<rect x="485.0" y="252.5" width="1" height="1" fill="rgb(195,195,195)"/>
<rect x="484.4" y="245.2" width="1" height="1" fill="rgb(217,217,217)"/>
<rect x="490.9" y="250.6" width="1" height="1" fill="rgb(212,212,212)"/>
<rect x="488.6" y="252.0" width="1" height="1" fill="rgb(174,174,174)"/>
<rect x="483.3" y="260.2" width="1" height="1" fill="rgb(208,208,208)"/>
<rect x="488.5" y="248.0" width="1" height="1" fill="rgb(181,181,181)"/>
<rect x="480.1" y="259.2" width="1" height="1" fill="rgb(215,215,215)"/>
<rect x="485.7" y="253.5" width="1" height="1" fill="rgb(185,185,185)"/>
<rect x="480.9" y="255.0" width="1" height="1" fill="rgb(175,175,175)"/>
<rect x="486.5" y="258.7" width="1" height="1" fill="rgb(216,216,216)"/>
<rect x="491.7" y="246.2" width="1" height="1" fill="rgb(181,181,181)"/>
<rect x="483.7" y="250.0" width="1" height="1" fill="rgb(199,199,199)"/>
<rect x="484.4" y="254.0" width="1" height="1" fill="rgb(178,178,178)"/>
<rect x="486.9" y="240.8" width="1" height="1" fill="rgb(201,201,201)"/>
<rect x="494.2" y="253.4" width="1" height="1" fill="rgb(191,191,191)"/>
<rect x="487.4" y="249.8" width="1" height="1" fill="rgb(202,202,202)"/>
<rect x="472.0" y="259.7" width="1" height="1" fill="rgb(179,179,179)"/>
<rect x="493.8" y="247.3" width="1" height="1" fill="rgb(190,190,190)"/>
<rect x="490.9" y="256.2" width="1" height="1" fill="rgb(191,191,191)"/>
<rect x="484.0" y="246.1" width="1" height="1" fill="rgb(173,173,173)"/>
<rect x="491.3" y="241.0" width="1" height="1" fill="rgb(206,206,206)"/>
<rect x="482.1" y="259.7" width="1" height="1" fill="rgb(186,186,186)"/>
<rect x="478.6" y="248.3" width="1" height="1" fill="rgb(190,190,190)"/>
<rect x="487.6" y="254.7" width="1" height="1" fill="rgb(187,187,187)"/>
<rect x="491.0" y="248.2" width="1" height="1" fill="rgb(209,209,209)"/>
<rect x="484.1" y="255.7" width="1" height="1" fill="rgb(177,177,177)"/>
<rect x="487.7" y="250.4" width="1" height="1" fill="rgb(213,213,213)"/>
<rect x="481.0" y="256.9" width="1" height="1" fill="rgb(206,206,206)"/>
<rect x="487.1" y="247.5" width="1" height="1" fill="rgb(211,211,211)"/>
<rect x="492.1" y="235.8" width="1" height="1" fill="rgb(216,216,216)"/>
<rect x="488.4" y="252.8" width="1" height="1" fill="rgb(189,189,189)"/>
<rect x="486.9" y="257.8" width="1" height="1" fill="rgb(194,194,194)"/>
<rect x="483.0" y="254.1" width="1" height="1" fill="rgb(185,185,185)"/>
<rect x="482.6" y="251.7" width="1" height="1" fill="rgb(173,173,173)"/>
<rect x="481.6" y="260.5" width="1" height="1" fill="rgb(190,190,190)"/>
<rect x="489.0" y="248.5" width="1" height="1" fill="rgb(217,217,217)"/>
<rect x="491.4" y="245.2" width="1" height="1" fill="rgb(173,173,173)"/>
<rect x="489.6" y="241.5" width="1" height="1" fill="rgb(199,199,199)"/>
<rect x="492.3" y="247.2" width="1" height="1" fill="rgb(199,199,199)"/>
<rect x="489.0" y="241.1" width="1" height="1" fill="rgb(183,183,183)"/>
<rect x="486.4" y="246.9" width="1" height="1" fill="rgb(174,174,174)"/>
<rect x="490.6" y="252.0" width="1" height="1" fill="rgb(171,171,171)"/>
<rect x="487.9" y="250.0" width="1" height="1" fill="rgb(193,193,193)"/>
<rect x="488.7" y="251.1" width="1" height="1" fill="rgb(217,217,217)"/>
<rect x="496.4" y="250.2" width="1" height="1" fill="rgb(210,210,210)"/>
<rect x="479.7" y="258.7" width="1" height="1" fill="rgb(194,194,194)"/>
<rect x="484.4" y="258.1" width="1" height="1" fill="rgb(206,206,206)"/>
<rect x="476.5" y="257.0" width="1" height="1" fill="rgb(216,216,216)"/>
<rect x="491.3" y="242.9" width="1" height="1" fill="rgb(192,192,192)"/>
<rect x="484.9" y="250.9" width="1" height="1" fill="rgb(207,207,207)"/>
<rect x="497.6" y="246.6" width="1" height="1" fill="rgb(174,174,174)"/>
<rect x="481.8" y="253.5" width="1" height="1" fill="rgb(212,212,212)"/>
<rect x="487.5" y="253.9" width="1" height="1" fill="rgb(204,204,204)"/>
<rect x="478.8" y="263.1" width="1" height="1" fill="rgb(214,214,214)"/>
<rect x="491.8" y="244.0" width="1" height="1" fill="rgb(206,206,206)"/>
<rect x="493.5" y="249.7" width="1" height="1" fill="rgb(197,197,197)"/>
<rect x="489.6" y="250.3" width="1" height="1" fill="rgb(175,175,175)"/>
<rect x="488.7" y="253.8" width="1" height="1" fill="rgb(202,202,202)"/>
<rect x="488.1" y="246.4" width="1" height="1" fill="rgb(184,184,184)"/>
<rect x="461.2" y="250.8" width="1" height="1" fill="rgb(173,173,173)"/>
<rect x="461.4" y="264.1" width="1" height="1" fill="rgb(217,217,217)"/>
<rect x="453.6" y="257.6" width="1" height="1" fill="rgb(215,215,215)"/>
<rect x="464.5" y="257.9" width="1" height="1" fill="rgb(190,190,190)"/>
<rect x="457.3" y="259.4" width="1" height="1" fill="rgb(216,216,216)"/>
<rect x="465.9" y="255.2" width="1" height="1" fill="rgb(218,218,218)"/>
<rect x="450.1" y="256.0" width="1" height="1" fill="rgb(179,179,179)"/>
<rect x="454.4" y="253.6" width="1" height="1" fill="rgb(205,205,205)"/>
<rect x="461.9" y="254.6" width="1" height="1" fill="rgb(171,171,171)"/>
<rect x="465.4" y="253.3" width="1" height="1" fill="rgb(218,218,218)"/>
<rect x="464.9" y="259.4" width="1" height="1" fill="rgb(173,173,173)"/>
<rect x="462.6" y="254.7" width="1" height="1" fill="rgb(171,171,171)"/>
<rect x="468.5" y="251.5" width="1" height="1" fill="rgb(215,215,215)"/>
<rect x="471.1" y="250.2" width="1" height="1" fill="rgb(202,202,202)"/>
<rect x="455.6" y="256.5" width="1" height="1" fill="rgb(183,183,183)"/>
<rect x="464.2" y="260.4" width="1" height="1" fill="rgb(171,171,171)"/>
<rect x="451.8" y="258.5" width="1" height="1" fill="rgb(186,186,186)"/>
<rect x="455.5" y="254.2" width="1" height="1" fill="rgb(183,183,183)"/>
<rect x="452.3" y="255.6" width="1" height="1" fill="rgb(175,175,175)"/>
<rect x="460.6" y="248.9" width="1" height="1" fill="rgb(215,215,215)"/>
<rect x="464.3" y="262.0" width="1" height="1" fill="rgb(204,204,204)"/>
<rect x="458.7" y="260.8" width="1" height="1" fill="rgb(181,181,181)"/>
<rect x="459.4" y="258.5" width="1" height="1" fill="rgb(182,182,182)"/>
<rect x="468.5" y="255.0" width="1" height="1" fill="rgb(177,177,177)"/>
<rect x="459.0" y="249.7" width="1" height="1" fill="rgb(215,215,215)"/>
<rect x="461.4" y="263.4" width="1" height="1" fill="rgb(197,197,197)"/>
<rect x="460.8" y="255.4" width="1" height="1" fill="rgb(170,170,170)"/>
<rect x="456.6" y="256.6" width="1" height="1" fill="rgb(174,174,174)"/>
<rect x="465.1" y="252.9" width="1" height="1" fill="rgb(196,196,196)"/>
<rect x="463.2" y="259.5" width="1" height="1" fill="rgb(210,210,210)"/>
<rect x="460.6" y="260.9" width="1" height="1" fill="rgb(196,196,196)"/>
<rect x="459.5" y="253.0" width="1" height="1" fill="rgb(182,182,182)"/>
<rect x="460.7" y="264.0" width="1" height="1" fill="rgb(192,192,192)"/>
<rect x="455.2" y="253.7" width="1" height="1" fill="rgb(180,180,180)"/>
<rect x="454.7" y="252.7" width="1" height="1" fill="rgb(179,179,179)"/>
<rect x="460.8" y="259.3" width="1" height="1" fill="rgb(202,202,202)"/>
<rect x="457.2" y="260.0" width="1" height="1" fill="rgb(198,198,198)"/>
<rect x="459.9" y="250.7" width="1" height="1" fill="rgb(200,200,200)"/>
<rect x="465.4" y="254.5" width="1" height="1" fill="rgb(182,182,182)"/>
<rect x="452.0" y="256.8" width="1" height="1" fill="rgb(202,202,202)"/>
<rect x="460.1" y="257.4" width="1" height="1" fill="rgb(214,214,214)"/>
<rect x="457.3" y="257.0" width="1" height="1" fill="rgb(176,176,176)"/>
<rect x="455.2" y="259.3" width="1" height="1" fill="rgb(192,192,192)"/>
<rect x="455.8" y="248.6" width="1" height="1" fill="rgb(211,211,211)"/>
<rect x="465.9" y="262.5" width="1" height="1" fill="rgb(206,206,206)"/>
<rect x="457.3" y="255.7" width="1" height="1" fill="rgb(216,216,216)"/>
<rect x="451.9" y="256.7" width="1" height="1" fill="rgb(215,215,215)"/>
<rect x="464.3" y="254.1" width="1" height="1" fill="rgb(197,197,197)"/>
<rect x="456.4" y="254.4" width="1" height="1" fill="rgb(211,211,211)"/>
<rect x="453.9" y="250.4" width="1" height="1" fill="rgb(213,213,213)"/>
<rect x="462.5" y="259.0" width="1" height="1" fill="rgb(195,195,195)"/>
<rect x="461.0" y="250.8" width="1" height="1" fill="rgb(213,213,213)"/>
<rect x="461.0" y="263.1" width="1" height="1" fill="rgb(180,180,180)"/>
<rect x="453.2" y="254.8" width="1" height="1" fill="rgb(181,181,181)"/>
<rect x="458.3" y="258.1" width="1" height="1" fill="rgb(171,171,171)"/>
<rect x="450.9" y="251.2" width="1" height="1" fill="rgb(198,198,198)"/>
<rect x="453.3" y="256.1" width="1" height="1" fill="rgb(171,171,171)"/>
<rect x="454.7" y="260.0" width="1" height="1" fill="rgb(190,190,190)"/>
<rect x="454.6" y="252.5" width="1" height="1" fill="rgb(191,191,191)"/>
<rect x="458.8" y="261.5" width="1" height="1" fill="rgb(206,206,206)"/>
<rect x="460.0" y="253.0" width="1" height="1" fill="rgb(193,193,193)"/>
<rect x="459.7" y="254.6" width="1" height="1" fill="rgb(210,210,210)"/>
<rect x="454.3" y="255.2" width="1" height="1" fill="rgb(191,191,191)"/>
<rect x="457.3" y="260.5" width="1" height="1" fill="rgb(214,214,214)"/>
<rect x="457.3" y="257.1" width="1" height="1" fill="rgb(183,183,183)"/>
<rect x="469.1" y="258.6" width="1" height="1" fill="rgb(179,179,179)"/>
<rect x="457.4" y="258.6" width="1" height="1" fill="rgb(197,197,197)"/>
<rect x="458.2" y="262.5" width="1" height="1" fill="rgb(216,216,216)"/>
<rect x="461.4" y="254.9" width="1" height="1" fill="rgb(179,179,179)"/>
<rect x="446.1" y="253.2" width="1" height="1" fill="rgb(175,175,175)"/>
<rect x="459.5" y="253.8" width="1" height="1" fill="rgb(182,182,182)"/>
<rect x="465.8" y="257.2" width="1" height="1" fill="rgb(216,216,216)"/>
<rect x="457.0" y="257.2" width="1" height="1" fill="rgb(215,215,215)"/>
<rect x="459.2" y="250.6" width="1" height="1" fill="rgb(189,189,189)"/>
<rect x="461.0" y="256.3" width="1" height="1" fill="rgb(177,177,177)"/>
<rect x="464.2" y="256.9" width="1" height="1" fill="rgb(214,214,214)"/>
<rect x="457.0" y="254.6" width="1" height="1" fill="rgb(180,180,180)"/>
<rect x="462.1" y="257.7" width="1" height="1" fill="rgb(192,192,192)"/>
<rect x="451.6" y="246.7" width="1" height="1" fill="rgb(193,193,193)"/>
<rect x="467.6" y="261.4" width="1" height="1" fill="rgb(190,190,190)"/>
<rect x="453.4" y="270.5" width="1" height="1" fill="rgb(184,184,184)"/>
<rect x="455.7" y="269.1" width="1" height="1" fill="rgb(213,213,213)"/>
<rect x="456.0" y="267.2" width="1" height="1" fill="rgb(181,181,181)"/>
<rect x="465.3" y="265.7" width="1" height="1" fill="rgb(210,210,210)"/>
<rect x="456.8" y="268.0" width="1" height="1" fill="rgb(203,203,203)"/>
<rect x="447.6" y="264.5" width="1" height="1" fill="rgb(198,198,198)"/>
<rect x="445.1" y="267.2" width="1" height="1" fill="rgb(170,170,170)"/>
<rect x="445.2" y="270.9" width="1" height="1" fill="rgb(208,208,208)"/>
<rect x="451.1" y="265.7" width="1" height="1" fill="rgb(202,202,202)"/>
<rect x="468.1" y="266.9" width="1" height="1" fill="rgb(205,205,205)"/>
<rect x="450.0" y="268.6" width="1" height="1" fill="rgb(214,214,214)"/>
<rect x="450.2" y="272.1" width="1" height="1" fill="rgb(170,170,170)"/>
<rect x="443.4" y="269.0" width="1" height="1" fill="rgb(214,214,214)"/>
<rect x="456.4" y="269.0" width="1" height="1" fill="rgb(193,193,193)"/>
<rect x="449.3" y="271.3" width="1" height="1" fill="rgb(206,206,206)"/>
<rect x="450.5" y="272.0" width="1" height="1" fill="rgb(191,191,191)"/>
<rect x="471.5" y="267.1" width="1" height="1" fill="rgb(209,209,209)"/>
<rect x="463.7" y="274.4" width="1" height="1" fill="rgb(182,182,182)"/>
<rect x="455.5" y="275.4" width="1" height="1" fill="rgb(212,212,212)"/>
<rect x="459.6" y="263.6" width="1" height="1" fill="rgb(207,207,207)"/>
<rect x="455.0" y="266.6" width="1" height="1" fill="rgb(218,218,218)"/>
<rect x="447.0" y="267.0" width="1" height="1" fill="rgb(191,191,191)"/>
<rect x="463.4" y="274.0" width="1" height="1" fill="rgb(201,201,201)"/>
<rect x="468.3" y="267.2" width="1" height="1" fill="rgb(175,175,175)"/>
<rect x="445.7" y="269.3" width="1" height="1" fill="rgb(172,172,172)"/>
<rect x="463.0" y="273.1" width="1" height="1" fill="rgb(206,206,206)"/>
<rect x="452.7" y="270.3" width="1" height="1" fill="rgb(202,202,202)"/>
<rect x="444.5" y="272.1" width="1" height="1" fill="rgb(175,175,175)"/>
<rect x="454.3" y="268.1" width="1" height="1" fill="rgb(194,194,194)"/>
<rect x="456.5" y="270.5" width="1" height="1" fill="rgb(197,197,197)"/>
<rect x="448.0" y="270.7" width="1" height="1" fill="rgb(186,186,186)"/>
<rect x="462.7" y="270.6" width="1" height="1" fill="rgb(193,193,193)"/>
<rect x="462.7" y="271.0" width="1" height="1" fill="rgb(216,216,216)"/>
<rect x="456.3" y="270.0" width="1" height="1" fill="rgb(186,186,186)"/>
<rect x="456.0" y="271.8" width="1" height="1" fill="rgb(202,202,202)"/>
<rect x="498.4" y="265.5" width="1" height="1" fill="rgb(197,197,197)"/>
<rect x="482.9" y="264.9" width="1" height="1" fill="rgb(211,211,211)"/>
<rect x="482.3" y="265.8" width="1" height="1" fill="rgb(190,190,190)"/>
<rect x="472.0" y="270.8" width="1" height="1" fill="rgb(200,200,200)"/>
<rect x="483.5" y="267.8" width="1" height="1" fill="rgb(179,179,179)"/>
<rect x="483.6" y="266.4" width="1" height="1" fill="rgb(208,208,208)"/>
<rect x="488.2" y="267.8" width="1" height="1" fill="rgb(217,217,217)"/>
<rect x="486.3" y="267.3" width="1" height="1" fill="rgb(194,194,194)"/>
<rect x="484.4" y="266.8" width="1" height="1" fill="rgb(202,202,202)"/>
<rect x="487.6" y="268.5" width="1" height="1" fill="rgb(175,175,175)"/>
<rect x="489.7" y="269.7" width="1" height="1" fill="rgb(172,172,172)"/>
<rect x="483.5" y="270.6" width="1" height="1" fill="rgb(215,215,215)"/>
<rect x="485.6" y="268.8" width="1" height="1" fill="rgb(208,208,208)"/>
<rect x="483.1" y="269.0" width="1" height="1" fill="rgb(218,218,218)"/>
<rect x="484.3" y="268.9" width="1" height="1" fill="rgb(202,202,202)"/>
<rect x="481.8" y="269.2" width="1" height="1" fill="rgb(184,184,184)"/>
<rect x="473.3" y="268.6" width="1" height="1" fill="rgb(186,186,186)"/>
<rect x="481.9" y="268.7" width="1" height="1" fill="rgb(180,180,180)"/>
<rect x="487.7" y="266.5" width="1" height="1" fill="rgb(174,174,174)"/>
<rect x="477.8" y="266.2" width="1" height="1" fill="rgb(198,198,198)"/>
<rect x="483.2" y="270.0" width="1" height="1" fill="rgb(200,200,200)"/>
<rect x="484.6" y="265.2" width="1" height="1" fill="rgb(217,217,217)"/>
<rect x="476.6" y="269.9" width="1" height="1" fill="rgb(200,200,200)"/>
<rect x="487.7" y="263.4" width="1" height="1" fill="rgb(186,186,186)"/>
<rect x="486.0" y="270.6" width="1" height="1" fill="rgb(205,205,205)"/>
</g>
<rect x="441.40" y="233.60" width="60.10" height="60.90" fill="none" stroke="#111" stroke-width="1.1"/>
<line x1="470.30" y1="233.60" x2="470.30" y2="294.50" stroke="#111" stroke-width="1.1"/>
<line x1="441.40" y1="263.80" x2="501.50" y2="263.80" stroke="#111" stroke-width="1.1"/>
<text x="454.90" y="227.30" font-size="13" text-anchor="start" stroke="#000" stroke-width="0.28" textLength="34.60" lengthAdjust="spacingAndGlyphs" fill="#000">Day 9</text>
<text x="442.60" y="243.80" font-size="9.2" text-anchor="start" stroke="#000" stroke-width="0.28" textLength="26.20" lengthAdjust="spacingAndGlyphs" fill="#000">2.1x10</text>
<text x="469.10" y="239.20" font-size="4.4" text-anchor="start" stroke="#555" stroke-width="0.28" fill="#555">3</text>
<text x="471.60" y="243.80" font-size="9.2" text-anchor="start" stroke="#000" stroke-width="0.28" textLength="26.20" lengthAdjust="spacingAndGlyphs" fill="#000">9.6x10</text>
<text x="498.10" y="239.20" font-size="4.4" text-anchor="start" stroke="#555" stroke-width="0.28" fill="#555">3</text>
<line x1="439.60" y1="294.50" x2="441.40" y2="294.50" stroke="#111" stroke-width="0.9"/>
<line x1="441.40" y1="294.50" x2="441.40" y2="296.30" stroke="#111" stroke-width="0.9"/>
<line x1="439.60" y1="279.27" x2="441.40" y2="279.27" stroke="#111" stroke-width="0.9"/>
<line x1="456.42" y1="294.50" x2="456.42" y2="296.30" stroke="#111" stroke-width="0.9"/>
<line x1="439.60" y1="264.05" x2="441.40" y2="264.05" stroke="#111" stroke-width="0.9"/>
<line x1="471.45" y1="294.50" x2="471.45" y2="296.30" stroke="#111" stroke-width="0.9"/>
<line x1="439.60" y1="248.82" x2="441.40" y2="248.82" stroke="#111" stroke-width="0.9"/>
<line x1="486.48" y1="294.50" x2="486.48" y2="296.30" stroke="#111" stroke-width="0.9"/>
<line x1="439.60" y1="233.60" x2="441.40" y2="233.60" stroke="#111" stroke-width="0.9"/>
<line x1="501.50" y1="294.50" x2="501.50" y2="296.30" stroke="#111" stroke-width="0.9"/>
<line x1="440.30" y1="289.92" x2="441.40" y2="289.92" stroke="#333" stroke-width="0.6"/>
<line x1="445.92" y1="294.50" x2="445.92" y2="295.60" stroke="#333" stroke-width="0.6"/>
<line x1="440.30" y1="287.24" x2="441.40" y2="287.24" stroke="#333" stroke-width="0.6"/>
<line x1="448.57" y1="294.50" x2="448.57" y2="295.60" stroke="#333" stroke-width="0.6"/>
<line x1="440.30" y1="285.33" x2="441.40" y2="285.33" stroke="#333" stroke-width="0.6"/>
<line x1="450.45" y1="294.50" x2="450.45" y2="295.60" stroke="#333" stroke-width="0.6"/>
<line x1="440.30" y1="283.86" x2="441.40" y2="283.86" stroke="#333" stroke-width="0.6"/>
<line x1="451.90" y1="294.50" x2="451.90" y2="295.60" stroke="#333" stroke-width="0.6"/>
<line x1="440.30" y1="282.65" x2="441.40" y2="282.65" stroke="#333" stroke-width="0.6"/>
<line x1="453.09" y1="294.50" x2="453.09" y2="295.60" stroke="#333" stroke-width="0.6"/>
<line x1="440.30" y1="281.63" x2="441.40" y2="281.63" stroke="#333" stroke-width="0.6"/>
<line x1="454.10" y1="294.50" x2="454.10" y2="295.60" stroke="#333" stroke-width="0.6"/>
<line x1="440.30" y1="280.75" x2="441.40" y2="280.75" stroke="#333" stroke-width="0.6"/>
<line x1="454.97" y1="294.50" x2="454.97" y2="295.60" stroke="#333" stroke-width="0.6"/>
<line x1="440.30" y1="279.97" x2="441.40" y2="279.97" stroke="#333" stroke-width="0.6"/>
<line x1="455.74" y1="294.50" x2="455.74" y2="295.60" stroke="#333" stroke-width="0.6"/>
<line x1="440.30" y1="274.69" x2="441.40" y2="274.69" stroke="#333" stroke-width="0.6"/>
<line x1="460.95" y1="294.50" x2="460.95" y2="295.60" stroke="#333" stroke-width="0.6"/>
<line x1="440.30" y1="272.01" x2="441.40" y2="272.01" stroke="#333" stroke-width="0.6"/>
<line x1="463.59" y1="294.50" x2="463.59" y2="295.60" stroke="#333" stroke-width="0.6"/>
<line x1="440.30" y1="270.11" x2="441.40" y2="270.11" stroke="#333" stroke-width="0.6"/>
<line x1="465.47" y1="294.50" x2="465.47" y2="295.60" stroke="#333" stroke-width="0.6"/>
<line x1="440.30" y1="268.63" x2="441.40" y2="268.63" stroke="#333" stroke-width="0.6"/>
<line x1="466.93" y1="294.50" x2="466.93" y2="295.60" stroke="#333" stroke-width="0.6"/>
<line x1="440.30" y1="267.43" x2="441.40" y2="267.43" stroke="#333" stroke-width="0.6"/>
<line x1="468.12" y1="294.50" x2="468.12" y2="295.60" stroke="#333" stroke-width="0.6"/>
<line x1="440.30" y1="266.41" x2="441.40" y2="266.41" stroke="#333" stroke-width="0.6"/>
<line x1="469.12" y1="294.50" x2="469.12" y2="295.60" stroke="#333" stroke-width="0.6"/>
<line x1="440.30" y1="265.53" x2="441.40" y2="265.53" stroke="#333" stroke-width="0.6"/>
<line x1="469.99" y1="294.50" x2="469.99" y2="295.60" stroke="#333" stroke-width="0.6"/>
<line x1="440.30" y1="264.75" x2="441.40" y2="264.75" stroke="#333" stroke-width="0.6"/>
<line x1="470.76" y1="294.50" x2="470.76" y2="295.60" stroke="#333" stroke-width="0.6"/>
<line x1="440.30" y1="259.47" x2="441.40" y2="259.47" stroke="#333" stroke-width="0.6"/>
<line x1="475.97" y1="294.50" x2="475.97" y2="295.60" stroke="#333" stroke-width="0.6"/>
<line x1="440.30" y1="256.79" x2="441.40" y2="256.79" stroke="#333" stroke-width="0.6"/>
<line x1="478.62" y1="294.50" x2="478.62" y2="295.60" stroke="#333" stroke-width="0.6"/>
<line x1="440.30" y1="254.88" x2="441.40" y2="254.88" stroke="#333" stroke-width="0.6"/>
<line x1="480.50" y1="294.50" x2="480.50" y2="295.60" stroke="#333" stroke-width="0.6"/>
<line x1="440.30" y1="253.41" x2="441.40" y2="253.41" stroke="#333" stroke-width="0.6"/>
<line x1="481.95" y1="294.50" x2="481.95" y2="295.60" stroke="#333" stroke-width="0.6"/>
<line x1="440.30" y1="252.20" x2="441.40" y2="252.20" stroke="#333" stroke-width="0.6"/>
<line x1="483.14" y1="294.50" x2="483.14" y2="295.60" stroke="#333" stroke-width="0.6"/>
<line x1="440.30" y1="251.18" x2="441.40" y2="251.18" stroke="#333" stroke-width="0.6"/>
<line x1="484.15" y1="294.50" x2="484.15" y2="295.60" stroke="#333" stroke-width="0.6"/>
<line x1="440.30" y1="250.30" x2="441.40" y2="250.30" stroke="#333" stroke-width="0.6"/>
<line x1="485.02" y1="294.50" x2="485.02" y2="295.60" stroke="#333" stroke-width="0.6"/>
<line x1="440.30" y1="249.52" x2="441.40" y2="249.52" stroke="#333" stroke-width="0.6"/>
<line x1="485.79" y1="294.50" x2="485.79" y2="295.60" stroke="#333" stroke-width="0.6"/>
<line x1="440.30" y1="244.24" x2="441.40" y2="244.24" stroke="#333" stroke-width="0.6"/>
<line x1="491.00" y1="294.50" x2="491.00" y2="295.60" stroke="#333" stroke-width="0.6"/>
<line x1="440.30" y1="241.56" x2="441.40" y2="241.56" stroke="#333" stroke-width="0.6"/>
<line x1="493.64" y1="294.50" x2="493.64" y2="295.60" stroke="#333" stroke-width="0.6"/>
<line x1="440.30" y1="239.66" x2="441.40" y2="239.66" stroke="#333" stroke-width="0.6"/>
<line x1="495.52" y1="294.50" x2="495.52" y2="295.60" stroke="#333" stroke-width="0.6"/>
<line x1="440.30" y1="238.18" x2="441.40" y2="238.18" stroke="#333" stroke-width="0.6"/>
<line x1="496.98" y1="294.50" x2="496.98" y2="295.60" stroke="#333" stroke-width="0.6"/>
<line x1="440.30" y1="236.98" x2="441.40" y2="236.98" stroke="#333" stroke-width="0.6"/>
<line x1="498.17" y1="294.50" x2="498.17" y2="295.60" stroke="#333" stroke-width="0.6"/>
<line x1="440.30" y1="235.96" x2="441.40" y2="235.96" stroke="#333" stroke-width="0.6"/>
<line x1="499.17" y1="294.50" x2="499.17" y2="295.60" stroke="#333" stroke-width="0.6"/>
<line x1="440.30" y1="235.08" x2="441.40" y2="235.08" stroke="#333" stroke-width="0.6"/>
<line x1="500.04" y1="294.50" x2="500.04" y2="295.60" stroke="#333" stroke-width="0.6"/>
<line x1="440.30" y1="234.30" x2="441.40" y2="234.30" stroke="#333" stroke-width="0.6"/>
<line x1="500.81" y1="294.50" x2="500.81" y2="295.60" stroke="#333" stroke-width="0.6"/>
<text transform="translate(436.50,298.10) rotate(-90)" font-size="8" text-anchor="start" font-weight="bold" stroke="#000" stroke-width="0.28" textLength="6.60" lengthAdjust="spacingAndGlyphs" fill="#000">10</text>
<text transform="translate(432.00,291.40) rotate(-90)" font-size="5.8" text-anchor="start" font-weight="bold" stroke="#000" stroke-width="0.28" fill="#000">0</text>
<text transform="translate(436.50,282.88) rotate(-90)" font-size="8" text-anchor="start" font-weight="bold" stroke="#000" stroke-width="0.28" textLength="6.60" lengthAdjust="spacingAndGlyphs" fill="#000">10</text>
<text transform="translate(432.00,276.17) rotate(-90)" font-size="5.8" text-anchor="start" font-weight="bold" stroke="#000" stroke-width="0.28" fill="#000">1</text>
<text transform="translate(436.50,267.65) rotate(-90)" font-size="8" text-anchor="start" font-weight="bold" stroke="#000" stroke-width="0.28" textLength="6.60" lengthAdjust="spacingAndGlyphs" fill="#000">10</text>
<text transform="translate(432.00,260.95) rotate(-90)" font-size="5.8" text-anchor="start" font-weight="bold" stroke="#000" stroke-width="0.28" fill="#000">2</text>
<text transform="translate(436.50,252.42) rotate(-90)" font-size="8" text-anchor="start" font-weight="bold" stroke="#000" stroke-width="0.28" textLength="6.60" lengthAdjust="spacingAndGlyphs" fill="#000">10</text>
<text transform="translate(432.00,245.72) rotate(-90)" font-size="5.8" text-anchor="start" font-weight="bold" stroke="#000" stroke-width="0.28" fill="#000">3</text>
<text transform="translate(436.50,237.20) rotate(-90)" font-size="8" text-anchor="start" font-weight="bold" stroke="#000" stroke-width="0.28" textLength="6.60" lengthAdjust="spacingAndGlyphs" fill="#000">10</text>
<text transform="translate(432.00,230.50) rotate(-90)" font-size="5.8" text-anchor="start" font-weight="bold" stroke="#000" stroke-width="0.28" fill="#000">4</text>
<text x="438.50" y="306.00" font-size="7.5" text-anchor="start" font-weight="bold" stroke="#000" stroke-width="0.28" textLength="8.30" lengthAdjust="spacingAndGlyphs" fill="#000">10</text>
<text x="446.60" y="301.10" font-size="5.2" text-anchor="start" font-weight="bold" stroke="#000" stroke-width="0.28" fill="#000">0</text>
<text x="453.52" y="306.00" font-size="7.5" text-anchor="start" font-weight="bold" stroke="#000" stroke-width="0.28" textLength="8.30" lengthAdjust="spacingAndGlyphs" fill="#000">10</text>
<text x="461.62" y="301.10" font-size="5.2" text-anchor="start" font-weight="bold" stroke="#000" stroke-width="0.28" fill="#000">1</text>
<text x="468.55" y="306.00" font-size="7.5" text-anchor="start" font-weight="bold" stroke="#000" stroke-width="0.28" textLength="8.30" lengthAdjust="spacingAndGlyphs" fill="#000">10</text>
<text x="476.65" y="301.10" font-size="5.2" text-anchor="start" font-weight="bold" stroke="#000" stroke-width="0.28" fill="#000">2</text>
<text x="483.58" y="306.00" font-size="7.5" text-anchor="start" font-weight="bold" stroke="#000" stroke-width="0.28" textLength="8.30" lengthAdjust="spacingAndGlyphs" fill="#000">10</text>
<text x="491.68" y="301.10" font-size="5.2" text-anchor="start" font-weight="bold" stroke="#000" stroke-width="0.28" fill="#000">3</text>
<text x="498.60" y="306.00" font-size="7.5" text-anchor="start" font-weight="bold" stroke="#000" stroke-width="0.28" textLength="8.30" lengthAdjust="spacingAndGlyphs" fill="#000">10</text>
<text x="506.70" y="301.10" font-size="5.2" text-anchor="start" font-weight="bold" stroke="#000" stroke-width="0.28" fill="#000">4</text>
<text x="464.10" y="313.40" font-size="8.2" text-anchor="start" font-weight="bold" stroke="#000" stroke-width="0.28" textLength="19.30" lengthAdjust="spacingAndGlyphs" fill="#000">FL4-H</text>
<text transform="translate(426.20,275.10) rotate(-90)" font-size="6" text-anchor="start" font-weight="bold" stroke="#000" stroke-width="0.28" textLength="19.80" lengthAdjust="spacingAndGlyphs" fill="#000">FL2-H</text></svg>
</div></body></html>
